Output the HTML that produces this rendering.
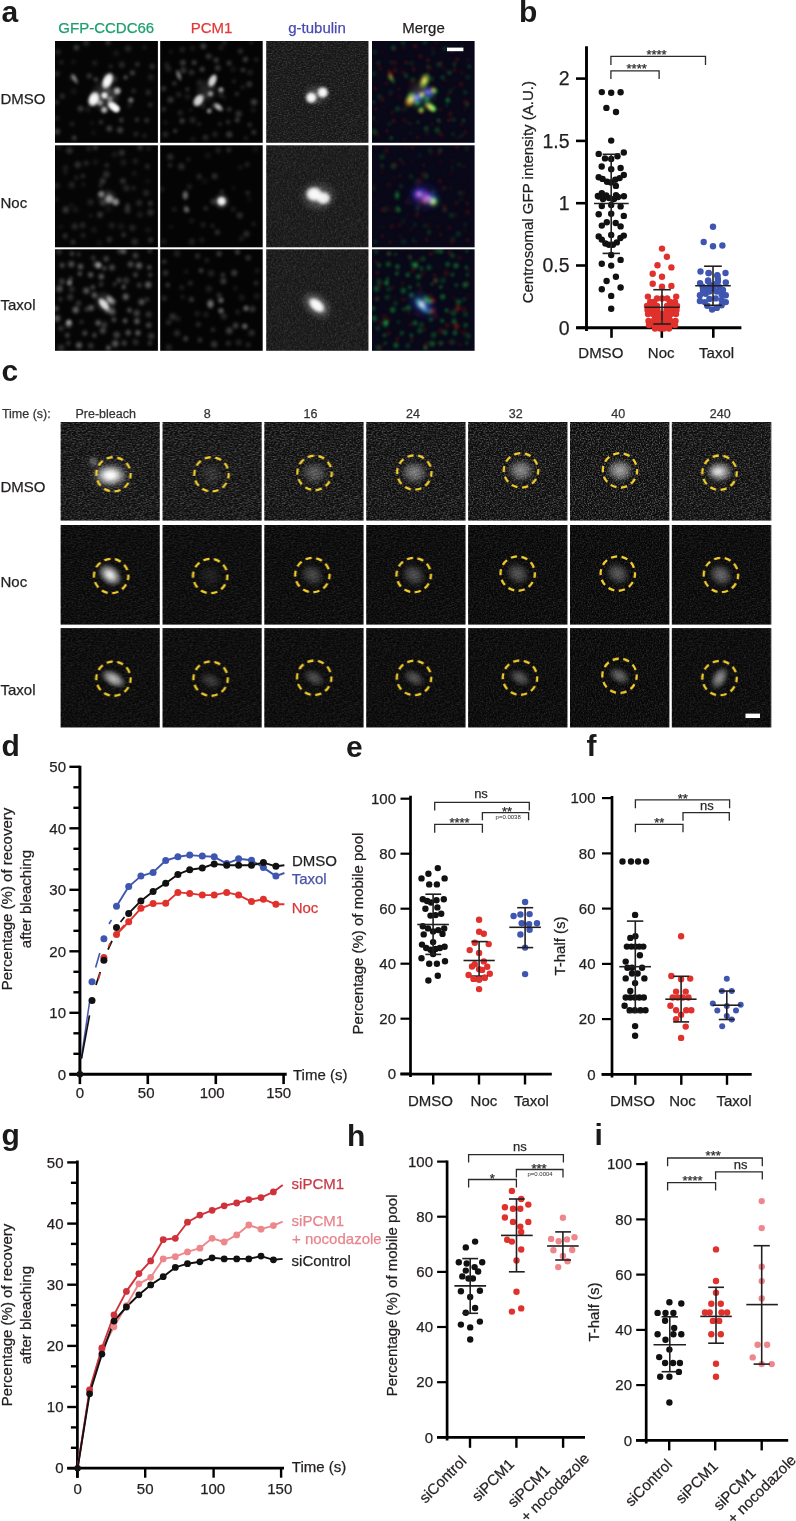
<!DOCTYPE html>
<html><head><meta charset="utf-8"><style>
html,body{margin:0;padding:0;background:#fff;}
svg{display:block;font-family:"Liberation Sans",sans-serif;will-change:transform;}
</style></head><body>
<svg width="796" height="1521" viewBox="0 0 796 1521">
<defs>
<radialGradient id="wg"><stop offset="0" stop-color="#fff" stop-opacity="1"/><stop offset="0.45" stop-color="#fff" stop-opacity="0.7"/><stop offset="1" stop-color="#fff" stop-opacity="0"/></radialGradient>
<radialGradient id="wb"><stop offset="0" stop-color="#fff" stop-opacity="1"/><stop offset="0.55" stop-color="#fff" stop-opacity="0.92"/><stop offset="0.8" stop-color="#fff" stop-opacity="0.4"/><stop offset="1" stop-color="#fff" stop-opacity="0"/></radialGradient>
<radialGradient id="gg"><stop offset="0" stop-color="#40ff60" stop-opacity="1"/><stop offset="0.45" stop-color="#20c040" stop-opacity="0.7"/><stop offset="1" stop-color="#00a020" stop-opacity="0"/></radialGradient>
<radialGradient id="rg"><stop offset="0" stop-color="#ff4020" stop-opacity="1"/><stop offset="0.45" stop-color="#d02010" stop-opacity="0.7"/><stop offset="1" stop-color="#a01000" stop-opacity="0"/></radialGradient>
<radialGradient id="bg"><stop offset="0" stop-color="#8080ff" stop-opacity="1"/><stop offset="0.45" stop-color="#3030e0" stop-opacity="0.7"/><stop offset="1" stop-color="#2020c0" stop-opacity="0"/></radialGradient>
<radialGradient id="yg"><stop offset="0" stop-color="#ffff60" stop-opacity="1"/><stop offset="0.45" stop-color="#c0e030" stop-opacity="0.7"/><stop offset="1" stop-color="#80c000" stop-opacity="0"/></radialGradient>
<radialGradient id="cg"><stop offset="0" stop-color="#b0e0ff" stop-opacity="1"/><stop offset="0.45" stop-color="#4060f0" stop-opacity="0.7"/><stop offset="1" stop-color="#2020c0" stop-opacity="0"/></radialGradient>
<filter id="noise" x="0" y="0" width="100%" height="100%"><feTurbulence type="fractalNoise" baseFrequency="0.75" numOctaves="2" seed="3"/><feColorMatrix type="matrix" values="0 0 0 0 1  0 0 0 0 1  0 0 0 0 1  2.2 0 0 0 -0.95"/></filter>
<filter id="noise2" x="0" y="0" width="100%" height="100%"><feTurbulence type="fractalNoise" baseFrequency="0.6" numOctaves="2" seed="11"/><feColorMatrix type="matrix" values="0 0 0 0 1  0 0 0 0 1  0 0 0 0 1  2.0 0 0 0 -0.9"/></filter>
<filter id="bl1" x="-20%" y="-20%" width="140%" height="140%"><feGaussianBlur stdDeviation="0.9"/></filter>
<filter id="bl2" x="-20%" y="-20%" width="140%" height="140%"><feGaussianBlur stdDeviation="1.6"/></filter>
</defs>
<text x="1.5" y="22.0" font-size="30" fill="#1a1a1a" text-anchor="start" font-weight="bold">a</text>
<text x="106.3" y="33.3" font-size="15" fill="#1f9e6e" text-anchor="middle" stroke="#1f9e6e" stroke-width="0.25">GFP-CCDC66</text>
<text x="211.5" y="33.3" font-size="15" fill="#e03a3a" text-anchor="middle" stroke="#e03a3a" stroke-width="0.25">PCM1</text>
<text x="317.0" y="33.3" font-size="15" fill="#4a4ab0" text-anchor="middle" stroke="#4a4ab0" stroke-width="0.25">g-tubulin</text>
<text x="423.5" y="33.3" font-size="15" fill="#231f20" text-anchor="middle" stroke="#231f20" stroke-width="0.25">Merge</text>
<text x="0.5" y="103.5" font-size="15" fill="#231f20" text-anchor="start" stroke="#231f20" stroke-width="0.25">DMSO</text>
<text x="0.5" y="207.5" font-size="15" fill="#231f20" text-anchor="start" stroke="#231f20" stroke-width="0.25">Noc</text>
<text x="0.5" y="309.5" font-size="15" fill="#231f20" text-anchor="start" stroke="#231f20" stroke-width="0.25">Taxol</text>
<svg x="55.0" y="41.0" width="102.9" height="101.8" overflow="hidden">
<rect x="0.0" y="0.0" width="102.9" height="101.8" fill="#050505"/>
<g filter="url(#bl2)">
<ellipse cx="3.0" cy="11.1" rx="4.1" ry="4.1" fill="url(#wg)" opacity="0.14"/>
<ellipse cx="21.4" cy="6.6" rx="3.9" ry="3.9" fill="url(#wg)" opacity="0.25"/>
<ellipse cx="31.1" cy="1.8" rx="4.2" ry="4.2" fill="url(#wg)" opacity="0.18"/>
<ellipse cx="53.0" cy="1.5" rx="3.5" ry="3.5" fill="url(#wg)" opacity="0.24"/>
<ellipse cx="61.2" cy="12.2" rx="4.3" ry="4.3" fill="url(#wg)" opacity="0.09"/>
<ellipse cx="73.1" cy="7.6" rx="4.4" ry="4.4" fill="url(#wg)" opacity="0.16"/>
<ellipse cx="89.6" cy="6.3" rx="2.8" ry="2.8" fill="url(#wg)" opacity="0.13"/>
<ellipse cx="6.4" cy="21.4" rx="3.2" ry="3.2" fill="url(#wg)" opacity="0.13"/>
<ellipse cx="18.2" cy="21.0" rx="3.3" ry="3.3" fill="url(#wg)" opacity="0.08"/>
<ellipse cx="39.6" cy="22.1" rx="3.9" ry="3.9" fill="url(#wg)" opacity="0.12"/>
<ellipse cx="55.6" cy="25.5" rx="3.0" ry="3.0" fill="url(#wg)" opacity="0.15"/>
<ellipse cx="66.8" cy="23.8" rx="4.4" ry="4.4" fill="url(#wg)" opacity="0.17"/>
<ellipse cx="82.3" cy="23.4" rx="3.3" ry="3.3" fill="url(#wg)" opacity="0.21"/>
<ellipse cx="97.2" cy="25.4" rx="3.6" ry="3.6" fill="url(#wg)" opacity="0.21"/>
<ellipse cx="1.8" cy="32.8" rx="4.1" ry="4.1" fill="url(#wg)" opacity="0.17"/>
<ellipse cx="17.7" cy="36.3" rx="4.0" ry="4.0" fill="url(#wg)" opacity="0.23"/>
<ellipse cx="34.3" cy="35.0" rx="3.6" ry="3.6" fill="url(#wg)" opacity="0.25"/>
<ellipse cx="50.2" cy="34.5" rx="3.6" ry="3.6" fill="url(#wg)" opacity="0.09"/>
<ellipse cx="59.1" cy="38.0" rx="4.5" ry="4.5" fill="url(#wg)" opacity="0.21"/>
<ellipse cx="77.4" cy="31.9" rx="3.6" ry="3.6" fill="url(#wg)" opacity="0.30"/>
<ellipse cx="95.9" cy="36.2" rx="4.3" ry="4.3" fill="url(#wg)" opacity="0.13"/>
<ellipse cx="7.3" cy="55.2" rx="3.8" ry="3.8" fill="url(#wg)" opacity="0.18"/>
<ellipse cx="18.8" cy="50.5" rx="4.4" ry="4.4" fill="url(#wg)" opacity="0.08"/>
<ellipse cx="39.0" cy="53.7" rx="4.3" ry="4.3" fill="url(#wg)" opacity="0.24"/>
<ellipse cx="53.5" cy="50.2" rx="3.7" ry="3.7" fill="url(#wg)" opacity="0.17"/>
<ellipse cx="59.2" cy="54.2" rx="3.7" ry="3.7" fill="url(#wg)" opacity="0.12"/>
<ellipse cx="78.6" cy="49.8" rx="3.4" ry="3.4" fill="url(#wg)" opacity="0.16"/>
<ellipse cx="93.3" cy="51.4" rx="3.8" ry="3.8" fill="url(#wg)" opacity="0.18"/>
<ellipse cx="1.7" cy="61.2" rx="3.1" ry="3.1" fill="url(#wg)" opacity="0.21"/>
<ellipse cx="25.6" cy="67.7" rx="4.1" ry="4.1" fill="url(#wg)" opacity="0.26"/>
<ellipse cx="32.9" cy="68.2" rx="3.9" ry="3.9" fill="url(#wg)" opacity="0.10"/>
<ellipse cx="44.5" cy="58.7" rx="4.1" ry="4.1" fill="url(#wg)" opacity="0.13"/>
<ellipse cx="59.8" cy="65.7" rx="3.4" ry="3.4" fill="url(#wg)" opacity="0.10"/>
<ellipse cx="74.7" cy="64.6" rx="3.0" ry="3.0" fill="url(#wg)" opacity="0.14"/>
<ellipse cx="95.3" cy="63.8" rx="3.3" ry="3.3" fill="url(#wg)" opacity="0.18"/>
<ellipse cx="1.7" cy="77.3" rx="3.5" ry="3.5" fill="url(#wg)" opacity="0.12"/>
<ellipse cx="17.0" cy="83.1" rx="3.6" ry="3.6" fill="url(#wg)" opacity="0.13"/>
<ellipse cx="36.9" cy="82.2" rx="2.8" ry="2.8" fill="url(#wg)" opacity="0.08"/>
<ellipse cx="46.0" cy="81.1" rx="3.0" ry="3.0" fill="url(#wg)" opacity="0.24"/>
<ellipse cx="66.3" cy="79.1" rx="3.1" ry="3.1" fill="url(#wg)" opacity="0.29"/>
<ellipse cx="82.0" cy="78.8" rx="3.1" ry="3.1" fill="url(#wg)" opacity="0.22"/>
<ellipse cx="91.7" cy="79.4" rx="3.3" ry="3.3" fill="url(#wg)" opacity="0.22"/>
<ellipse cx="2.1" cy="90.6" rx="4.4" ry="4.4" fill="url(#wg)" opacity="0.27"/>
<ellipse cx="19.2" cy="97.0" rx="3.3" ry="3.3" fill="url(#wg)" opacity="0.29"/>
<ellipse cx="38.5" cy="91.9" rx="3.2" ry="3.2" fill="url(#wg)" opacity="0.08"/>
<ellipse cx="54.3" cy="87.6" rx="4.2" ry="4.2" fill="url(#wg)" opacity="0.29"/>
<ellipse cx="65.1" cy="89.1" rx="4.3" ry="4.3" fill="url(#wg)" opacity="0.29"/>
<ellipse cx="80.9" cy="93.0" rx="3.4" ry="3.4" fill="url(#wg)" opacity="0.16"/>
<ellipse cx="89.5" cy="94.8" rx="3.5" ry="3.5" fill="url(#wg)" opacity="0.12"/>
</g>
<g filter="url(#bl1)">
<ellipse cx="52.6" cy="39.9" rx="5.8" ry="10.0" fill="url(#wb)" opacity="1.00" transform="rotate(25 52.6 39.9)"/>
<ellipse cx="38.8" cy="58.2" rx="6.4" ry="8.8" fill="url(#wb)" opacity="1.00" transform="rotate(25 38.8 58.2)"/>
<ellipse cx="49.5" cy="54.4" rx="4.2" ry="4.2" fill="url(#wb)" opacity="0.90"/>
<ellipse cx="62.3" cy="49.9" rx="4.8" ry="4.8" fill="url(#wg)" opacity="0.80"/>
<ellipse cx="58.2" cy="65.5" rx="7.8" ry="4.8" fill="url(#wb)" opacity="1.00" transform="rotate(40 58.2 65.5)"/>
<ellipse cx="61.3" cy="67.9" rx="4.6" ry="4.6" fill="url(#wb)" opacity="0.95"/>
<ellipse cx="49.2" cy="68.9" rx="4.4" ry="4.4" fill="url(#wg)" opacity="0.80"/>
<ellipse cx="45.0" cy="62.0" rx="4.0" ry="4.0" fill="url(#wg)" opacity="0.60"/>
<ellipse cx="55.0" cy="58.0" rx="4.0" ry="4.0" fill="url(#wg)" opacity="0.50"/>
<ellipse cx="75.8" cy="59.2" rx="4.0" ry="4.0" fill="url(#wg)" opacity="0.45"/>
<ellipse cx="70.6" cy="36.4" rx="3.6" ry="3.6" fill="url(#wg)" opacity="0.25"/>
<ellipse cx="40.9" cy="38.5" rx="3.6" ry="3.6" fill="url(#wg)" opacity="0.22"/>
<ellipse cx="50.0" cy="55.0" rx="16.0" ry="18.0" fill="url(#wg)" opacity="0.22"/>
<ellipse cx="19.8" cy="38.0" rx="3.2" ry="7.0" fill="url(#wg)" opacity="0.45" transform="rotate(-30 19.8 38.0)"/>
</g>
</svg>
<svg x="160.2" y="41.0" width="102.6" height="101.8" overflow="hidden">
<rect x="0.0" y="0.0" width="102.6" height="101.8" fill="#040404"/>
<g filter="url(#bl2)">
<ellipse cx="10.8" cy="10.7" rx="2.8" ry="2.8" fill="url(#wg)" opacity="0.10"/>
<ellipse cx="22.1" cy="8.6" rx="3.9" ry="3.9" fill="url(#wg)" opacity="0.15"/>
<ellipse cx="32.3" cy="7.3" rx="3.8" ry="3.8" fill="url(#wg)" opacity="0.11"/>
<ellipse cx="43.1" cy="5.2" rx="4.0" ry="4.0" fill="url(#wg)" opacity="0.30"/>
<ellipse cx="60.7" cy="6.7" rx="3.5" ry="3.5" fill="url(#wg)" opacity="0.14"/>
<ellipse cx="64.1" cy="1.5" rx="3.6" ry="3.6" fill="url(#wg)" opacity="0.15"/>
<ellipse cx="80.1" cy="10.2" rx="3.7" ry="3.7" fill="url(#wg)" opacity="0.20"/>
<ellipse cx="91.1" cy="1.5" rx="3.3" ry="3.3" fill="url(#wg)" opacity="0.11"/>
<ellipse cx="6.4" cy="23.7" rx="3.9" ry="3.9" fill="url(#wg)" opacity="0.12"/>
<ellipse cx="22.7" cy="21.7" rx="4.0" ry="4.0" fill="url(#wg)" opacity="0.28"/>
<ellipse cx="33.9" cy="21.6" rx="3.4" ry="3.4" fill="url(#wg)" opacity="0.30"/>
<ellipse cx="48.4" cy="15.4" rx="4.1" ry="4.1" fill="url(#wg)" opacity="0.24"/>
<ellipse cx="55.9" cy="19.1" rx="3.6" ry="3.6" fill="url(#wg)" opacity="0.28"/>
<ellipse cx="68.8" cy="22.1" rx="3.4" ry="3.4" fill="url(#wg)" opacity="0.27"/>
<ellipse cx="85.2" cy="18.4" rx="3.7" ry="3.7" fill="url(#wg)" opacity="0.28"/>
<ellipse cx="96.0" cy="18.6" rx="3.1" ry="3.1" fill="url(#wg)" opacity="0.15"/>
<ellipse cx="8.2" cy="27.9" rx="4.3" ry="4.3" fill="url(#wg)" opacity="0.14"/>
<ellipse cx="22.9" cy="29.3" rx="4.4" ry="4.4" fill="url(#wg)" opacity="0.24"/>
<ellipse cx="31.3" cy="31.4" rx="3.9" ry="3.9" fill="url(#wg)" opacity="0.21"/>
<ellipse cx="41.9" cy="28.3" rx="3.6" ry="3.6" fill="url(#wg)" opacity="0.29"/>
<ellipse cx="57.5" cy="27.0" rx="4.2" ry="4.2" fill="url(#wg)" opacity="0.24"/>
<ellipse cx="72.8" cy="28.2" rx="4.1" ry="4.1" fill="url(#wg)" opacity="0.09"/>
<ellipse cx="82.8" cy="29.0" rx="3.1" ry="3.1" fill="url(#wg)" opacity="0.27"/>
<ellipse cx="89.8" cy="31.5" rx="4.2" ry="4.2" fill="url(#wg)" opacity="0.13"/>
<ellipse cx="3.4" cy="47.6" rx="3.5" ry="3.5" fill="url(#wg)" opacity="0.24"/>
<ellipse cx="14.1" cy="42.4" rx="3.1" ry="3.1" fill="url(#wg)" opacity="0.23"/>
<ellipse cx="27.1" cy="48.3" rx="2.8" ry="2.8" fill="url(#wg)" opacity="0.24"/>
<ellipse cx="39.0" cy="41.3" rx="4.2" ry="4.2" fill="url(#wg)" opacity="0.11"/>
<ellipse cx="53.1" cy="45.7" rx="3.4" ry="3.4" fill="url(#wg)" opacity="0.09"/>
<ellipse cx="73.7" cy="40.3" rx="2.8" ry="2.8" fill="url(#wg)" opacity="0.16"/>
<ellipse cx="82.4" cy="46.2" rx="2.9" ry="2.9" fill="url(#wg)" opacity="0.15"/>
<ellipse cx="89.1" cy="43.2" rx="4.1" ry="4.1" fill="url(#wg)" opacity="0.24"/>
<ellipse cx="10.3" cy="58.8" rx="4.3" ry="4.3" fill="url(#wg)" opacity="0.24"/>
<ellipse cx="18.5" cy="53.5" rx="3.9" ry="3.9" fill="url(#wg)" opacity="0.15"/>
<ellipse cx="27.3" cy="55.7" rx="4.3" ry="4.3" fill="url(#wg)" opacity="0.11"/>
<ellipse cx="44.6" cy="55.2" rx="3.7" ry="3.7" fill="url(#wg)" opacity="0.11"/>
<ellipse cx="60.8" cy="53.8" rx="3.8" ry="3.8" fill="url(#wg)" opacity="0.17"/>
<ellipse cx="63.9" cy="56.8" rx="3.0" ry="3.0" fill="url(#wg)" opacity="0.09"/>
<ellipse cx="76.6" cy="52.9" rx="2.9" ry="2.9" fill="url(#wg)" opacity="0.22"/>
<ellipse cx="93.8" cy="61.1" rx="4.4" ry="4.4" fill="url(#wg)" opacity="0.30"/>
<ellipse cx="3.6" cy="68.2" rx="3.2" ry="3.2" fill="url(#wg)" opacity="0.21"/>
<ellipse cx="20.0" cy="71.8" rx="4.0" ry="4.0" fill="url(#wg)" opacity="0.14"/>
<ellipse cx="30.5" cy="69.0" rx="2.8" ry="2.8" fill="url(#wg)" opacity="0.09"/>
<ellipse cx="42.8" cy="64.9" rx="4.0" ry="4.0" fill="url(#wg)" opacity="0.13"/>
<ellipse cx="52.2" cy="65.6" rx="3.2" ry="3.2" fill="url(#wg)" opacity="0.13"/>
<ellipse cx="69.0" cy="68.4" rx="3.3" ry="3.3" fill="url(#wg)" opacity="0.22"/>
<ellipse cx="78.4" cy="72.8" rx="4.4" ry="4.4" fill="url(#wg)" opacity="0.24"/>
<ellipse cx="93.1" cy="68.9" rx="3.8" ry="3.8" fill="url(#wg)" opacity="0.09"/>
<ellipse cx="5.4" cy="81.5" rx="3.1" ry="3.1" fill="url(#wg)" opacity="0.10"/>
<ellipse cx="21.8" cy="79.9" rx="3.7" ry="3.7" fill="url(#wg)" opacity="0.28"/>
<ellipse cx="32.4" cy="79.1" rx="4.5" ry="4.5" fill="url(#wg)" opacity="0.16"/>
<ellipse cx="38.9" cy="83.1" rx="2.9" ry="2.9" fill="url(#wg)" opacity="0.15"/>
<ellipse cx="59.7" cy="83.0" rx="2.8" ry="2.8" fill="url(#wg)" opacity="0.18"/>
<ellipse cx="67.9" cy="81.1" rx="3.1" ry="3.1" fill="url(#wg)" opacity="0.21"/>
<ellipse cx="77.0" cy="79.1" rx="3.4" ry="3.4" fill="url(#wg)" opacity="0.29"/>
<ellipse cx="89.5" cy="83.8" rx="3.1" ry="3.1" fill="url(#wg)" opacity="0.21"/>
<ellipse cx="5.2" cy="93.4" rx="4.1" ry="4.1" fill="url(#wg)" opacity="0.17"/>
<ellipse cx="15.0" cy="90.0" rx="2.9" ry="2.9" fill="url(#wg)" opacity="0.27"/>
<ellipse cx="32.7" cy="98.3" rx="4.0" ry="4.0" fill="url(#wg)" opacity="0.09"/>
<ellipse cx="45.3" cy="96.5" rx="4.0" ry="4.0" fill="url(#wg)" opacity="0.19"/>
<ellipse cx="54.8" cy="93.3" rx="4.1" ry="4.1" fill="url(#wg)" opacity="0.14"/>
<ellipse cx="69.0" cy="93.5" rx="4.4" ry="4.4" fill="url(#wg)" opacity="0.26"/>
<ellipse cx="85.6" cy="97.1" rx="3.3" ry="3.3" fill="url(#wg)" opacity="0.13"/>
<ellipse cx="93.6" cy="91.3" rx="3.5" ry="3.5" fill="url(#wg)" opacity="0.23"/>
</g>
<g filter="url(#bl1)">
<ellipse cx="52.3" cy="39.6" rx="4.6" ry="8.0" fill="url(#wb)" opacity="0.85" transform="rotate(25 52.3 39.6)"/>
<ellipse cx="38.3" cy="59.4" rx="5.5" ry="8.0" fill="url(#wb)" opacity="0.85" transform="rotate(35 38.3 59.4)"/>
<ellipse cx="50.2" cy="52.8" rx="3.8" ry="3.8" fill="url(#wg)" opacity="0.65"/>
<ellipse cx="60.7" cy="48.8" rx="3.8" ry="3.8" fill="url(#wg)" opacity="0.65"/>
<ellipse cx="58.0" cy="66.0" rx="7.0" ry="4.0" fill="url(#wg)" opacity="0.80" transform="rotate(40 58.0 66.0)"/>
<ellipse cx="48.9" cy="70.0" rx="3.5" ry="3.5" fill="url(#wg)" opacity="0.60"/>
<ellipse cx="18.5" cy="34.3" rx="3.2" ry="7.0" fill="url(#wg)" opacity="0.50" transform="rotate(-20 18.5 34.3)"/>
<ellipse cx="46.0" cy="50.0" rx="12.0" ry="14.0" fill="url(#wg)" opacity="0.15"/>
</g>
</svg>
<svg x="266.2" y="41.0" width="102.3" height="101.8" overflow="hidden">
<rect x="0.0" y="0.0" width="102.3" height="101.8" fill="#161616"/>
<rect x="0" y="0" width="102.3" height="101.8" filter="url(#noise)" opacity="0.22"/>
<g filter="url(#bl2)">
</g>
<g filter="url(#bl1)">
<ellipse cx="45.0" cy="56.7" rx="6.5" ry="6.5" fill="url(#wb)" opacity="1.00"/>
<ellipse cx="56.5" cy="51.4" rx="6.5" ry="6.5" fill="url(#wb)" opacity="1.00"/>
<ellipse cx="50.0" cy="54.0" rx="14.0" ry="12.0" fill="url(#wg)" opacity="0.22"/>
</g>
</svg>
<svg x="372.0" y="41.0" width="102.6" height="101.8" overflow="hidden">
<rect x="0.0" y="0.0" width="102.6" height="101.8" fill="#080818"/>
<g filter="url(#bl1)">
<ellipse cx="45.0" cy="56.7" rx="6.8" ry="6.8" fill="url(#bg)" opacity="0.85" style="mix-blend-mode:screen"/>
<ellipse cx="56.5" cy="51.4" rx="6.8" ry="6.8" fill="url(#bg)" opacity="0.85" style="mix-blend-mode:screen"/>
<ellipse cx="50.0" cy="54.0" rx="14.7" ry="12.6" fill="url(#bg)" opacity="0.19" style="mix-blend-mode:screen"/>
<ellipse cx="10.8" cy="10.7" rx="2.8" ry="2.8" fill="url(#rg)" opacity="0.07" style="mix-blend-mode:screen"/>
<ellipse cx="22.1" cy="8.6" rx="3.9" ry="3.9" fill="url(#rg)" opacity="0.10" style="mix-blend-mode:screen"/>
<ellipse cx="32.3" cy="7.3" rx="3.8" ry="3.8" fill="url(#rg)" opacity="0.08" style="mix-blend-mode:screen"/>
<ellipse cx="43.1" cy="5.2" rx="4.0" ry="4.0" fill="url(#rg)" opacity="0.21" style="mix-blend-mode:screen"/>
<ellipse cx="60.7" cy="6.7" rx="3.5" ry="3.5" fill="url(#rg)" opacity="0.10" style="mix-blend-mode:screen"/>
<ellipse cx="64.1" cy="1.5" rx="3.6" ry="3.6" fill="url(#rg)" opacity="0.11" style="mix-blend-mode:screen"/>
<ellipse cx="80.1" cy="10.2" rx="3.7" ry="3.7" fill="url(#rg)" opacity="0.14" style="mix-blend-mode:screen"/>
<ellipse cx="91.1" cy="1.5" rx="3.3" ry="3.3" fill="url(#rg)" opacity="0.08" style="mix-blend-mode:screen"/>
<ellipse cx="6.4" cy="23.7" rx="3.9" ry="3.9" fill="url(#rg)" opacity="0.08" style="mix-blend-mode:screen"/>
<ellipse cx="22.7" cy="21.7" rx="4.0" ry="4.0" fill="url(#rg)" opacity="0.20" style="mix-blend-mode:screen"/>
<ellipse cx="33.9" cy="21.6" rx="3.4" ry="3.4" fill="url(#rg)" opacity="0.21" style="mix-blend-mode:screen"/>
<ellipse cx="48.4" cy="15.4" rx="4.1" ry="4.1" fill="url(#rg)" opacity="0.17" style="mix-blend-mode:screen"/>
<ellipse cx="55.9" cy="19.1" rx="3.6" ry="3.6" fill="url(#rg)" opacity="0.20" style="mix-blend-mode:screen"/>
<ellipse cx="68.8" cy="22.1" rx="3.4" ry="3.4" fill="url(#rg)" opacity="0.19" style="mix-blend-mode:screen"/>
<ellipse cx="85.2" cy="18.4" rx="3.7" ry="3.7" fill="url(#rg)" opacity="0.20" style="mix-blend-mode:screen"/>
<ellipse cx="96.0" cy="18.6" rx="3.1" ry="3.1" fill="url(#rg)" opacity="0.11" style="mix-blend-mode:screen"/>
<ellipse cx="8.2" cy="27.9" rx="4.3" ry="4.3" fill="url(#rg)" opacity="0.10" style="mix-blend-mode:screen"/>
<ellipse cx="22.9" cy="29.3" rx="4.4" ry="4.4" fill="url(#rg)" opacity="0.16" style="mix-blend-mode:screen"/>
<ellipse cx="31.3" cy="31.4" rx="3.9" ry="3.9" fill="url(#rg)" opacity="0.15" style="mix-blend-mode:screen"/>
<ellipse cx="41.9" cy="28.3" rx="3.6" ry="3.6" fill="url(#rg)" opacity="0.20" style="mix-blend-mode:screen"/>
<ellipse cx="57.5" cy="27.0" rx="4.2" ry="4.2" fill="url(#rg)" opacity="0.17" style="mix-blend-mode:screen"/>
<ellipse cx="72.8" cy="28.2" rx="4.1" ry="4.1" fill="url(#rg)" opacity="0.07" style="mix-blend-mode:screen"/>
<ellipse cx="82.8" cy="29.0" rx="3.1" ry="3.1" fill="url(#rg)" opacity="0.19" style="mix-blend-mode:screen"/>
<ellipse cx="89.8" cy="31.5" rx="4.2" ry="4.2" fill="url(#rg)" opacity="0.09" style="mix-blend-mode:screen"/>
<ellipse cx="3.4" cy="47.6" rx="3.5" ry="3.5" fill="url(#rg)" opacity="0.17" style="mix-blend-mode:screen"/>
<ellipse cx="14.1" cy="42.4" rx="3.1" ry="3.1" fill="url(#rg)" opacity="0.16" style="mix-blend-mode:screen"/>
<ellipse cx="27.1" cy="48.3" rx="2.8" ry="2.8" fill="url(#rg)" opacity="0.17" style="mix-blend-mode:screen"/>
<ellipse cx="39.0" cy="41.3" rx="4.2" ry="4.2" fill="url(#rg)" opacity="0.08" style="mix-blend-mode:screen"/>
<ellipse cx="53.1" cy="45.7" rx="3.4" ry="3.4" fill="url(#rg)" opacity="0.06" style="mix-blend-mode:screen"/>
<ellipse cx="73.7" cy="40.3" rx="2.8" ry="2.8" fill="url(#rg)" opacity="0.11" style="mix-blend-mode:screen"/>
<ellipse cx="82.4" cy="46.2" rx="2.9" ry="2.9" fill="url(#rg)" opacity="0.11" style="mix-blend-mode:screen"/>
<ellipse cx="89.1" cy="43.2" rx="4.1" ry="4.1" fill="url(#rg)" opacity="0.17" style="mix-blend-mode:screen"/>
<ellipse cx="10.3" cy="58.8" rx="4.3" ry="4.3" fill="url(#rg)" opacity="0.16" style="mix-blend-mode:screen"/>
<ellipse cx="18.5" cy="53.5" rx="3.9" ry="3.9" fill="url(#rg)" opacity="0.10" style="mix-blend-mode:screen"/>
<ellipse cx="27.3" cy="55.7" rx="4.3" ry="4.3" fill="url(#rg)" opacity="0.08" style="mix-blend-mode:screen"/>
<ellipse cx="44.6" cy="55.2" rx="3.7" ry="3.7" fill="url(#rg)" opacity="0.08" style="mix-blend-mode:screen"/>
<ellipse cx="60.8" cy="53.8" rx="3.8" ry="3.8" fill="url(#rg)" opacity="0.12" style="mix-blend-mode:screen"/>
<ellipse cx="63.9" cy="56.8" rx="3.0" ry="3.0" fill="url(#rg)" opacity="0.06" style="mix-blend-mode:screen"/>
<ellipse cx="76.6" cy="52.9" rx="2.9" ry="2.9" fill="url(#rg)" opacity="0.15" style="mix-blend-mode:screen"/>
<ellipse cx="93.8" cy="61.1" rx="4.4" ry="4.4" fill="url(#rg)" opacity="0.21" style="mix-blend-mode:screen"/>
<ellipse cx="3.6" cy="68.2" rx="3.2" ry="3.2" fill="url(#rg)" opacity="0.15" style="mix-blend-mode:screen"/>
<ellipse cx="20.0" cy="71.8" rx="4.0" ry="4.0" fill="url(#rg)" opacity="0.10" style="mix-blend-mode:screen"/>
<ellipse cx="30.5" cy="69.0" rx="2.8" ry="2.8" fill="url(#rg)" opacity="0.06" style="mix-blend-mode:screen"/>
<ellipse cx="42.8" cy="64.9" rx="4.0" ry="4.0" fill="url(#rg)" opacity="0.09" style="mix-blend-mode:screen"/>
<ellipse cx="52.2" cy="65.6" rx="3.2" ry="3.2" fill="url(#rg)" opacity="0.09" style="mix-blend-mode:screen"/>
<ellipse cx="69.0" cy="68.4" rx="3.3" ry="3.3" fill="url(#rg)" opacity="0.15" style="mix-blend-mode:screen"/>
<ellipse cx="78.4" cy="72.8" rx="4.4" ry="4.4" fill="url(#rg)" opacity="0.17" style="mix-blend-mode:screen"/>
<ellipse cx="93.1" cy="68.9" rx="3.8" ry="3.8" fill="url(#rg)" opacity="0.06" style="mix-blend-mode:screen"/>
<ellipse cx="5.4" cy="81.5" rx="3.1" ry="3.1" fill="url(#rg)" opacity="0.07" style="mix-blend-mode:screen"/>
<ellipse cx="21.8" cy="79.9" rx="3.7" ry="3.7" fill="url(#rg)" opacity="0.20" style="mix-blend-mode:screen"/>
<ellipse cx="32.4" cy="79.1" rx="4.5" ry="4.5" fill="url(#rg)" opacity="0.11" style="mix-blend-mode:screen"/>
<ellipse cx="38.9" cy="83.1" rx="2.9" ry="2.9" fill="url(#rg)" opacity="0.10" style="mix-blend-mode:screen"/>
<ellipse cx="59.7" cy="83.0" rx="2.8" ry="2.8" fill="url(#rg)" opacity="0.13" style="mix-blend-mode:screen"/>
<ellipse cx="67.9" cy="81.1" rx="3.1" ry="3.1" fill="url(#rg)" opacity="0.15" style="mix-blend-mode:screen"/>
<ellipse cx="77.0" cy="79.1" rx="3.4" ry="3.4" fill="url(#rg)" opacity="0.20" style="mix-blend-mode:screen"/>
<ellipse cx="89.5" cy="83.8" rx="3.1" ry="3.1" fill="url(#rg)" opacity="0.14" style="mix-blend-mode:screen"/>
<ellipse cx="5.2" cy="93.4" rx="4.1" ry="4.1" fill="url(#rg)" opacity="0.12" style="mix-blend-mode:screen"/>
<ellipse cx="15.0" cy="90.0" rx="2.9" ry="2.9" fill="url(#rg)" opacity="0.19" style="mix-blend-mode:screen"/>
<ellipse cx="32.7" cy="98.3" rx="4.0" ry="4.0" fill="url(#rg)" opacity="0.06" style="mix-blend-mode:screen"/>
<ellipse cx="45.3" cy="96.5" rx="4.0" ry="4.0" fill="url(#rg)" opacity="0.13" style="mix-blend-mode:screen"/>
<ellipse cx="54.8" cy="93.3" rx="4.1" ry="4.1" fill="url(#rg)" opacity="0.10" style="mix-blend-mode:screen"/>
<ellipse cx="69.0" cy="93.5" rx="4.4" ry="4.4" fill="url(#rg)" opacity="0.18" style="mix-blend-mode:screen"/>
<ellipse cx="85.6" cy="97.1" rx="3.3" ry="3.3" fill="url(#rg)" opacity="0.09" style="mix-blend-mode:screen"/>
<ellipse cx="93.6" cy="91.3" rx="3.5" ry="3.5" fill="url(#rg)" opacity="0.16" style="mix-blend-mode:screen"/>
<ellipse cx="3.0" cy="11.1" rx="4.1" ry="4.1" fill="url(#gg)" opacity="0.12" style="mix-blend-mode:screen"/>
<ellipse cx="21.4" cy="6.6" rx="3.9" ry="3.9" fill="url(#gg)" opacity="0.23" style="mix-blend-mode:screen"/>
<ellipse cx="31.1" cy="1.8" rx="4.2" ry="4.2" fill="url(#gg)" opacity="0.16" style="mix-blend-mode:screen"/>
<ellipse cx="53.0" cy="1.5" rx="3.5" ry="3.5" fill="url(#gg)" opacity="0.21" style="mix-blend-mode:screen"/>
<ellipse cx="61.2" cy="12.2" rx="4.3" ry="4.3" fill="url(#gg)" opacity="0.08" style="mix-blend-mode:screen"/>
<ellipse cx="73.1" cy="7.6" rx="4.4" ry="4.4" fill="url(#gg)" opacity="0.15" style="mix-blend-mode:screen"/>
<ellipse cx="89.6" cy="6.3" rx="2.8" ry="2.8" fill="url(#gg)" opacity="0.12" style="mix-blend-mode:screen"/>
<ellipse cx="6.4" cy="21.4" rx="3.2" ry="3.2" fill="url(#gg)" opacity="0.12" style="mix-blend-mode:screen"/>
<ellipse cx="18.2" cy="21.0" rx="3.3" ry="3.3" fill="url(#gg)" opacity="0.08" style="mix-blend-mode:screen"/>
<ellipse cx="39.6" cy="22.1" rx="3.9" ry="3.9" fill="url(#gg)" opacity="0.11" style="mix-blend-mode:screen"/>
<ellipse cx="55.6" cy="25.5" rx="3.0" ry="3.0" fill="url(#gg)" opacity="0.14" style="mix-blend-mode:screen"/>
<ellipse cx="66.8" cy="23.8" rx="4.4" ry="4.4" fill="url(#gg)" opacity="0.16" style="mix-blend-mode:screen"/>
<ellipse cx="82.3" cy="23.4" rx="3.3" ry="3.3" fill="url(#gg)" opacity="0.19" style="mix-blend-mode:screen"/>
<ellipse cx="97.2" cy="25.4" rx="3.6" ry="3.6" fill="url(#gg)" opacity="0.19" style="mix-blend-mode:screen"/>
<ellipse cx="1.8" cy="32.8" rx="4.1" ry="4.1" fill="url(#gg)" opacity="0.15" style="mix-blend-mode:screen"/>
<ellipse cx="17.7" cy="36.3" rx="4.0" ry="4.0" fill="url(#gg)" opacity="0.21" style="mix-blend-mode:screen"/>
<ellipse cx="34.3" cy="35.0" rx="3.6" ry="3.6" fill="url(#gg)" opacity="0.23" style="mix-blend-mode:screen"/>
<ellipse cx="50.2" cy="34.5" rx="3.6" ry="3.6" fill="url(#gg)" opacity="0.08" style="mix-blend-mode:screen"/>
<ellipse cx="59.1" cy="38.0" rx="4.5" ry="4.5" fill="url(#gg)" opacity="0.19" style="mix-blend-mode:screen"/>
<ellipse cx="77.4" cy="31.9" rx="3.6" ry="3.6" fill="url(#gg)" opacity="0.27" style="mix-blend-mode:screen"/>
<ellipse cx="95.9" cy="36.2" rx="4.3" ry="4.3" fill="url(#gg)" opacity="0.12" style="mix-blend-mode:screen"/>
<ellipse cx="7.3" cy="55.2" rx="3.8" ry="3.8" fill="url(#gg)" opacity="0.16" style="mix-blend-mode:screen"/>
<ellipse cx="18.8" cy="50.5" rx="4.4" ry="4.4" fill="url(#gg)" opacity="0.07" style="mix-blend-mode:screen"/>
<ellipse cx="39.0" cy="53.7" rx="4.3" ry="4.3" fill="url(#gg)" opacity="0.22" style="mix-blend-mode:screen"/>
<ellipse cx="53.5" cy="50.2" rx="3.7" ry="3.7" fill="url(#gg)" opacity="0.16" style="mix-blend-mode:screen"/>
<ellipse cx="59.2" cy="54.2" rx="3.7" ry="3.7" fill="url(#gg)" opacity="0.11" style="mix-blend-mode:screen"/>
<ellipse cx="78.6" cy="49.8" rx="3.4" ry="3.4" fill="url(#gg)" opacity="0.14" style="mix-blend-mode:screen"/>
<ellipse cx="93.3" cy="51.4" rx="3.8" ry="3.8" fill="url(#gg)" opacity="0.16" style="mix-blend-mode:screen"/>
<ellipse cx="1.7" cy="61.2" rx="3.1" ry="3.1" fill="url(#gg)" opacity="0.19" style="mix-blend-mode:screen"/>
<ellipse cx="25.6" cy="67.7" rx="4.1" ry="4.1" fill="url(#gg)" opacity="0.23" style="mix-blend-mode:screen"/>
<ellipse cx="32.9" cy="68.2" rx="3.9" ry="3.9" fill="url(#gg)" opacity="0.09" style="mix-blend-mode:screen"/>
<ellipse cx="44.5" cy="58.7" rx="4.1" ry="4.1" fill="url(#gg)" opacity="0.12" style="mix-blend-mode:screen"/>
<ellipse cx="59.8" cy="65.7" rx="3.4" ry="3.4" fill="url(#gg)" opacity="0.09" style="mix-blend-mode:screen"/>
<ellipse cx="74.7" cy="64.6" rx="3.0" ry="3.0" fill="url(#gg)" opacity="0.13" style="mix-blend-mode:screen"/>
<ellipse cx="95.3" cy="63.8" rx="3.3" ry="3.3" fill="url(#gg)" opacity="0.17" style="mix-blend-mode:screen"/>
<ellipse cx="1.7" cy="77.3" rx="3.5" ry="3.5" fill="url(#gg)" opacity="0.11" style="mix-blend-mode:screen"/>
<ellipse cx="17.0" cy="83.1" rx="3.6" ry="3.6" fill="url(#gg)" opacity="0.11" style="mix-blend-mode:screen"/>
<ellipse cx="36.9" cy="82.2" rx="2.8" ry="2.8" fill="url(#gg)" opacity="0.08" style="mix-blend-mode:screen"/>
<ellipse cx="46.0" cy="81.1" rx="3.0" ry="3.0" fill="url(#gg)" opacity="0.21" style="mix-blend-mode:screen"/>
<ellipse cx="66.3" cy="79.1" rx="3.1" ry="3.1" fill="url(#gg)" opacity="0.27" style="mix-blend-mode:screen"/>
<ellipse cx="82.0" cy="78.8" rx="3.1" ry="3.1" fill="url(#gg)" opacity="0.20" style="mix-blend-mode:screen"/>
<ellipse cx="91.7" cy="79.4" rx="3.3" ry="3.3" fill="url(#gg)" opacity="0.20" style="mix-blend-mode:screen"/>
<ellipse cx="2.1" cy="90.6" rx="4.4" ry="4.4" fill="url(#gg)" opacity="0.25" style="mix-blend-mode:screen"/>
<ellipse cx="19.2" cy="97.0" rx="3.3" ry="3.3" fill="url(#gg)" opacity="0.26" style="mix-blend-mode:screen"/>
<ellipse cx="38.5" cy="91.9" rx="3.2" ry="3.2" fill="url(#gg)" opacity="0.07" style="mix-blend-mode:screen"/>
<ellipse cx="54.3" cy="87.6" rx="4.2" ry="4.2" fill="url(#gg)" opacity="0.26" style="mix-blend-mode:screen"/>
<ellipse cx="65.1" cy="89.1" rx="4.3" ry="4.3" fill="url(#gg)" opacity="0.26" style="mix-blend-mode:screen"/>
<ellipse cx="80.9" cy="93.0" rx="3.4" ry="3.4" fill="url(#gg)" opacity="0.14" style="mix-blend-mode:screen"/>
<ellipse cx="89.5" cy="94.8" rx="3.5" ry="3.5" fill="url(#gg)" opacity="0.11" style="mix-blend-mode:screen"/>
<ellipse cx="52.3" cy="39.6" rx="5.1" ry="8.8" fill="url(#rg)" opacity="0.94" transform="rotate(25 52.3 39.6)" style="mix-blend-mode:screen"/>
<ellipse cx="38.3" cy="59.4" rx="6.1" ry="8.8" fill="url(#rg)" opacity="0.94" transform="rotate(35 38.3 59.4)" style="mix-blend-mode:screen"/>
<ellipse cx="50.2" cy="52.8" rx="4.2" ry="4.2" fill="url(#rg)" opacity="0.72" style="mix-blend-mode:screen"/>
<ellipse cx="60.7" cy="48.8" rx="4.2" ry="4.2" fill="url(#rg)" opacity="0.72" style="mix-blend-mode:screen"/>
<ellipse cx="58.0" cy="66.0" rx="7.7" ry="4.4" fill="url(#rg)" opacity="0.88" transform="rotate(40 58.0 66.0)" style="mix-blend-mode:screen"/>
<ellipse cx="48.9" cy="70.0" rx="3.9" ry="3.9" fill="url(#rg)" opacity="0.66" style="mix-blend-mode:screen"/>
<ellipse cx="18.5" cy="34.3" rx="3.5" ry="7.7" fill="url(#rg)" opacity="0.55" transform="rotate(-20 18.5 34.3)" style="mix-blend-mode:screen"/>
<ellipse cx="46.0" cy="50.0" rx="13.2" ry="15.4" fill="url(#rg)" opacity="0.17" style="mix-blend-mode:screen"/>
<ellipse cx="52.6" cy="39.9" rx="5.8" ry="10.0" fill="url(#gg)" opacity="0.95" transform="rotate(25 52.6 39.9)" style="mix-blend-mode:screen"/>
<ellipse cx="38.8" cy="58.2" rx="6.4" ry="8.8" fill="url(#gg)" opacity="0.95" transform="rotate(25 38.8 58.2)" style="mix-blend-mode:screen"/>
<ellipse cx="49.5" cy="54.4" rx="4.2" ry="4.2" fill="url(#gg)" opacity="0.85" style="mix-blend-mode:screen"/>
<ellipse cx="62.3" cy="49.9" rx="4.8" ry="4.8" fill="url(#gg)" opacity="0.76" style="mix-blend-mode:screen"/>
<ellipse cx="58.2" cy="65.5" rx="7.8" ry="4.8" fill="url(#gg)" opacity="0.95" transform="rotate(40 58.2 65.5)" style="mix-blend-mode:screen"/>
<ellipse cx="61.3" cy="67.9" rx="4.6" ry="4.6" fill="url(#gg)" opacity="0.90" style="mix-blend-mode:screen"/>
<ellipse cx="49.2" cy="68.9" rx="4.4" ry="4.4" fill="url(#gg)" opacity="0.76" style="mix-blend-mode:screen"/>
<ellipse cx="45.0" cy="62.0" rx="4.0" ry="4.0" fill="url(#gg)" opacity="0.57" style="mix-blend-mode:screen"/>
<ellipse cx="55.0" cy="58.0" rx="4.0" ry="4.0" fill="url(#gg)" opacity="0.47" style="mix-blend-mode:screen"/>
<ellipse cx="75.8" cy="59.2" rx="4.0" ry="4.0" fill="url(#gg)" opacity="0.43" style="mix-blend-mode:screen"/>
<ellipse cx="70.6" cy="36.4" rx="3.6" ry="3.6" fill="url(#gg)" opacity="0.24" style="mix-blend-mode:screen"/>
<ellipse cx="40.9" cy="38.5" rx="3.6" ry="3.6" fill="url(#gg)" opacity="0.21" style="mix-blend-mode:screen"/>
<ellipse cx="50.0" cy="55.0" rx="16.0" ry="18.0" fill="url(#gg)" opacity="0.21" style="mix-blend-mode:screen"/>
<ellipse cx="19.8" cy="38.0" rx="3.2" ry="7.0" fill="url(#gg)" opacity="0.43" transform="rotate(-30 19.8 38.0)" style="mix-blend-mode:screen"/>
</g>
</svg>
<svg x="55.0" y="145.3" width="102.9" height="102.0" overflow="hidden">
<rect x="0.0" y="0.0" width="102.9" height="102.0" fill="#050505"/>
<g filter="url(#bl2)">
<ellipse cx="3.6" cy="2.3" rx="3.7" ry="3.7" fill="url(#wg)" opacity="0.10"/>
<ellipse cx="14.4" cy="5.3" rx="4.6" ry="4.6" fill="url(#wg)" opacity="0.21"/>
<ellipse cx="33.9" cy="3.5" rx="3.9" ry="3.9" fill="url(#wg)" opacity="0.12"/>
<ellipse cx="40.5" cy="2.3" rx="3.4" ry="3.4" fill="url(#wg)" opacity="0.24"/>
<ellipse cx="59.5" cy="9.3" rx="4.4" ry="4.4" fill="url(#wg)" opacity="0.10"/>
<ellipse cx="66.8" cy="7.5" rx="4.3" ry="4.3" fill="url(#wg)" opacity="0.22"/>
<ellipse cx="85.1" cy="2.1" rx="4.1" ry="4.1" fill="url(#wg)" opacity="0.19"/>
<ellipse cx="93.8" cy="3.0" rx="3.8" ry="3.8" fill="url(#wg)" opacity="0.09"/>
<ellipse cx="10.6" cy="22.4" rx="4.0" ry="4.0" fill="url(#wg)" opacity="0.12"/>
<ellipse cx="22.8" cy="19.5" rx="4.5" ry="4.5" fill="url(#wg)" opacity="0.22"/>
<ellipse cx="31.3" cy="17.9" rx="4.0" ry="4.0" fill="url(#wg)" opacity="0.15"/>
<ellipse cx="40.4" cy="16.8" rx="4.4" ry="4.4" fill="url(#wg)" opacity="0.08"/>
<ellipse cx="51.7" cy="20.0" rx="3.5" ry="3.5" fill="url(#wg)" opacity="0.17"/>
<ellipse cx="68.5" cy="17.2" rx="4.7" ry="4.7" fill="url(#wg)" opacity="0.11"/>
<ellipse cx="80.4" cy="15.8" rx="4.1" ry="4.1" fill="url(#wg)" opacity="0.12"/>
<ellipse cx="92.3" cy="21.2" rx="3.6" ry="3.6" fill="url(#wg)" opacity="0.17"/>
<ellipse cx="10.3" cy="27.3" rx="3.1" ry="3.1" fill="url(#wg)" opacity="0.11"/>
<ellipse cx="21.4" cy="32.4" rx="3.4" ry="3.4" fill="url(#wg)" opacity="0.13"/>
<ellipse cx="28.0" cy="30.8" rx="3.1" ry="3.1" fill="url(#wg)" opacity="0.20"/>
<ellipse cx="47.7" cy="35.8" rx="4.3" ry="4.3" fill="url(#wg)" opacity="0.24"/>
<ellipse cx="51.4" cy="29.1" rx="4.7" ry="4.7" fill="url(#wg)" opacity="0.21"/>
<ellipse cx="67.9" cy="35.7" rx="4.1" ry="4.1" fill="url(#wg)" opacity="0.22"/>
<ellipse cx="79.2" cy="28.2" rx="3.8" ry="3.8" fill="url(#wg)" opacity="0.09"/>
<ellipse cx="92.6" cy="35.9" rx="3.6" ry="3.6" fill="url(#wg)" opacity="0.07"/>
<ellipse cx="1.7" cy="40.4" rx="4.4" ry="4.4" fill="url(#wg)" opacity="0.14"/>
<ellipse cx="16.7" cy="39.7" rx="4.7" ry="4.7" fill="url(#wg)" opacity="0.15"/>
<ellipse cx="28.3" cy="39.3" rx="3.1" ry="3.1" fill="url(#wg)" opacity="0.10"/>
<ellipse cx="45.5" cy="40.2" rx="3.1" ry="3.1" fill="url(#wg)" opacity="0.16"/>
<ellipse cx="53.7" cy="48.7" rx="3.2" ry="3.2" fill="url(#wg)" opacity="0.17"/>
<ellipse cx="71.5" cy="42.8" rx="4.7" ry="4.7" fill="url(#wg)" opacity="0.16"/>
<ellipse cx="78.7" cy="42.9" rx="3.1" ry="3.1" fill="url(#wg)" opacity="0.15"/>
<ellipse cx="91.2" cy="47.6" rx="4.5" ry="4.5" fill="url(#wg)" opacity="0.16"/>
<ellipse cx="1.6" cy="53.8" rx="3.4" ry="3.4" fill="url(#wg)" opacity="0.11"/>
<ellipse cx="16.1" cy="59.9" rx="3.2" ry="3.2" fill="url(#wg)" opacity="0.08"/>
<ellipse cx="35.5" cy="56.9" rx="4.7" ry="4.7" fill="url(#wg)" opacity="0.14"/>
<ellipse cx="47.8" cy="57.8" rx="4.4" ry="4.4" fill="url(#wg)" opacity="0.20"/>
<ellipse cx="56.2" cy="52.2" rx="3.4" ry="3.4" fill="url(#wg)" opacity="0.23"/>
<ellipse cx="72.7" cy="60.5" rx="3.6" ry="3.6" fill="url(#wg)" opacity="0.19"/>
<ellipse cx="84.2" cy="57.7" rx="4.4" ry="4.4" fill="url(#wg)" opacity="0.17"/>
<ellipse cx="95.3" cy="58.1" rx="3.5" ry="3.5" fill="url(#wg)" opacity="0.24"/>
<ellipse cx="10.8" cy="64.5" rx="4.7" ry="4.7" fill="url(#wg)" opacity="0.24"/>
<ellipse cx="20.4" cy="64.2" rx="4.6" ry="4.6" fill="url(#wg)" opacity="0.09"/>
<ellipse cx="35.9" cy="70.4" rx="3.1" ry="3.1" fill="url(#wg)" opacity="0.10"/>
<ellipse cx="45.1" cy="69.4" rx="4.3" ry="4.3" fill="url(#wg)" opacity="0.24"/>
<ellipse cx="53.4" cy="63.8" rx="4.6" ry="4.6" fill="url(#wg)" opacity="0.07"/>
<ellipse cx="72.5" cy="64.9" rx="4.4" ry="4.4" fill="url(#wg)" opacity="0.21"/>
<ellipse cx="85.0" cy="69.3" rx="4.5" ry="4.5" fill="url(#wg)" opacity="0.11"/>
<ellipse cx="95.5" cy="67.1" rx="4.6" ry="4.6" fill="url(#wg)" opacity="0.21"/>
<ellipse cx="6.0" cy="81.5" rx="3.0" ry="3.0" fill="url(#wg)" opacity="0.08"/>
<ellipse cx="19.7" cy="81.1" rx="4.5" ry="4.5" fill="url(#wg)" opacity="0.18"/>
<ellipse cx="27.6" cy="79.9" rx="4.3" ry="4.3" fill="url(#wg)" opacity="0.16"/>
<ellipse cx="38.9" cy="84.6" rx="4.4" ry="4.4" fill="url(#wg)" opacity="0.09"/>
<ellipse cx="56.7" cy="80.1" rx="4.4" ry="4.4" fill="url(#wg)" opacity="0.13"/>
<ellipse cx="66.1" cy="81.1" rx="4.7" ry="4.7" fill="url(#wg)" opacity="0.09"/>
<ellipse cx="77.4" cy="82.5" rx="4.5" ry="4.5" fill="url(#wg)" opacity="0.16"/>
<ellipse cx="93.1" cy="84.8" rx="4.4" ry="4.4" fill="url(#wg)" opacity="0.08"/>
<ellipse cx="10.1" cy="90.7" rx="3.5" ry="3.5" fill="url(#wg)" opacity="0.22"/>
<ellipse cx="18.0" cy="96.7" rx="3.3" ry="3.3" fill="url(#wg)" opacity="0.23"/>
<ellipse cx="28.0" cy="90.2" rx="3.9" ry="3.9" fill="url(#wg)" opacity="0.13"/>
<ellipse cx="44.2" cy="97.8" rx="4.2" ry="4.2" fill="url(#wg)" opacity="0.07"/>
<ellipse cx="54.4" cy="94.2" rx="3.9" ry="3.9" fill="url(#wg)" opacity="0.20"/>
<ellipse cx="68.6" cy="89.5" rx="3.4" ry="3.4" fill="url(#wg)" opacity="0.22"/>
<ellipse cx="79.8" cy="96.4" rx="4.7" ry="4.7" fill="url(#wg)" opacity="0.18"/>
<ellipse cx="95.5" cy="94.8" rx="3.5" ry="3.5" fill="url(#wg)" opacity="0.23"/>
</g>
<g filter="url(#bl1)">
<ellipse cx="54.0" cy="54.0" rx="5.5" ry="5.5" fill="url(#wg)" opacity="0.60"/>
<ellipse cx="60.7" cy="56.7" rx="5.0" ry="5.0" fill="url(#wg)" opacity="0.60"/>
<ellipse cx="46.2" cy="48.8" rx="4.5" ry="4.5" fill="url(#wg)" opacity="0.50"/>
<ellipse cx="52.0" cy="52.0" rx="12.0" ry="10.0" fill="url(#wg)" opacity="0.15"/>
</g>
</svg>
<svg x="160.2" y="145.3" width="102.6" height="102.0" overflow="hidden">
<rect x="0.0" y="0.0" width="102.6" height="102.0" fill="#040404"/>
<g filter="url(#bl2)">
<ellipse cx="10.0" cy="11.6" rx="4.4" ry="4.4" fill="url(#wg)" opacity="0.21"/>
<ellipse cx="28.2" cy="14.0" rx="3.1" ry="3.1" fill="url(#wg)" opacity="0.13"/>
<ellipse cx="47.6" cy="10.3" rx="4.6" ry="4.6" fill="url(#wg)" opacity="0.08"/>
<ellipse cx="57.9" cy="5.0" rx="4.0" ry="4.0" fill="url(#wg)" opacity="0.15"/>
<ellipse cx="68.5" cy="4.6" rx="3.5" ry="3.5" fill="url(#wg)" opacity="0.21"/>
<ellipse cx="95.2" cy="3.8" rx="4.4" ry="4.4" fill="url(#wg)" opacity="0.08"/>
<ellipse cx="9.9" cy="20.0" rx="3.0" ry="3.0" fill="url(#wg)" opacity="0.20"/>
<ellipse cx="21.1" cy="21.2" rx="4.7" ry="4.7" fill="url(#wg)" opacity="0.20"/>
<ellipse cx="38.9" cy="31.2" rx="3.9" ry="3.9" fill="url(#wg)" opacity="0.17"/>
<ellipse cx="54.4" cy="30.9" rx="4.2" ry="4.2" fill="url(#wg)" opacity="0.21"/>
<ellipse cx="80.2" cy="22.3" rx="3.6" ry="3.6" fill="url(#wg)" opacity="0.09"/>
<ellipse cx="86.9" cy="19.2" rx="3.5" ry="3.5" fill="url(#wg)" opacity="0.16"/>
<ellipse cx="1.7" cy="44.0" rx="3.6" ry="3.6" fill="url(#wg)" opacity="0.11"/>
<ellipse cx="29.2" cy="41.4" rx="3.6" ry="3.6" fill="url(#wg)" opacity="0.14"/>
<ellipse cx="44.4" cy="35.8" rx="4.7" ry="4.7" fill="url(#wg)" opacity="0.06"/>
<ellipse cx="61.7" cy="46.3" rx="3.0" ry="3.0" fill="url(#wg)" opacity="0.19"/>
<ellipse cx="73.2" cy="42.7" rx="3.0" ry="3.0" fill="url(#wg)" opacity="0.07"/>
<ellipse cx="87.4" cy="47.7" rx="3.3" ry="3.3" fill="url(#wg)" opacity="0.18"/>
<ellipse cx="14.1" cy="64.2" rx="3.6" ry="3.6" fill="url(#wg)" opacity="0.12"/>
<ellipse cx="25.3" cy="62.0" rx="3.2" ry="3.2" fill="url(#wg)" opacity="0.18"/>
<ellipse cx="45.6" cy="63.1" rx="3.1" ry="3.1" fill="url(#wg)" opacity="0.21"/>
<ellipse cx="52.9" cy="56.2" rx="4.1" ry="4.1" fill="url(#wg)" opacity="0.21"/>
<ellipse cx="72.9" cy="64.0" rx="4.0" ry="4.0" fill="url(#wg)" opacity="0.11"/>
<ellipse cx="89.2" cy="54.0" rx="3.1" ry="3.1" fill="url(#wg)" opacity="0.08"/>
<ellipse cx="10.9" cy="81.6" rx="3.3" ry="3.3" fill="url(#wg)" opacity="0.07"/>
<ellipse cx="31.5" cy="75.4" rx="3.7" ry="3.7" fill="url(#wg)" opacity="0.10"/>
<ellipse cx="42.9" cy="79.4" rx="3.8" ry="3.8" fill="url(#wg)" opacity="0.13"/>
<ellipse cx="52.4" cy="80.5" rx="3.1" ry="3.1" fill="url(#wg)" opacity="0.14"/>
<ellipse cx="79.5" cy="70.1" rx="4.3" ry="4.3" fill="url(#wg)" opacity="0.21"/>
<ellipse cx="93.4" cy="78.8" rx="3.2" ry="3.2" fill="url(#wg)" opacity="0.13"/>
<ellipse cx="3.7" cy="96.3" rx="3.5" ry="3.5" fill="url(#wg)" opacity="0.13"/>
<ellipse cx="31.7" cy="96.4" rx="4.7" ry="4.7" fill="url(#wg)" opacity="0.13"/>
<ellipse cx="41.5" cy="94.7" rx="3.8" ry="3.8" fill="url(#wg)" opacity="0.11"/>
<ellipse cx="57.1" cy="87.0" rx="3.7" ry="3.7" fill="url(#wg)" opacity="0.22"/>
<ellipse cx="81.1" cy="93.4" rx="3.9" ry="3.9" fill="url(#wg)" opacity="0.11"/>
<ellipse cx="86.2" cy="88.6" rx="4.4" ry="4.4" fill="url(#wg)" opacity="0.20"/>
</g>
<g filter="url(#bl1)">
<ellipse cx="61.3" cy="55.9" rx="5.5" ry="5.5" fill="url(#wb)" opacity="0.95"/>
<ellipse cx="61.3" cy="55.9" rx="9.0" ry="9.0" fill="url(#wg)" opacity="0.30"/>
<ellipse cx="25.1" cy="50.0" rx="4.0" ry="6.0" fill="url(#wg)" opacity="0.45"/>
<ellipse cx="26.4" cy="64.6" rx="4.0" ry="4.0" fill="url(#wg)" opacity="0.40"/>
</g>
</svg>
<svg x="266.2" y="145.3" width="102.3" height="102.0" overflow="hidden">
<rect x="0.0" y="0.0" width="102.3" height="102.0" fill="#161616"/>
<rect x="0" y="0" width="102.3" height="102.0" filter="url(#noise)" opacity="0.22"/>
<g filter="url(#bl2)">
</g>
<g filter="url(#bl1)">
<ellipse cx="47.8" cy="48.8" rx="9.5" ry="8.5" fill="url(#wb)" opacity="1.00"/>
<ellipse cx="57.0" cy="52.8" rx="8.5" ry="7.5" fill="url(#wb)" opacity="0.95"/>
<ellipse cx="52.0" cy="51.0" rx="20.0" ry="17.0" fill="url(#wg)" opacity="0.28"/>
</g>
</svg>
<svg x="372.0" y="145.3" width="102.6" height="102.0" overflow="hidden">
<rect x="0.0" y="0.0" width="102.6" height="102.0" fill="#080818"/>
<g filter="url(#bl1)">
<ellipse cx="47.8" cy="48.8" rx="10.0" ry="8.9" fill="url(#bg)" opacity="0.85" style="mix-blend-mode:screen"/>
<ellipse cx="57.0" cy="52.8" rx="8.9" ry="7.9" fill="url(#bg)" opacity="0.81" style="mix-blend-mode:screen"/>
<ellipse cx="52.0" cy="51.0" rx="21.0" ry="17.9" fill="url(#bg)" opacity="0.24" style="mix-blend-mode:screen"/>
<ellipse cx="3.6" cy="2.3" rx="3.7" ry="3.7" fill="url(#rg)" opacity="0.07" style="mix-blend-mode:screen"/>
<ellipse cx="14.4" cy="5.3" rx="4.6" ry="4.6" fill="url(#rg)" opacity="0.15" style="mix-blend-mode:screen"/>
<ellipse cx="33.9" cy="3.5" rx="3.9" ry="3.9" fill="url(#rg)" opacity="0.08" style="mix-blend-mode:screen"/>
<ellipse cx="40.5" cy="2.3" rx="3.4" ry="3.4" fill="url(#rg)" opacity="0.17" style="mix-blend-mode:screen"/>
<ellipse cx="59.5" cy="9.3" rx="4.4" ry="4.4" fill="url(#rg)" opacity="0.07" style="mix-blend-mode:screen"/>
<ellipse cx="66.8" cy="7.5" rx="4.3" ry="4.3" fill="url(#rg)" opacity="0.16" style="mix-blend-mode:screen"/>
<ellipse cx="85.1" cy="2.1" rx="4.1" ry="4.1" fill="url(#rg)" opacity="0.13" style="mix-blend-mode:screen"/>
<ellipse cx="93.8" cy="3.0" rx="3.8" ry="3.8" fill="url(#rg)" opacity="0.06" style="mix-blend-mode:screen"/>
<ellipse cx="10.6" cy="22.4" rx="4.0" ry="4.0" fill="url(#rg)" opacity="0.09" style="mix-blend-mode:screen"/>
<ellipse cx="22.8" cy="19.5" rx="4.5" ry="4.5" fill="url(#rg)" opacity="0.16" style="mix-blend-mode:screen"/>
<ellipse cx="31.3" cy="17.9" rx="4.0" ry="4.0" fill="url(#rg)" opacity="0.10" style="mix-blend-mode:screen"/>
<ellipse cx="40.4" cy="16.8" rx="4.4" ry="4.4" fill="url(#rg)" opacity="0.05" style="mix-blend-mode:screen"/>
<ellipse cx="51.7" cy="20.0" rx="3.5" ry="3.5" fill="url(#rg)" opacity="0.12" style="mix-blend-mode:screen"/>
<ellipse cx="68.5" cy="17.2" rx="4.7" ry="4.7" fill="url(#rg)" opacity="0.07" style="mix-blend-mode:screen"/>
<ellipse cx="80.4" cy="15.8" rx="4.1" ry="4.1" fill="url(#rg)" opacity="0.08" style="mix-blend-mode:screen"/>
<ellipse cx="92.3" cy="21.2" rx="3.6" ry="3.6" fill="url(#rg)" opacity="0.12" style="mix-blend-mode:screen"/>
<ellipse cx="10.3" cy="27.3" rx="3.1" ry="3.1" fill="url(#rg)" opacity="0.08" style="mix-blend-mode:screen"/>
<ellipse cx="21.4" cy="32.4" rx="3.4" ry="3.4" fill="url(#rg)" opacity="0.09" style="mix-blend-mode:screen"/>
<ellipse cx="28.0" cy="30.8" rx="3.1" ry="3.1" fill="url(#rg)" opacity="0.14" style="mix-blend-mode:screen"/>
<ellipse cx="47.7" cy="35.8" rx="4.3" ry="4.3" fill="url(#rg)" opacity="0.17" style="mix-blend-mode:screen"/>
<ellipse cx="51.4" cy="29.1" rx="4.7" ry="4.7" fill="url(#rg)" opacity="0.15" style="mix-blend-mode:screen"/>
<ellipse cx="67.9" cy="35.7" rx="4.1" ry="4.1" fill="url(#rg)" opacity="0.15" style="mix-blend-mode:screen"/>
<ellipse cx="79.2" cy="28.2" rx="3.8" ry="3.8" fill="url(#rg)" opacity="0.07" style="mix-blend-mode:screen"/>
<ellipse cx="92.6" cy="35.9" rx="3.6" ry="3.6" fill="url(#rg)" opacity="0.05" style="mix-blend-mode:screen"/>
<ellipse cx="1.7" cy="40.4" rx="4.4" ry="4.4" fill="url(#rg)" opacity="0.09" style="mix-blend-mode:screen"/>
<ellipse cx="16.7" cy="39.7" rx="4.7" ry="4.7" fill="url(#rg)" opacity="0.10" style="mix-blend-mode:screen"/>
<ellipse cx="28.3" cy="39.3" rx="3.1" ry="3.1" fill="url(#rg)" opacity="0.07" style="mix-blend-mode:screen"/>
<ellipse cx="45.5" cy="40.2" rx="3.1" ry="3.1" fill="url(#rg)" opacity="0.11" style="mix-blend-mode:screen"/>
<ellipse cx="53.7" cy="48.7" rx="3.2" ry="3.2" fill="url(#rg)" opacity="0.12" style="mix-blend-mode:screen"/>
<ellipse cx="71.5" cy="42.8" rx="4.7" ry="4.7" fill="url(#rg)" opacity="0.11" style="mix-blend-mode:screen"/>
<ellipse cx="78.7" cy="42.9" rx="3.1" ry="3.1" fill="url(#rg)" opacity="0.10" style="mix-blend-mode:screen"/>
<ellipse cx="91.2" cy="47.6" rx="4.5" ry="4.5" fill="url(#rg)" opacity="0.11" style="mix-blend-mode:screen"/>
<ellipse cx="1.6" cy="53.8" rx="3.4" ry="3.4" fill="url(#rg)" opacity="0.08" style="mix-blend-mode:screen"/>
<ellipse cx="16.1" cy="59.9" rx="3.2" ry="3.2" fill="url(#rg)" opacity="0.06" style="mix-blend-mode:screen"/>
<ellipse cx="35.5" cy="56.9" rx="4.7" ry="4.7" fill="url(#rg)" opacity="0.10" style="mix-blend-mode:screen"/>
<ellipse cx="47.8" cy="57.8" rx="4.4" ry="4.4" fill="url(#rg)" opacity="0.14" style="mix-blend-mode:screen"/>
<ellipse cx="56.2" cy="52.2" rx="3.4" ry="3.4" fill="url(#rg)" opacity="0.16" style="mix-blend-mode:screen"/>
<ellipse cx="72.7" cy="60.5" rx="3.6" ry="3.6" fill="url(#rg)" opacity="0.13" style="mix-blend-mode:screen"/>
<ellipse cx="84.2" cy="57.7" rx="4.4" ry="4.4" fill="url(#rg)" opacity="0.12" style="mix-blend-mode:screen"/>
<ellipse cx="95.3" cy="58.1" rx="3.5" ry="3.5" fill="url(#rg)" opacity="0.17" style="mix-blend-mode:screen"/>
<ellipse cx="10.8" cy="64.5" rx="4.7" ry="4.7" fill="url(#rg)" opacity="0.17" style="mix-blend-mode:screen"/>
<ellipse cx="20.4" cy="64.2" rx="4.6" ry="4.6" fill="url(#rg)" opacity="0.07" style="mix-blend-mode:screen"/>
<ellipse cx="35.9" cy="70.4" rx="3.1" ry="3.1" fill="url(#rg)" opacity="0.07" style="mix-blend-mode:screen"/>
<ellipse cx="45.1" cy="69.4" rx="4.3" ry="4.3" fill="url(#rg)" opacity="0.17" style="mix-blend-mode:screen"/>
<ellipse cx="53.4" cy="63.8" rx="4.6" ry="4.6" fill="url(#rg)" opacity="0.05" style="mix-blend-mode:screen"/>
<ellipse cx="72.5" cy="64.9" rx="4.4" ry="4.4" fill="url(#rg)" opacity="0.15" style="mix-blend-mode:screen"/>
<ellipse cx="85.0" cy="69.3" rx="4.5" ry="4.5" fill="url(#rg)" opacity="0.07" style="mix-blend-mode:screen"/>
<ellipse cx="95.5" cy="67.1" rx="4.6" ry="4.6" fill="url(#rg)" opacity="0.15" style="mix-blend-mode:screen"/>
<ellipse cx="6.0" cy="81.5" rx="3.0" ry="3.0" fill="url(#rg)" opacity="0.05" style="mix-blend-mode:screen"/>
<ellipse cx="19.7" cy="81.1" rx="4.5" ry="4.5" fill="url(#rg)" opacity="0.13" style="mix-blend-mode:screen"/>
<ellipse cx="27.6" cy="79.9" rx="4.3" ry="4.3" fill="url(#rg)" opacity="0.11" style="mix-blend-mode:screen"/>
<ellipse cx="38.9" cy="84.6" rx="4.4" ry="4.4" fill="url(#rg)" opacity="0.06" style="mix-blend-mode:screen"/>
<ellipse cx="56.7" cy="80.1" rx="4.4" ry="4.4" fill="url(#rg)" opacity="0.09" style="mix-blend-mode:screen"/>
<ellipse cx="66.1" cy="81.1" rx="4.7" ry="4.7" fill="url(#rg)" opacity="0.06" style="mix-blend-mode:screen"/>
<ellipse cx="77.4" cy="82.5" rx="4.5" ry="4.5" fill="url(#rg)" opacity="0.11" style="mix-blend-mode:screen"/>
<ellipse cx="93.1" cy="84.8" rx="4.4" ry="4.4" fill="url(#rg)" opacity="0.06" style="mix-blend-mode:screen"/>
<ellipse cx="10.1" cy="90.7" rx="3.5" ry="3.5" fill="url(#rg)" opacity="0.15" style="mix-blend-mode:screen"/>
<ellipse cx="18.0" cy="96.7" rx="3.3" ry="3.3" fill="url(#rg)" opacity="0.16" style="mix-blend-mode:screen"/>
<ellipse cx="28.0" cy="90.2" rx="3.9" ry="3.9" fill="url(#rg)" opacity="0.09" style="mix-blend-mode:screen"/>
<ellipse cx="44.2" cy="97.8" rx="4.2" ry="4.2" fill="url(#rg)" opacity="0.05" style="mix-blend-mode:screen"/>
<ellipse cx="54.4" cy="94.2" rx="3.9" ry="3.9" fill="url(#rg)" opacity="0.14" style="mix-blend-mode:screen"/>
<ellipse cx="68.6" cy="89.5" rx="3.4" ry="3.4" fill="url(#rg)" opacity="0.16" style="mix-blend-mode:screen"/>
<ellipse cx="79.8" cy="96.4" rx="4.7" ry="4.7" fill="url(#rg)" opacity="0.13" style="mix-blend-mode:screen"/>
<ellipse cx="95.5" cy="94.8" rx="3.5" ry="3.5" fill="url(#rg)" opacity="0.16" style="mix-blend-mode:screen"/>
<ellipse cx="10.0" cy="11.6" rx="4.4" ry="4.4" fill="url(#gg)" opacity="0.19" style="mix-blend-mode:screen"/>
<ellipse cx="28.2" cy="14.0" rx="3.1" ry="3.1" fill="url(#gg)" opacity="0.12" style="mix-blend-mode:screen"/>
<ellipse cx="47.6" cy="10.3" rx="4.6" ry="4.6" fill="url(#gg)" opacity="0.07" style="mix-blend-mode:screen"/>
<ellipse cx="57.9" cy="5.0" rx="4.0" ry="4.0" fill="url(#gg)" opacity="0.14" style="mix-blend-mode:screen"/>
<ellipse cx="68.5" cy="4.6" rx="3.5" ry="3.5" fill="url(#gg)" opacity="0.19" style="mix-blend-mode:screen"/>
<ellipse cx="95.2" cy="3.8" rx="4.4" ry="4.4" fill="url(#gg)" opacity="0.07" style="mix-blend-mode:screen"/>
<ellipse cx="9.9" cy="20.0" rx="3.0" ry="3.0" fill="url(#gg)" opacity="0.18" style="mix-blend-mode:screen"/>
<ellipse cx="21.1" cy="21.2" rx="4.7" ry="4.7" fill="url(#gg)" opacity="0.18" style="mix-blend-mode:screen"/>
<ellipse cx="38.9" cy="31.2" rx="3.9" ry="3.9" fill="url(#gg)" opacity="0.15" style="mix-blend-mode:screen"/>
<ellipse cx="54.4" cy="30.9" rx="4.2" ry="4.2" fill="url(#gg)" opacity="0.19" style="mix-blend-mode:screen"/>
<ellipse cx="80.2" cy="22.3" rx="3.6" ry="3.6" fill="url(#gg)" opacity="0.08" style="mix-blend-mode:screen"/>
<ellipse cx="86.9" cy="19.2" rx="3.5" ry="3.5" fill="url(#gg)" opacity="0.14" style="mix-blend-mode:screen"/>
<ellipse cx="1.7" cy="44.0" rx="3.6" ry="3.6" fill="url(#gg)" opacity="0.10" style="mix-blend-mode:screen"/>
<ellipse cx="29.2" cy="41.4" rx="3.6" ry="3.6" fill="url(#gg)" opacity="0.12" style="mix-blend-mode:screen"/>
<ellipse cx="44.4" cy="35.8" rx="4.7" ry="4.7" fill="url(#gg)" opacity="0.06" style="mix-blend-mode:screen"/>
<ellipse cx="61.7" cy="46.3" rx="3.0" ry="3.0" fill="url(#gg)" opacity="0.17" style="mix-blend-mode:screen"/>
<ellipse cx="73.2" cy="42.7" rx="3.0" ry="3.0" fill="url(#gg)" opacity="0.06" style="mix-blend-mode:screen"/>
<ellipse cx="87.4" cy="47.7" rx="3.3" ry="3.3" fill="url(#gg)" opacity="0.16" style="mix-blend-mode:screen"/>
<ellipse cx="14.1" cy="64.2" rx="3.6" ry="3.6" fill="url(#gg)" opacity="0.11" style="mix-blend-mode:screen"/>
<ellipse cx="25.3" cy="62.0" rx="3.2" ry="3.2" fill="url(#gg)" opacity="0.16" style="mix-blend-mode:screen"/>
<ellipse cx="45.6" cy="63.1" rx="3.1" ry="3.1" fill="url(#gg)" opacity="0.19" style="mix-blend-mode:screen"/>
<ellipse cx="52.9" cy="56.2" rx="4.1" ry="4.1" fill="url(#gg)" opacity="0.19" style="mix-blend-mode:screen"/>
<ellipse cx="72.9" cy="64.0" rx="4.0" ry="4.0" fill="url(#gg)" opacity="0.10" style="mix-blend-mode:screen"/>
<ellipse cx="89.2" cy="54.0" rx="3.1" ry="3.1" fill="url(#gg)" opacity="0.08" style="mix-blend-mode:screen"/>
<ellipse cx="10.9" cy="81.6" rx="3.3" ry="3.3" fill="url(#gg)" opacity="0.06" style="mix-blend-mode:screen"/>
<ellipse cx="31.5" cy="75.4" rx="3.7" ry="3.7" fill="url(#gg)" opacity="0.09" style="mix-blend-mode:screen"/>
<ellipse cx="42.9" cy="79.4" rx="3.8" ry="3.8" fill="url(#gg)" opacity="0.11" style="mix-blend-mode:screen"/>
<ellipse cx="52.4" cy="80.5" rx="3.1" ry="3.1" fill="url(#gg)" opacity="0.13" style="mix-blend-mode:screen"/>
<ellipse cx="79.5" cy="70.1" rx="4.3" ry="4.3" fill="url(#gg)" opacity="0.19" style="mix-blend-mode:screen"/>
<ellipse cx="93.4" cy="78.8" rx="3.2" ry="3.2" fill="url(#gg)" opacity="0.12" style="mix-blend-mode:screen"/>
<ellipse cx="3.7" cy="96.3" rx="3.5" ry="3.5" fill="url(#gg)" opacity="0.12" style="mix-blend-mode:screen"/>
<ellipse cx="31.7" cy="96.4" rx="4.7" ry="4.7" fill="url(#gg)" opacity="0.12" style="mix-blend-mode:screen"/>
<ellipse cx="41.5" cy="94.7" rx="3.8" ry="3.8" fill="url(#gg)" opacity="0.10" style="mix-blend-mode:screen"/>
<ellipse cx="57.1" cy="87.0" rx="3.7" ry="3.7" fill="url(#gg)" opacity="0.20" style="mix-blend-mode:screen"/>
<ellipse cx="81.1" cy="93.4" rx="3.9" ry="3.9" fill="url(#gg)" opacity="0.10" style="mix-blend-mode:screen"/>
<ellipse cx="86.2" cy="88.6" rx="4.4" ry="4.4" fill="url(#gg)" opacity="0.18" style="mix-blend-mode:screen"/>
<ellipse cx="54.0" cy="54.0" rx="6.1" ry="6.1" fill="url(#rg)" opacity="0.66" style="mix-blend-mode:screen"/>
<ellipse cx="60.7" cy="56.7" rx="5.5" ry="5.5" fill="url(#rg)" opacity="0.66" style="mix-blend-mode:screen"/>
<ellipse cx="46.2" cy="48.8" rx="5.0" ry="5.0" fill="url(#rg)" opacity="0.55" style="mix-blend-mode:screen"/>
<ellipse cx="52.0" cy="52.0" rx="13.2" ry="11.0" fill="url(#rg)" opacity="0.17" style="mix-blend-mode:screen"/>
<ellipse cx="61.3" cy="55.9" rx="5.5" ry="5.5" fill="url(#gg)" opacity="0.90" style="mix-blend-mode:screen"/>
<ellipse cx="61.3" cy="55.9" rx="9.0" ry="9.0" fill="url(#gg)" opacity="0.28" style="mix-blend-mode:screen"/>
<ellipse cx="25.1" cy="50.0" rx="4.0" ry="6.0" fill="url(#gg)" opacity="0.43" style="mix-blend-mode:screen"/>
<ellipse cx="26.4" cy="64.6" rx="4.0" ry="4.0" fill="url(#gg)" opacity="0.38" style="mix-blend-mode:screen"/>
</g>
</svg>
<svg x="55.0" y="249.3" width="102.9" height="101.7" overflow="hidden">
<rect x="0.0" y="0.0" width="102.9" height="101.7" fill="#050505"/>
<g filter="url(#bl2)">
<ellipse cx="4.0" cy="2.5" rx="4.1" ry="4.1" fill="url(#wg)" opacity="0.20"/>
<ellipse cx="17.0" cy="4.4" rx="3.1" ry="3.1" fill="url(#wg)" opacity="0.32"/>
<ellipse cx="23.7" cy="5.0" rx="3.1" ry="3.1" fill="url(#wg)" opacity="0.20"/>
<ellipse cx="38.2" cy="8.5" rx="3.2" ry="3.2" fill="url(#wg)" opacity="0.24"/>
<ellipse cx="51.1" cy="9.5" rx="4.0" ry="4.0" fill="url(#wg)" opacity="0.29"/>
<ellipse cx="65.3" cy="1.5" rx="4.5" ry="4.5" fill="url(#wg)" opacity="0.26"/>
<ellipse cx="69.1" cy="2.2" rx="3.5" ry="3.5" fill="url(#wg)" opacity="0.40"/>
<ellipse cx="80.5" cy="6.3" rx="4.1" ry="4.1" fill="url(#wg)" opacity="0.28"/>
<ellipse cx="94.9" cy="1.7" rx="3.1" ry="3.1" fill="url(#wg)" opacity="0.24"/>
<ellipse cx="7.2" cy="16.0" rx="3.5" ry="3.5" fill="url(#wg)" opacity="0.34"/>
<ellipse cx="16.3" cy="14.9" rx="4.4" ry="4.4" fill="url(#wg)" opacity="0.37"/>
<ellipse cx="25.5" cy="17.3" rx="3.9" ry="3.9" fill="url(#wg)" opacity="0.42"/>
<ellipse cx="40.9" cy="14.8" rx="4.7" ry="4.7" fill="url(#wg)" opacity="0.21"/>
<ellipse cx="49.3" cy="19.0" rx="3.3" ry="3.3" fill="url(#wg)" opacity="0.31"/>
<ellipse cx="57.0" cy="18.2" rx="4.3" ry="4.3" fill="url(#wg)" opacity="0.33"/>
<ellipse cx="75.6" cy="15.0" rx="4.2" ry="4.2" fill="url(#wg)" opacity="0.34"/>
<ellipse cx="84.0" cy="16.3" rx="4.5" ry="4.5" fill="url(#wg)" opacity="0.44"/>
<ellipse cx="94.2" cy="18.1" rx="3.1" ry="3.1" fill="url(#wg)" opacity="0.37"/>
<ellipse cx="6.9" cy="32.2" rx="4.4" ry="4.4" fill="url(#wg)" opacity="0.26"/>
<ellipse cx="15.7" cy="29.3" rx="3.0" ry="3.0" fill="url(#wg)" opacity="0.30"/>
<ellipse cx="24.8" cy="24.4" rx="3.1" ry="3.1" fill="url(#wg)" opacity="0.39"/>
<ellipse cx="35.6" cy="25.5" rx="3.7" ry="3.7" fill="url(#wg)" opacity="0.42"/>
<ellipse cx="46.3" cy="27.3" rx="4.0" ry="4.0" fill="url(#wg)" opacity="0.42"/>
<ellipse cx="63.9" cy="31.0" rx="3.5" ry="3.5" fill="url(#wg)" opacity="0.29"/>
<ellipse cx="71.0" cy="31.2" rx="4.7" ry="4.7" fill="url(#wg)" opacity="0.22"/>
<ellipse cx="80.5" cy="25.4" rx="3.4" ry="3.4" fill="url(#wg)" opacity="0.31"/>
<ellipse cx="95.2" cy="25.7" rx="3.0" ry="3.0" fill="url(#wg)" opacity="0.29"/>
<ellipse cx="4.4" cy="39.5" rx="4.7" ry="4.7" fill="url(#wg)" opacity="0.37"/>
<ellipse cx="16.8" cy="39.9" rx="4.2" ry="4.2" fill="url(#wg)" opacity="0.19"/>
<ellipse cx="31.3" cy="41.4" rx="4.5" ry="4.5" fill="url(#wg)" opacity="0.40"/>
<ellipse cx="37.9" cy="38.0" rx="3.2" ry="3.2" fill="url(#wg)" opacity="0.35"/>
<ellipse cx="46.1" cy="35.0" rx="3.4" ry="3.4" fill="url(#wg)" opacity="0.22"/>
<ellipse cx="59.7" cy="34.9" rx="3.0" ry="3.0" fill="url(#wg)" opacity="0.22"/>
<ellipse cx="68.7" cy="37.7" rx="3.0" ry="3.0" fill="url(#wg)" opacity="0.42"/>
<ellipse cx="84.3" cy="35.8" rx="3.4" ry="3.4" fill="url(#wg)" opacity="0.27"/>
<ellipse cx="93.2" cy="35.5" rx="4.5" ry="4.5" fill="url(#wg)" opacity="0.45"/>
<ellipse cx="5.3" cy="49.9" rx="3.2" ry="3.2" fill="url(#wg)" opacity="0.21"/>
<ellipse cx="15.3" cy="47.9" rx="4.5" ry="4.5" fill="url(#wg)" opacity="0.22"/>
<ellipse cx="23.5" cy="54.0" rx="3.9" ry="3.9" fill="url(#wg)" opacity="0.22"/>
<ellipse cx="39.3" cy="45.8" rx="3.9" ry="3.9" fill="url(#wg)" opacity="0.44"/>
<ellipse cx="53.2" cy="51.7" rx="3.5" ry="3.5" fill="url(#wg)" opacity="0.28"/>
<ellipse cx="58.2" cy="52.4" rx="3.9" ry="3.9" fill="url(#wg)" opacity="0.39"/>
<ellipse cx="70.7" cy="47.5" rx="4.4" ry="4.4" fill="url(#wg)" opacity="0.45"/>
<ellipse cx="86.5" cy="52.7" rx="4.4" ry="4.4" fill="url(#wg)" opacity="0.38"/>
<ellipse cx="92.0" cy="50.2" rx="3.6" ry="3.6" fill="url(#wg)" opacity="0.19"/>
<ellipse cx="1.4" cy="59.2" rx="3.5" ry="3.5" fill="url(#wg)" opacity="0.37"/>
<ellipse cx="20.7" cy="60.6" rx="4.6" ry="4.6" fill="url(#wg)" opacity="0.45"/>
<ellipse cx="31.8" cy="59.9" rx="3.4" ry="3.4" fill="url(#wg)" opacity="0.24"/>
<ellipse cx="36.2" cy="58.5" rx="4.1" ry="4.1" fill="url(#wg)" opacity="0.42"/>
<ellipse cx="53.0" cy="60.9" rx="4.1" ry="4.1" fill="url(#wg)" opacity="0.40"/>
<ellipse cx="57.4" cy="62.5" rx="4.6" ry="4.6" fill="url(#wg)" opacity="0.39"/>
<ellipse cx="74.4" cy="60.9" rx="3.3" ry="3.3" fill="url(#wg)" opacity="0.39"/>
<ellipse cx="81.8" cy="63.8" rx="4.7" ry="4.7" fill="url(#wg)" opacity="0.29"/>
<ellipse cx="93.6" cy="65.1" rx="4.3" ry="4.3" fill="url(#wg)" opacity="0.23"/>
<ellipse cx="2.2" cy="69.1" rx="4.6" ry="4.6" fill="url(#wg)" opacity="0.40"/>
<ellipse cx="13.5" cy="75.1" rx="4.7" ry="4.7" fill="url(#wg)" opacity="0.36"/>
<ellipse cx="26.4" cy="72.7" rx="3.2" ry="3.2" fill="url(#wg)" opacity="0.18"/>
<ellipse cx="43.1" cy="73.6" rx="3.9" ry="3.9" fill="url(#wg)" opacity="0.43"/>
<ellipse cx="49.4" cy="75.5" rx="4.4" ry="4.4" fill="url(#wg)" opacity="0.24"/>
<ellipse cx="58.9" cy="70.4" rx="3.4" ry="3.4" fill="url(#wg)" opacity="0.34"/>
<ellipse cx="70.1" cy="71.5" rx="3.2" ry="3.2" fill="url(#wg)" opacity="0.43"/>
<ellipse cx="82.0" cy="71.9" rx="4.0" ry="4.0" fill="url(#wg)" opacity="0.42"/>
<ellipse cx="93.7" cy="75.9" rx="3.9" ry="3.9" fill="url(#wg)" opacity="0.32"/>
<ellipse cx="5.8" cy="79.1" rx="3.8" ry="3.8" fill="url(#wg)" opacity="0.23"/>
<ellipse cx="12.3" cy="86.0" rx="3.3" ry="3.3" fill="url(#wg)" opacity="0.31"/>
<ellipse cx="29.8" cy="83.8" rx="3.6" ry="3.6" fill="url(#wg)" opacity="0.32"/>
<ellipse cx="39.4" cy="85.9" rx="3.2" ry="3.2" fill="url(#wg)" opacity="0.33"/>
<ellipse cx="47.8" cy="81.4" rx="4.4" ry="4.4" fill="url(#wg)" opacity="0.32"/>
<ellipse cx="61.7" cy="85.6" rx="4.6" ry="4.6" fill="url(#wg)" opacity="0.30"/>
<ellipse cx="73.2" cy="83.4" rx="3.9" ry="3.9" fill="url(#wg)" opacity="0.37"/>
<ellipse cx="82.9" cy="83.6" rx="3.8" ry="3.8" fill="url(#wg)" opacity="0.43"/>
<ellipse cx="96.2" cy="86.7" rx="4.6" ry="4.6" fill="url(#wg)" opacity="0.25"/>
<ellipse cx="6.1" cy="98.4" rx="4.5" ry="4.5" fill="url(#wg)" opacity="0.22"/>
<ellipse cx="13.3" cy="93.9" rx="3.1" ry="3.1" fill="url(#wg)" opacity="0.24"/>
<ellipse cx="24.0" cy="96.0" rx="4.4" ry="4.4" fill="url(#wg)" opacity="0.42"/>
<ellipse cx="35.8" cy="96.4" rx="4.2" ry="4.2" fill="url(#wg)" opacity="0.22"/>
<ellipse cx="53.4" cy="98.6" rx="3.4" ry="3.4" fill="url(#wg)" opacity="0.44"/>
<ellipse cx="60.2" cy="94.3" rx="4.7" ry="4.7" fill="url(#wg)" opacity="0.40"/>
<ellipse cx="69.2" cy="93.8" rx="3.9" ry="3.9" fill="url(#wg)" opacity="0.27"/>
<ellipse cx="80.6" cy="92.8" rx="4.3" ry="4.3" fill="url(#wg)" opacity="0.19"/>
<ellipse cx="94.9" cy="93.9" rx="3.0" ry="3.0" fill="url(#wg)" opacity="0.27"/>
</g>
<g filter="url(#bl1)">
<ellipse cx="48.8" cy="55.0" rx="4.5" ry="8.5" fill="url(#wb)" opacity="0.85" transform="rotate(-40 48.8 55.0)"/>
<ellipse cx="55.0" cy="50.0" rx="4.0" ry="6.0" fill="url(#wg)" opacity="0.55" transform="rotate(-40 55.0 50.0)"/>
<ellipse cx="43.5" cy="16.0" rx="4.5" ry="4.5" fill="url(#wg)" opacity="0.60"/>
<ellipse cx="14.5" cy="33.5" rx="4.0" ry="4.0" fill="url(#wg)" opacity="0.50"/>
<ellipse cx="14.0" cy="73.0" rx="4.0" ry="4.0" fill="url(#wg)" opacity="0.55"/>
<ellipse cx="50.0" cy="53.0" rx="11.0" ry="13.0" fill="url(#wg)" opacity="0.22" transform="rotate(-40 50.0 53.0)"/>
</g>
</svg>
<svg x="160.2" y="249.3" width="102.6" height="101.7" overflow="hidden">
<rect x="0.0" y="0.0" width="102.6" height="101.7" fill="#040404"/>
<g filter="url(#bl2)">
<ellipse cx="4.0" cy="12.4" rx="3.2" ry="3.2" fill="url(#wg)" opacity="0.24"/>
<ellipse cx="16.7" cy="4.3" rx="4.7" ry="4.7" fill="url(#wg)" opacity="0.14"/>
<ellipse cx="37.3" cy="6.7" rx="3.8" ry="3.8" fill="url(#wg)" opacity="0.20"/>
<ellipse cx="46.5" cy="10.9" rx="3.2" ry="3.2" fill="url(#wg)" opacity="0.15"/>
<ellipse cx="58.8" cy="4.5" rx="3.7" ry="3.7" fill="url(#wg)" opacity="0.28"/>
<ellipse cx="77.2" cy="2.7" rx="3.5" ry="3.5" fill="url(#wg)" opacity="0.30"/>
<ellipse cx="87.9" cy="8.5" rx="3.7" ry="3.7" fill="url(#wg)" opacity="0.23"/>
<ellipse cx="5.3" cy="23.6" rx="3.9" ry="3.9" fill="url(#wg)" opacity="0.23"/>
<ellipse cx="26.0" cy="22.4" rx="3.2" ry="3.2" fill="url(#wg)" opacity="0.11"/>
<ellipse cx="40.8" cy="21.3" rx="3.3" ry="3.3" fill="url(#wg)" opacity="0.29"/>
<ellipse cx="50.9" cy="24.0" rx="4.5" ry="4.5" fill="url(#wg)" opacity="0.16"/>
<ellipse cx="62.6" cy="25.7" rx="3.2" ry="3.2" fill="url(#wg)" opacity="0.25"/>
<ellipse cx="74.0" cy="23.6" rx="4.2" ry="4.2" fill="url(#wg)" opacity="0.29"/>
<ellipse cx="96.8" cy="21.5" rx="3.3" ry="3.3" fill="url(#wg)" opacity="0.13"/>
<ellipse cx="7.5" cy="35.8" rx="3.1" ry="3.1" fill="url(#wg)" opacity="0.28"/>
<ellipse cx="21.5" cy="38.0" rx="3.4" ry="3.4" fill="url(#wg)" opacity="0.15"/>
<ellipse cx="30.1" cy="33.9" rx="3.5" ry="3.5" fill="url(#wg)" opacity="0.18"/>
<ellipse cx="48.6" cy="39.5" rx="4.6" ry="4.6" fill="url(#wg)" opacity="0.14"/>
<ellipse cx="63.1" cy="31.9" rx="4.2" ry="4.2" fill="url(#wg)" opacity="0.29"/>
<ellipse cx="75.2" cy="38.8" rx="3.5" ry="3.5" fill="url(#wg)" opacity="0.10"/>
<ellipse cx="95.9" cy="33.9" rx="3.3" ry="3.3" fill="url(#wg)" opacity="0.19"/>
<ellipse cx="4.1" cy="49.0" rx="3.8" ry="3.8" fill="url(#wg)" opacity="0.18"/>
<ellipse cx="22.4" cy="47.6" rx="3.2" ry="3.2" fill="url(#wg)" opacity="0.12"/>
<ellipse cx="31.2" cy="50.2" rx="3.6" ry="3.6" fill="url(#wg)" opacity="0.26"/>
<ellipse cx="50.1" cy="52.4" rx="4.7" ry="4.7" fill="url(#wg)" opacity="0.11"/>
<ellipse cx="58.8" cy="45.9" rx="3.7" ry="3.7" fill="url(#wg)" opacity="0.21"/>
<ellipse cx="81.4" cy="48.3" rx="4.7" ry="4.7" fill="url(#wg)" opacity="0.10"/>
<ellipse cx="96.7" cy="46.7" rx="4.5" ry="4.5" fill="url(#wg)" opacity="0.11"/>
<ellipse cx="12.5" cy="67.3" rx="4.7" ry="4.7" fill="url(#wg)" opacity="0.22"/>
<ellipse cx="17.7" cy="69.7" rx="3.8" ry="3.8" fill="url(#wg)" opacity="0.12"/>
<ellipse cx="36.9" cy="64.3" rx="3.8" ry="3.8" fill="url(#wg)" opacity="0.13"/>
<ellipse cx="45.7" cy="65.2" rx="3.8" ry="3.8" fill="url(#wg)" opacity="0.13"/>
<ellipse cx="63.6" cy="66.9" rx="4.3" ry="4.3" fill="url(#wg)" opacity="0.19"/>
<ellipse cx="77.4" cy="62.7" rx="3.4" ry="3.4" fill="url(#wg)" opacity="0.14"/>
<ellipse cx="92.2" cy="59.8" rx="4.3" ry="4.3" fill="url(#wg)" opacity="0.24"/>
<ellipse cx="8.4" cy="73.1" rx="3.6" ry="3.6" fill="url(#wg)" opacity="0.19"/>
<ellipse cx="16.8" cy="83.9" rx="4.3" ry="4.3" fill="url(#wg)" opacity="0.20"/>
<ellipse cx="38.1" cy="75.2" rx="3.4" ry="3.4" fill="url(#wg)" opacity="0.21"/>
<ellipse cx="52.8" cy="80.3" rx="3.0" ry="3.0" fill="url(#wg)" opacity="0.22"/>
<ellipse cx="69.0" cy="81.4" rx="4.6" ry="4.6" fill="url(#wg)" opacity="0.30"/>
<ellipse cx="75.4" cy="76.2" rx="4.0" ry="4.0" fill="url(#wg)" opacity="0.30"/>
<ellipse cx="91.4" cy="83.6" rx="4.5" ry="4.5" fill="url(#wg)" opacity="0.20"/>
<ellipse cx="8.6" cy="98.1" rx="4.4" ry="4.4" fill="url(#wg)" opacity="0.16"/>
<ellipse cx="25.4" cy="89.4" rx="3.6" ry="3.6" fill="url(#wg)" opacity="0.29"/>
<ellipse cx="39.7" cy="90.7" rx="3.5" ry="3.5" fill="url(#wg)" opacity="0.22"/>
<ellipse cx="53.9" cy="95.0" rx="4.6" ry="4.6" fill="url(#wg)" opacity="0.25"/>
<ellipse cx="68.0" cy="94.1" rx="3.6" ry="3.6" fill="url(#wg)" opacity="0.19"/>
<ellipse cx="78.5" cy="93.2" rx="4.5" ry="4.5" fill="url(#wg)" opacity="0.15"/>
<ellipse cx="87.9" cy="95.5" rx="3.5" ry="3.5" fill="url(#wg)" opacity="0.18"/>
</g>
<g filter="url(#bl1)">
<ellipse cx="50.2" cy="55.0" rx="4.5" ry="5.5" fill="url(#wg)" opacity="0.45"/>
<ellipse cx="60.7" cy="51.0" rx="4.0" ry="4.0" fill="url(#wg)" opacity="0.40"/>
<ellipse cx="60.7" cy="61.5" rx="4.0" ry="4.0" fill="url(#wg)" opacity="0.40"/>
<ellipse cx="85.8" cy="59.0" rx="4.0" ry="4.0" fill="url(#wg)" opacity="0.40"/>
<ellipse cx="84.5" cy="77.0" rx="4.0" ry="4.0" fill="url(#wg)" opacity="0.40"/>
</g>
</svg>
<svg x="266.2" y="249.3" width="102.3" height="101.7" overflow="hidden">
<rect x="0.0" y="0.0" width="102.3" height="101.7" fill="#161616"/>
<rect x="0" y="0" width="102.3" height="101.7" filter="url(#noise)" opacity="0.22"/>
<g filter="url(#bl2)">
</g>
<g filter="url(#bl1)">
<ellipse cx="50.5" cy="56.0" rx="6.5" ry="11.0" fill="url(#wb)" opacity="1.00" transform="rotate(-50 50.5 56.0)"/>
<ellipse cx="50.5" cy="56.0" rx="13.0" ry="19.0" fill="url(#wg)" opacity="0.35" transform="rotate(-50 50.5 56.0)"/>
</g>
</svg>
<svg x="372.0" y="249.3" width="102.6" height="101.7" overflow="hidden">
<rect x="0.0" y="0.0" width="102.6" height="101.7" fill="#080818"/>
<g filter="url(#bl1)">
<ellipse cx="50.5" cy="56.0" rx="6.8" ry="11.6" fill="url(#bg)" opacity="0.85" transform="rotate(-50 50.5 56.0)" style="mix-blend-mode:screen"/>
<ellipse cx="50.5" cy="56.0" rx="13.7" ry="19.9" fill="url(#bg)" opacity="0.30" transform="rotate(-50 50.5 56.0)" style="mix-blend-mode:screen"/>
<ellipse cx="4.0" cy="12.4" rx="3.2" ry="3.2" fill="url(#rg)" opacity="0.17" style="mix-blend-mode:screen"/>
<ellipse cx="16.7" cy="4.3" rx="4.7" ry="4.7" fill="url(#rg)" opacity="0.10" style="mix-blend-mode:screen"/>
<ellipse cx="37.3" cy="6.7" rx="3.8" ry="3.8" fill="url(#rg)" opacity="0.14" style="mix-blend-mode:screen"/>
<ellipse cx="46.5" cy="10.9" rx="3.2" ry="3.2" fill="url(#rg)" opacity="0.10" style="mix-blend-mode:screen"/>
<ellipse cx="58.8" cy="4.5" rx="3.7" ry="3.7" fill="url(#rg)" opacity="0.20" style="mix-blend-mode:screen"/>
<ellipse cx="77.2" cy="2.7" rx="3.5" ry="3.5" fill="url(#rg)" opacity="0.21" style="mix-blend-mode:screen"/>
<ellipse cx="87.9" cy="8.5" rx="3.7" ry="3.7" fill="url(#rg)" opacity="0.16" style="mix-blend-mode:screen"/>
<ellipse cx="5.3" cy="23.6" rx="3.9" ry="3.9" fill="url(#rg)" opacity="0.16" style="mix-blend-mode:screen"/>
<ellipse cx="26.0" cy="22.4" rx="3.2" ry="3.2" fill="url(#rg)" opacity="0.08" style="mix-blend-mode:screen"/>
<ellipse cx="40.8" cy="21.3" rx="3.3" ry="3.3" fill="url(#rg)" opacity="0.20" style="mix-blend-mode:screen"/>
<ellipse cx="50.9" cy="24.0" rx="4.5" ry="4.5" fill="url(#rg)" opacity="0.11" style="mix-blend-mode:screen"/>
<ellipse cx="62.6" cy="25.7" rx="3.2" ry="3.2" fill="url(#rg)" opacity="0.18" style="mix-blend-mode:screen"/>
<ellipse cx="74.0" cy="23.6" rx="4.2" ry="4.2" fill="url(#rg)" opacity="0.20" style="mix-blend-mode:screen"/>
<ellipse cx="96.8" cy="21.5" rx="3.3" ry="3.3" fill="url(#rg)" opacity="0.09" style="mix-blend-mode:screen"/>
<ellipse cx="7.5" cy="35.8" rx="3.1" ry="3.1" fill="url(#rg)" opacity="0.20" style="mix-blend-mode:screen"/>
<ellipse cx="21.5" cy="38.0" rx="3.4" ry="3.4" fill="url(#rg)" opacity="0.10" style="mix-blend-mode:screen"/>
<ellipse cx="30.1" cy="33.9" rx="3.5" ry="3.5" fill="url(#rg)" opacity="0.13" style="mix-blend-mode:screen"/>
<ellipse cx="48.6" cy="39.5" rx="4.6" ry="4.6" fill="url(#rg)" opacity="0.09" style="mix-blend-mode:screen"/>
<ellipse cx="63.1" cy="31.9" rx="4.2" ry="4.2" fill="url(#rg)" opacity="0.21" style="mix-blend-mode:screen"/>
<ellipse cx="75.2" cy="38.8" rx="3.5" ry="3.5" fill="url(#rg)" opacity="0.07" style="mix-blend-mode:screen"/>
<ellipse cx="95.9" cy="33.9" rx="3.3" ry="3.3" fill="url(#rg)" opacity="0.13" style="mix-blend-mode:screen"/>
<ellipse cx="4.1" cy="49.0" rx="3.8" ry="3.8" fill="url(#rg)" opacity="0.13" style="mix-blend-mode:screen"/>
<ellipse cx="22.4" cy="47.6" rx="3.2" ry="3.2" fill="url(#rg)" opacity="0.08" style="mix-blend-mode:screen"/>
<ellipse cx="31.2" cy="50.2" rx="3.6" ry="3.6" fill="url(#rg)" opacity="0.18" style="mix-blend-mode:screen"/>
<ellipse cx="50.1" cy="52.4" rx="4.7" ry="4.7" fill="url(#rg)" opacity="0.08" style="mix-blend-mode:screen"/>
<ellipse cx="58.8" cy="45.9" rx="3.7" ry="3.7" fill="url(#rg)" opacity="0.15" style="mix-blend-mode:screen"/>
<ellipse cx="81.4" cy="48.3" rx="4.7" ry="4.7" fill="url(#rg)" opacity="0.07" style="mix-blend-mode:screen"/>
<ellipse cx="96.7" cy="46.7" rx="4.5" ry="4.5" fill="url(#rg)" opacity="0.07" style="mix-blend-mode:screen"/>
<ellipse cx="12.5" cy="67.3" rx="4.7" ry="4.7" fill="url(#rg)" opacity="0.15" style="mix-blend-mode:screen"/>
<ellipse cx="17.7" cy="69.7" rx="3.8" ry="3.8" fill="url(#rg)" opacity="0.08" style="mix-blend-mode:screen"/>
<ellipse cx="36.9" cy="64.3" rx="3.8" ry="3.8" fill="url(#rg)" opacity="0.09" style="mix-blend-mode:screen"/>
<ellipse cx="45.7" cy="65.2" rx="3.8" ry="3.8" fill="url(#rg)" opacity="0.09" style="mix-blend-mode:screen"/>
<ellipse cx="63.6" cy="66.9" rx="4.3" ry="4.3" fill="url(#rg)" opacity="0.14" style="mix-blend-mode:screen"/>
<ellipse cx="77.4" cy="62.7" rx="3.4" ry="3.4" fill="url(#rg)" opacity="0.10" style="mix-blend-mode:screen"/>
<ellipse cx="92.2" cy="59.8" rx="4.3" ry="4.3" fill="url(#rg)" opacity="0.17" style="mix-blend-mode:screen"/>
<ellipse cx="8.4" cy="73.1" rx="3.6" ry="3.6" fill="url(#rg)" opacity="0.13" style="mix-blend-mode:screen"/>
<ellipse cx="16.8" cy="83.9" rx="4.3" ry="4.3" fill="url(#rg)" opacity="0.14" style="mix-blend-mode:screen"/>
<ellipse cx="38.1" cy="75.2" rx="3.4" ry="3.4" fill="url(#rg)" opacity="0.14" style="mix-blend-mode:screen"/>
<ellipse cx="52.8" cy="80.3" rx="3.0" ry="3.0" fill="url(#rg)" opacity="0.16" style="mix-blend-mode:screen"/>
<ellipse cx="69.0" cy="81.4" rx="4.6" ry="4.6" fill="url(#rg)" opacity="0.21" style="mix-blend-mode:screen"/>
<ellipse cx="75.4" cy="76.2" rx="4.0" ry="4.0" fill="url(#rg)" opacity="0.21" style="mix-blend-mode:screen"/>
<ellipse cx="91.4" cy="83.6" rx="4.5" ry="4.5" fill="url(#rg)" opacity="0.14" style="mix-blend-mode:screen"/>
<ellipse cx="8.6" cy="98.1" rx="4.4" ry="4.4" fill="url(#rg)" opacity="0.11" style="mix-blend-mode:screen"/>
<ellipse cx="25.4" cy="89.4" rx="3.6" ry="3.6" fill="url(#rg)" opacity="0.20" style="mix-blend-mode:screen"/>
<ellipse cx="39.7" cy="90.7" rx="3.5" ry="3.5" fill="url(#rg)" opacity="0.16" style="mix-blend-mode:screen"/>
<ellipse cx="53.9" cy="95.0" rx="4.6" ry="4.6" fill="url(#rg)" opacity="0.17" style="mix-blend-mode:screen"/>
<ellipse cx="68.0" cy="94.1" rx="3.6" ry="3.6" fill="url(#rg)" opacity="0.13" style="mix-blend-mode:screen"/>
<ellipse cx="78.5" cy="93.2" rx="4.5" ry="4.5" fill="url(#rg)" opacity="0.11" style="mix-blend-mode:screen"/>
<ellipse cx="87.9" cy="95.5" rx="3.5" ry="3.5" fill="url(#rg)" opacity="0.13" style="mix-blend-mode:screen"/>
<ellipse cx="4.0" cy="2.5" rx="4.1" ry="4.1" fill="url(#gg)" opacity="0.18" style="mix-blend-mode:screen"/>
<ellipse cx="17.0" cy="4.4" rx="3.1" ry="3.1" fill="url(#gg)" opacity="0.29" style="mix-blend-mode:screen"/>
<ellipse cx="23.7" cy="5.0" rx="3.1" ry="3.1" fill="url(#gg)" opacity="0.18" style="mix-blend-mode:screen"/>
<ellipse cx="38.2" cy="8.5" rx="3.2" ry="3.2" fill="url(#gg)" opacity="0.22" style="mix-blend-mode:screen"/>
<ellipse cx="51.1" cy="9.5" rx="4.0" ry="4.0" fill="url(#gg)" opacity="0.26" style="mix-blend-mode:screen"/>
<ellipse cx="65.3" cy="1.5" rx="4.5" ry="4.5" fill="url(#gg)" opacity="0.23" style="mix-blend-mode:screen"/>
<ellipse cx="69.1" cy="2.2" rx="3.5" ry="3.5" fill="url(#gg)" opacity="0.36" style="mix-blend-mode:screen"/>
<ellipse cx="80.5" cy="6.3" rx="4.1" ry="4.1" fill="url(#gg)" opacity="0.25" style="mix-blend-mode:screen"/>
<ellipse cx="94.9" cy="1.7" rx="3.1" ry="3.1" fill="url(#gg)" opacity="0.21" style="mix-blend-mode:screen"/>
<ellipse cx="7.2" cy="16.0" rx="3.5" ry="3.5" fill="url(#gg)" opacity="0.30" style="mix-blend-mode:screen"/>
<ellipse cx="16.3" cy="14.9" rx="4.4" ry="4.4" fill="url(#gg)" opacity="0.33" style="mix-blend-mode:screen"/>
<ellipse cx="25.5" cy="17.3" rx="3.9" ry="3.9" fill="url(#gg)" opacity="0.37" style="mix-blend-mode:screen"/>
<ellipse cx="40.9" cy="14.8" rx="4.7" ry="4.7" fill="url(#gg)" opacity="0.19" style="mix-blend-mode:screen"/>
<ellipse cx="49.3" cy="19.0" rx="3.3" ry="3.3" fill="url(#gg)" opacity="0.28" style="mix-blend-mode:screen"/>
<ellipse cx="57.0" cy="18.2" rx="4.3" ry="4.3" fill="url(#gg)" opacity="0.30" style="mix-blend-mode:screen"/>
<ellipse cx="75.6" cy="15.0" rx="4.2" ry="4.2" fill="url(#gg)" opacity="0.31" style="mix-blend-mode:screen"/>
<ellipse cx="84.0" cy="16.3" rx="4.5" ry="4.5" fill="url(#gg)" opacity="0.39" style="mix-blend-mode:screen"/>
<ellipse cx="94.2" cy="18.1" rx="3.1" ry="3.1" fill="url(#gg)" opacity="0.33" style="mix-blend-mode:screen"/>
<ellipse cx="6.9" cy="32.2" rx="4.4" ry="4.4" fill="url(#gg)" opacity="0.23" style="mix-blend-mode:screen"/>
<ellipse cx="15.7" cy="29.3" rx="3.0" ry="3.0" fill="url(#gg)" opacity="0.27" style="mix-blend-mode:screen"/>
<ellipse cx="24.8" cy="24.4" rx="3.1" ry="3.1" fill="url(#gg)" opacity="0.35" style="mix-blend-mode:screen"/>
<ellipse cx="35.6" cy="25.5" rx="3.7" ry="3.7" fill="url(#gg)" opacity="0.37" style="mix-blend-mode:screen"/>
<ellipse cx="46.3" cy="27.3" rx="4.0" ry="4.0" fill="url(#gg)" opacity="0.38" style="mix-blend-mode:screen"/>
<ellipse cx="63.9" cy="31.0" rx="3.5" ry="3.5" fill="url(#gg)" opacity="0.26" style="mix-blend-mode:screen"/>
<ellipse cx="71.0" cy="31.2" rx="4.7" ry="4.7" fill="url(#gg)" opacity="0.20" style="mix-blend-mode:screen"/>
<ellipse cx="80.5" cy="25.4" rx="3.4" ry="3.4" fill="url(#gg)" opacity="0.28" style="mix-blend-mode:screen"/>
<ellipse cx="95.2" cy="25.7" rx="3.0" ry="3.0" fill="url(#gg)" opacity="0.26" style="mix-blend-mode:screen"/>
<ellipse cx="4.4" cy="39.5" rx="4.7" ry="4.7" fill="url(#gg)" opacity="0.33" style="mix-blend-mode:screen"/>
<ellipse cx="16.8" cy="39.9" rx="4.2" ry="4.2" fill="url(#gg)" opacity="0.18" style="mix-blend-mode:screen"/>
<ellipse cx="31.3" cy="41.4" rx="4.5" ry="4.5" fill="url(#gg)" opacity="0.36" style="mix-blend-mode:screen"/>
<ellipse cx="37.9" cy="38.0" rx="3.2" ry="3.2" fill="url(#gg)" opacity="0.32" style="mix-blend-mode:screen"/>
<ellipse cx="46.1" cy="35.0" rx="3.4" ry="3.4" fill="url(#gg)" opacity="0.20" style="mix-blend-mode:screen"/>
<ellipse cx="59.7" cy="34.9" rx="3.0" ry="3.0" fill="url(#gg)" opacity="0.20" style="mix-blend-mode:screen"/>
<ellipse cx="68.7" cy="37.7" rx="3.0" ry="3.0" fill="url(#gg)" opacity="0.37" style="mix-blend-mode:screen"/>
<ellipse cx="84.3" cy="35.8" rx="3.4" ry="3.4" fill="url(#gg)" opacity="0.25" style="mix-blend-mode:screen"/>
<ellipse cx="93.2" cy="35.5" rx="4.5" ry="4.5" fill="url(#gg)" opacity="0.40" style="mix-blend-mode:screen"/>
<ellipse cx="5.3" cy="49.9" rx="3.2" ry="3.2" fill="url(#gg)" opacity="0.19" style="mix-blend-mode:screen"/>
<ellipse cx="15.3" cy="47.9" rx="4.5" ry="4.5" fill="url(#gg)" opacity="0.20" style="mix-blend-mode:screen"/>
<ellipse cx="23.5" cy="54.0" rx="3.9" ry="3.9" fill="url(#gg)" opacity="0.20" style="mix-blend-mode:screen"/>
<ellipse cx="39.3" cy="45.8" rx="3.9" ry="3.9" fill="url(#gg)" opacity="0.40" style="mix-blend-mode:screen"/>
<ellipse cx="53.2" cy="51.7" rx="3.5" ry="3.5" fill="url(#gg)" opacity="0.25" style="mix-blend-mode:screen"/>
<ellipse cx="58.2" cy="52.4" rx="3.9" ry="3.9" fill="url(#gg)" opacity="0.35" style="mix-blend-mode:screen"/>
<ellipse cx="70.7" cy="47.5" rx="4.4" ry="4.4" fill="url(#gg)" opacity="0.40" style="mix-blend-mode:screen"/>
<ellipse cx="86.5" cy="52.7" rx="4.4" ry="4.4" fill="url(#gg)" opacity="0.34" style="mix-blend-mode:screen"/>
<ellipse cx="92.0" cy="50.2" rx="3.6" ry="3.6" fill="url(#gg)" opacity="0.17" style="mix-blend-mode:screen"/>
<ellipse cx="1.4" cy="59.2" rx="3.5" ry="3.5" fill="url(#gg)" opacity="0.33" style="mix-blend-mode:screen"/>
<ellipse cx="20.7" cy="60.6" rx="4.6" ry="4.6" fill="url(#gg)" opacity="0.40" style="mix-blend-mode:screen"/>
<ellipse cx="31.8" cy="59.9" rx="3.4" ry="3.4" fill="url(#gg)" opacity="0.22" style="mix-blend-mode:screen"/>
<ellipse cx="36.2" cy="58.5" rx="4.1" ry="4.1" fill="url(#gg)" opacity="0.38" style="mix-blend-mode:screen"/>
<ellipse cx="53.0" cy="60.9" rx="4.1" ry="4.1" fill="url(#gg)" opacity="0.36" style="mix-blend-mode:screen"/>
<ellipse cx="57.4" cy="62.5" rx="4.6" ry="4.6" fill="url(#gg)" opacity="0.35" style="mix-blend-mode:screen"/>
<ellipse cx="74.4" cy="60.9" rx="3.3" ry="3.3" fill="url(#gg)" opacity="0.35" style="mix-blend-mode:screen"/>
<ellipse cx="81.8" cy="63.8" rx="4.7" ry="4.7" fill="url(#gg)" opacity="0.26" style="mix-blend-mode:screen"/>
<ellipse cx="93.6" cy="65.1" rx="4.3" ry="4.3" fill="url(#gg)" opacity="0.20" style="mix-blend-mode:screen"/>
<ellipse cx="2.2" cy="69.1" rx="4.6" ry="4.6" fill="url(#gg)" opacity="0.36" style="mix-blend-mode:screen"/>
<ellipse cx="13.5" cy="75.1" rx="4.7" ry="4.7" fill="url(#gg)" opacity="0.32" style="mix-blend-mode:screen"/>
<ellipse cx="26.4" cy="72.7" rx="3.2" ry="3.2" fill="url(#gg)" opacity="0.17" style="mix-blend-mode:screen"/>
<ellipse cx="43.1" cy="73.6" rx="3.9" ry="3.9" fill="url(#gg)" opacity="0.39" style="mix-blend-mode:screen"/>
<ellipse cx="49.4" cy="75.5" rx="4.4" ry="4.4" fill="url(#gg)" opacity="0.21" style="mix-blend-mode:screen"/>
<ellipse cx="58.9" cy="70.4" rx="3.4" ry="3.4" fill="url(#gg)" opacity="0.30" style="mix-blend-mode:screen"/>
<ellipse cx="70.1" cy="71.5" rx="3.2" ry="3.2" fill="url(#gg)" opacity="0.38" style="mix-blend-mode:screen"/>
<ellipse cx="82.0" cy="71.9" rx="4.0" ry="4.0" fill="url(#gg)" opacity="0.38" style="mix-blend-mode:screen"/>
<ellipse cx="93.7" cy="75.9" rx="3.9" ry="3.9" fill="url(#gg)" opacity="0.29" style="mix-blend-mode:screen"/>
<ellipse cx="5.8" cy="79.1" rx="3.8" ry="3.8" fill="url(#gg)" opacity="0.21" style="mix-blend-mode:screen"/>
<ellipse cx="12.3" cy="86.0" rx="3.3" ry="3.3" fill="url(#gg)" opacity="0.28" style="mix-blend-mode:screen"/>
<ellipse cx="29.8" cy="83.8" rx="3.6" ry="3.6" fill="url(#gg)" opacity="0.29" style="mix-blend-mode:screen"/>
<ellipse cx="39.4" cy="85.9" rx="3.2" ry="3.2" fill="url(#gg)" opacity="0.30" style="mix-blend-mode:screen"/>
<ellipse cx="47.8" cy="81.4" rx="4.4" ry="4.4" fill="url(#gg)" opacity="0.29" style="mix-blend-mode:screen"/>
<ellipse cx="61.7" cy="85.6" rx="4.6" ry="4.6" fill="url(#gg)" opacity="0.27" style="mix-blend-mode:screen"/>
<ellipse cx="73.2" cy="83.4" rx="3.9" ry="3.9" fill="url(#gg)" opacity="0.33" style="mix-blend-mode:screen"/>
<ellipse cx="82.9" cy="83.6" rx="3.8" ry="3.8" fill="url(#gg)" opacity="0.39" style="mix-blend-mode:screen"/>
<ellipse cx="96.2" cy="86.7" rx="4.6" ry="4.6" fill="url(#gg)" opacity="0.23" style="mix-blend-mode:screen"/>
<ellipse cx="6.1" cy="98.4" rx="4.5" ry="4.5" fill="url(#gg)" opacity="0.20" style="mix-blend-mode:screen"/>
<ellipse cx="13.3" cy="93.9" rx="3.1" ry="3.1" fill="url(#gg)" opacity="0.22" style="mix-blend-mode:screen"/>
<ellipse cx="24.0" cy="96.0" rx="4.4" ry="4.4" fill="url(#gg)" opacity="0.38" style="mix-blend-mode:screen"/>
<ellipse cx="35.8" cy="96.4" rx="4.2" ry="4.2" fill="url(#gg)" opacity="0.20" style="mix-blend-mode:screen"/>
<ellipse cx="53.4" cy="98.6" rx="3.4" ry="3.4" fill="url(#gg)" opacity="0.39" style="mix-blend-mode:screen"/>
<ellipse cx="60.2" cy="94.3" rx="4.7" ry="4.7" fill="url(#gg)" opacity="0.36" style="mix-blend-mode:screen"/>
<ellipse cx="69.2" cy="93.8" rx="3.9" ry="3.9" fill="url(#gg)" opacity="0.24" style="mix-blend-mode:screen"/>
<ellipse cx="80.6" cy="92.8" rx="4.3" ry="4.3" fill="url(#gg)" opacity="0.17" style="mix-blend-mode:screen"/>
<ellipse cx="94.9" cy="93.9" rx="3.0" ry="3.0" fill="url(#gg)" opacity="0.24" style="mix-blend-mode:screen"/>
<ellipse cx="50.2" cy="55.0" rx="5.0" ry="6.1" fill="url(#rg)" opacity="0.50" style="mix-blend-mode:screen"/>
<ellipse cx="60.7" cy="51.0" rx="4.4" ry="4.4" fill="url(#rg)" opacity="0.44" style="mix-blend-mode:screen"/>
<ellipse cx="60.7" cy="61.5" rx="4.4" ry="4.4" fill="url(#rg)" opacity="0.44" style="mix-blend-mode:screen"/>
<ellipse cx="85.8" cy="59.0" rx="4.4" ry="4.4" fill="url(#rg)" opacity="0.44" style="mix-blend-mode:screen"/>
<ellipse cx="84.5" cy="77.0" rx="4.4" ry="4.4" fill="url(#rg)" opacity="0.44" style="mix-blend-mode:screen"/>
<ellipse cx="48.8" cy="55.0" rx="4.5" ry="8.5" fill="url(#gg)" opacity="0.81" transform="rotate(-40 48.8 55.0)" style="mix-blend-mode:screen"/>
<ellipse cx="55.0" cy="50.0" rx="4.0" ry="6.0" fill="url(#gg)" opacity="0.52" transform="rotate(-40 55.0 50.0)" style="mix-blend-mode:screen"/>
<ellipse cx="43.5" cy="16.0" rx="4.5" ry="4.5" fill="url(#gg)" opacity="0.57" style="mix-blend-mode:screen"/>
<ellipse cx="14.5" cy="33.5" rx="4.0" ry="4.0" fill="url(#gg)" opacity="0.47" style="mix-blend-mode:screen"/>
<ellipse cx="14.0" cy="73.0" rx="4.0" ry="4.0" fill="url(#gg)" opacity="0.52" style="mix-blend-mode:screen"/>
<ellipse cx="50.0" cy="53.0" rx="11.0" ry="13.0" fill="url(#gg)" opacity="0.21" transform="rotate(-40 50.0 53.0)" style="mix-blend-mode:screen"/>
</g>
</svg>
<rect x="447.0" y="47.6" width="16.4" height="3.6" fill="#ffffff"/>
<text x="1.5" y="381.0" font-size="30" fill="#1a1a1a" text-anchor="start" font-weight="bold">c</text>
<text x="1.9" y="417.5" font-size="12.5" fill="#333" text-anchor="start" stroke="#333" stroke-width="0.25">Time (s):</text>
<text x="105.7" y="417.5" font-size="12.5" fill="#333" text-anchor="middle" stroke="#333" stroke-width="0.25">Pre-bleach</text>
<text x="207.2" y="417.5" font-size="12.5" fill="#333" text-anchor="middle" stroke="#333" stroke-width="0.25">8</text>
<text x="310.5" y="417.5" font-size="12.5" fill="#333" text-anchor="middle" stroke="#333" stroke-width="0.25">16</text>
<text x="413.0" y="417.5" font-size="12.5" fill="#333" text-anchor="middle" stroke="#333" stroke-width="0.25">24</text>
<text x="515.7" y="417.5" font-size="12.5" fill="#333" text-anchor="middle" stroke="#333" stroke-width="0.25">32</text>
<text x="618.2" y="417.5" font-size="12.5" fill="#333" text-anchor="middle" stroke="#333" stroke-width="0.25">40</text>
<text x="720.2" y="417.5" font-size="12.5" fill="#333" text-anchor="middle" stroke="#333" stroke-width="0.25">240</text>
<text x="0.5" y="491.9" font-size="15" fill="#231f20" text-anchor="start" stroke="#231f20" stroke-width="0.25">DMSO</text>
<text x="0.5" y="587.1" font-size="15" fill="#231f20" text-anchor="start" stroke="#231f20" stroke-width="0.25">Noc</text>
<text x="0.5" y="694.8" font-size="15" fill="#231f20" text-anchor="start" stroke="#231f20" stroke-width="0.25">Taxol</text>
<svg x="60.6" y="422.0" width="99.4" height="98.6" overflow="hidden">
<rect x="0.0" y="0.0" width="99.4" height="98.6" fill="#0b0b0b"/>
<rect x="0" y="0" width="99.4" height="98.6" filter="url(#noise)" opacity="0.38"/>
<g filter="url(#bl1)">
<ellipse cx="49.8" cy="53.3" rx="16.0" ry="11.0" fill="url(#wg)" opacity="1.00"/>
<ellipse cx="49.8" cy="53.3" rx="8.0" ry="5.0" fill="url(#wg)" opacity="1.00"/>
<ellipse cx="32.8" cy="39.3" rx="6.0" ry="6.0" fill="url(#wg)" opacity="0.35"/>
<ellipse cx="49.8" cy="53.3" rx="24.0" ry="18.0" fill="url(#wg)" opacity="0.20"/>
</g>
<rect x="0" y="0" width="99.4" height="98.6" filter="url(#noise2)" opacity="0.08"/>
<circle cx="52.8" cy="52.3" r="17.2" fill="none" stroke="#f2cc2e" stroke-width="2.3" stroke-dasharray="6.2 4.6" stroke-dashoffset="2"/>
</svg>
<svg x="162.5" y="422.0" width="99.4" height="98.6" overflow="hidden">
<rect x="0.0" y="0.0" width="99.4" height="98.6" fill="#0b0b0b"/>
<rect x="0" y="0" width="99.4" height="98.6" filter="url(#noise)" opacity="0.38"/>
<g filter="url(#bl1)">
<ellipse cx="49.0" cy="52.3" rx="12.0" ry="12.0" fill="url(#wg)" opacity="0.12"/>
</g>
<rect x="0" y="0" width="99.4" height="98.6" filter="url(#noise2)" opacity="0.08"/>
<circle cx="49.0" cy="52.3" r="17.2" fill="none" stroke="#f2cc2e" stroke-width="2.3" stroke-dasharray="6.2 4.6" stroke-dashoffset="2"/>
</svg>
<svg x="264.3" y="422.0" width="99.4" height="98.6" overflow="hidden">
<rect x="0.0" y="0.0" width="99.4" height="98.6" fill="#0b0b0b"/>
<rect x="0" y="0" width="99.4" height="98.6" filter="url(#noise)" opacity="0.38"/>
<g filter="url(#bl1)">
<ellipse cx="50.3" cy="50.9" rx="14.0" ry="12.0" fill="url(#wg)" opacity="0.30"/>
</g>
<rect x="0" y="0" width="99.4" height="98.6" filter="url(#noise2)" opacity="0.08"/>
<circle cx="50.3" cy="50.9" r="17.2" fill="none" stroke="#f2cc2e" stroke-width="2.3" stroke-dasharray="6.2 4.6" stroke-dashoffset="2"/>
</svg>
<svg x="366.2" y="422.0" width="99.4" height="98.6" overflow="hidden">
<rect x="0.0" y="0.0" width="99.4" height="98.6" fill="#0b0b0b"/>
<rect x="0" y="0" width="99.4" height="98.6" filter="url(#noise)" opacity="0.38"/>
<g filter="url(#bl1)">
<ellipse cx="48.1" cy="50.5" rx="14.0" ry="12.0" fill="url(#wg)" opacity="0.45"/>
</g>
<rect x="0" y="0" width="99.4" height="98.6" filter="url(#noise2)" opacity="0.08"/>
<circle cx="48.1" cy="50.5" r="17.2" fill="none" stroke="#f2cc2e" stroke-width="2.3" stroke-dasharray="6.2 4.6" stroke-dashoffset="2"/>
</svg>
<svg x="468.1" y="422.0" width="99.4" height="98.6" overflow="hidden">
<rect x="0.0" y="0.0" width="99.4" height="98.6" fill="#0b0b0b"/>
<rect x="0" y="0" width="99.4" height="98.6" filter="url(#noise)" opacity="0.38"/>
<g filter="url(#bl1)">
<ellipse cx="52.9" cy="48.4" rx="14.0" ry="12.0" fill="url(#wg)" opacity="0.50"/>
</g>
<rect x="0" y="0" width="99.4" height="98.6" filter="url(#noise2)" opacity="0.08"/>
<circle cx="52.9" cy="48.4" r="17.2" fill="none" stroke="#f2cc2e" stroke-width="2.3" stroke-dasharray="6.2 4.6" stroke-dashoffset="2"/>
</svg>
<svg x="570.0" y="422.0" width="99.4" height="98.6" overflow="hidden">
<rect x="0.0" y="0.0" width="99.4" height="98.6" fill="#0b0b0b"/>
<rect x="0" y="0" width="99.4" height="98.6" filter="url(#noise)" opacity="0.38"/>
<g filter="url(#bl1)">
<ellipse cx="50.0" cy="48.4" rx="14.0" ry="12.0" fill="url(#wg)" opacity="0.60"/>
</g>
<rect x="0" y="0" width="99.4" height="98.6" filter="url(#noise2)" opacity="0.08"/>
<circle cx="50.0" cy="48.4" r="17.2" fill="none" stroke="#f2cc2e" stroke-width="2.3" stroke-dasharray="6.2 4.6" stroke-dashoffset="2"/>
</svg>
<svg x="671.8" y="422.0" width="99.4" height="98.6" overflow="hidden">
<rect x="0.0" y="0.0" width="99.4" height="98.6" fill="#0b0b0b"/>
<rect x="0" y="0" width="99.4" height="98.6" filter="url(#noise)" opacity="0.38"/>
<g filter="url(#bl1)">
<ellipse cx="47.7" cy="49.7" rx="14.0" ry="11.0" fill="url(#wg)" opacity="0.75"/>
<ellipse cx="45.7" cy="49.7" rx="7.0" ry="5.0" fill="url(#wg)" opacity="0.60"/>
</g>
<rect x="0" y="0" width="99.4" height="98.6" filter="url(#noise2)" opacity="0.08"/>
<circle cx="47.7" cy="50.7" r="17.2" fill="none" stroke="#f2cc2e" stroke-width="2.3" stroke-dasharray="6.2 4.6" stroke-dashoffset="2"/>
</svg>
<svg x="60.6" y="525.0" width="99.4" height="99.6" overflow="hidden">
<rect x="0.0" y="0.0" width="99.4" height="99.6" fill="#060606"/>
<rect x="0" y="0" width="99.4" height="99.6" filter="url(#noise)" opacity="0.16"/>
<g filter="url(#bl1)">
<ellipse cx="49.5" cy="50.0" rx="14.0" ry="10.0" fill="url(#wg)" opacity="0.85" transform="rotate(40 49.5 50.0)"/>
<ellipse cx="49.5" cy="50.0" rx="7.0" ry="4.5" fill="url(#wg)" opacity="0.60" transform="rotate(40 49.5 50.0)"/>
</g>
<rect x="0" y="0" width="99.4" height="99.6" filter="url(#noise2)" opacity="0.08"/>
<circle cx="50.5" cy="51.0" r="17.2" fill="none" stroke="#f2cc2e" stroke-width="2.3" stroke-dasharray="6.2 4.6" stroke-dashoffset="2"/>
</svg>
<svg x="162.5" y="525.0" width="99.4" height="99.6" overflow="hidden">
<rect x="0.0" y="0.0" width="99.4" height="99.6" fill="#060606"/>
<rect x="0" y="0" width="99.4" height="99.6" filter="url(#noise)" opacity="0.16"/>
<g filter="url(#bl1)">
<ellipse cx="47.7" cy="51.0" rx="12.0" ry="12.0" fill="url(#wg)" opacity="0.08"/>
</g>
<rect x="0" y="0" width="99.4" height="99.6" filter="url(#noise2)" opacity="0.08"/>
<circle cx="47.7" cy="51.0" r="17.2" fill="none" stroke="#f2cc2e" stroke-width="2.3" stroke-dasharray="6.2 4.6" stroke-dashoffset="2"/>
</svg>
<svg x="264.3" y="525.0" width="99.4" height="99.6" overflow="hidden">
<rect x="0.0" y="0.0" width="99.4" height="99.6" fill="#060606"/>
<rect x="0" y="0" width="99.4" height="99.6" filter="url(#noise)" opacity="0.16"/>
<g filter="url(#bl1)">
<ellipse cx="48.1" cy="50.1" rx="13.0" ry="11.0" fill="url(#wg)" opacity="0.25" transform="rotate(35 48.1 50.1)"/>
</g>
<rect x="0" y="0" width="99.4" height="99.6" filter="url(#noise2)" opacity="0.08"/>
<circle cx="48.1" cy="50.1" r="17.2" fill="none" stroke="#f2cc2e" stroke-width="2.3" stroke-dasharray="6.2 4.6" stroke-dashoffset="2"/>
</svg>
<svg x="366.2" y="525.0" width="99.4" height="99.6" overflow="hidden">
<rect x="0.0" y="0.0" width="99.4" height="99.6" fill="#060606"/>
<rect x="0" y="0" width="99.4" height="99.6" filter="url(#noise)" opacity="0.16"/>
<g filter="url(#bl1)">
<ellipse cx="47.5" cy="50.1" rx="13.0" ry="11.0" fill="url(#wg)" opacity="0.28" transform="rotate(35 47.5 50.1)"/>
</g>
<rect x="0" y="0" width="99.4" height="99.6" filter="url(#noise2)" opacity="0.08"/>
<circle cx="47.5" cy="50.1" r="17.2" fill="none" stroke="#f2cc2e" stroke-width="2.3" stroke-dasharray="6.2 4.6" stroke-dashoffset="2"/>
</svg>
<svg x="468.1" y="525.0" width="99.4" height="99.6" overflow="hidden">
<rect x="0.0" y="0.0" width="99.4" height="99.6" fill="#060606"/>
<rect x="0" y="0" width="99.4" height="99.6" filter="url(#noise)" opacity="0.16"/>
<g filter="url(#bl1)">
<ellipse cx="49.6" cy="48.6" rx="13.0" ry="11.0" fill="url(#wg)" opacity="0.30" transform="rotate(35 49.6 48.6)"/>
</g>
<rect x="0" y="0" width="99.4" height="99.6" filter="url(#noise2)" opacity="0.08"/>
<circle cx="49.6" cy="48.6" r="17.2" fill="none" stroke="#f2cc2e" stroke-width="2.3" stroke-dasharray="6.2 4.6" stroke-dashoffset="2"/>
</svg>
<svg x="570.0" y="525.0" width="99.4" height="99.6" overflow="hidden">
<rect x="0.0" y="0.0" width="99.4" height="99.6" fill="#060606"/>
<rect x="0" y="0" width="99.4" height="99.6" filter="url(#noise)" opacity="0.16"/>
<g filter="url(#bl1)">
<ellipse cx="47.8" cy="48.6" rx="13.0" ry="11.0" fill="url(#wg)" opacity="0.32" transform="rotate(35 47.8 48.6)"/>
</g>
<rect x="0" y="0" width="99.4" height="99.6" filter="url(#noise2)" opacity="0.08"/>
<circle cx="47.8" cy="48.6" r="17.2" fill="none" stroke="#f2cc2e" stroke-width="2.3" stroke-dasharray="6.2 4.6" stroke-dashoffset="2"/>
</svg>
<svg x="671.8" y="525.0" width="99.4" height="99.6" overflow="hidden">
<rect x="0.0" y="0.0" width="99.4" height="99.6" fill="#060606"/>
<rect x="0" y="0" width="99.4" height="99.6" filter="url(#noise)" opacity="0.16"/>
<g filter="url(#bl1)">
<ellipse cx="49.1" cy="50.0" rx="13.0" ry="11.0" fill="url(#wg)" opacity="0.38" transform="rotate(35 49.1 50.0)"/>
</g>
<rect x="0" y="0" width="99.4" height="99.6" filter="url(#noise2)" opacity="0.08"/>
<circle cx="49.1" cy="50.0" r="17.2" fill="none" stroke="#f2cc2e" stroke-width="2.3" stroke-dasharray="6.2 4.6" stroke-dashoffset="2"/>
</svg>
<svg x="60.6" y="628.1" width="99.4" height="99.4" overflow="hidden">
<rect x="0.0" y="0.0" width="99.4" height="99.4" fill="#060606"/>
<rect x="0" y="0" width="99.4" height="99.4" filter="url(#noise)" opacity="0.16"/>
<g filter="url(#bl1)">
<ellipse cx="52.8" cy="50.6" rx="14.0" ry="8.0" fill="url(#wg)" opacity="0.75" transform="rotate(30 52.8 50.6)"/>
</g>
<rect x="0" y="0" width="99.4" height="99.4" filter="url(#noise2)" opacity="0.08"/>
<circle cx="52.8" cy="50.6" r="17.2" fill="none" stroke="#f2cc2e" stroke-width="2.3" stroke-dasharray="6.2 4.6" stroke-dashoffset="2"/>
</svg>
<svg x="162.5" y="628.1" width="99.4" height="99.4" overflow="hidden">
<rect x="0.0" y="0.0" width="99.4" height="99.4" fill="#060606"/>
<rect x="0" y="0" width="99.4" height="99.4" filter="url(#noise)" opacity="0.16"/>
<g filter="url(#bl1)">
<ellipse cx="48.1" cy="52.6" rx="12.0" ry="8.0" fill="url(#wg)" opacity="0.20" transform="rotate(20 48.1 52.6)"/>
</g>
<rect x="0" y="0" width="99.4" height="99.4" filter="url(#noise2)" opacity="0.08"/>
<circle cx="48.1" cy="50.6" r="17.2" fill="none" stroke="#f2cc2e" stroke-width="2.3" stroke-dasharray="6.2 4.6" stroke-dashoffset="2"/>
</svg>
<svg x="264.3" y="628.1" width="99.4" height="99.4" overflow="hidden">
<rect x="0.0" y="0.0" width="99.4" height="99.4" fill="#060606"/>
<rect x="0" y="0" width="99.4" height="99.4" filter="url(#noise)" opacity="0.16"/>
<g filter="url(#bl1)">
<ellipse cx="49.9" cy="49.7" rx="12.0" ry="8.0" fill="url(#wg)" opacity="0.28" transform="rotate(30 49.9 49.7)"/>
</g>
<rect x="0" y="0" width="99.4" height="99.4" filter="url(#noise2)" opacity="0.08"/>
<circle cx="49.9" cy="49.7" r="17.2" fill="none" stroke="#f2cc2e" stroke-width="2.3" stroke-dasharray="6.2 4.6" stroke-dashoffset="2"/>
</svg>
<svg x="366.2" y="628.1" width="99.4" height="99.4" overflow="hidden">
<rect x="0.0" y="0.0" width="99.4" height="99.4" fill="#060606"/>
<rect x="0" y="0" width="99.4" height="99.4" filter="url(#noise)" opacity="0.16"/>
<g filter="url(#bl1)">
<ellipse cx="47.8" cy="49.9" rx="12.0" ry="8.0" fill="url(#wg)" opacity="0.30" transform="rotate(30 47.8 49.9)"/>
</g>
<rect x="0" y="0" width="99.4" height="99.4" filter="url(#noise2)" opacity="0.08"/>
<circle cx="47.8" cy="49.9" r="17.2" fill="none" stroke="#f2cc2e" stroke-width="2.3" stroke-dasharray="6.2 4.6" stroke-dashoffset="2"/>
</svg>
<svg x="468.1" y="628.1" width="99.4" height="99.4" overflow="hidden">
<rect x="0.0" y="0.0" width="99.4" height="99.4" fill="#060606"/>
<rect x="0" y="0" width="99.4" height="99.4" filter="url(#noise)" opacity="0.16"/>
<g filter="url(#bl1)">
<ellipse cx="51.9" cy="49.6" rx="12.0" ry="8.0" fill="url(#wg)" opacity="0.32" transform="rotate(30 51.9 49.6)"/>
</g>
<rect x="0" y="0" width="99.4" height="99.4" filter="url(#noise2)" opacity="0.08"/>
<circle cx="51.9" cy="49.6" r="17.2" fill="none" stroke="#f2cc2e" stroke-width="2.3" stroke-dasharray="6.2 4.6" stroke-dashoffset="2"/>
</svg>
<svg x="570.0" y="628.1" width="99.4" height="99.4" overflow="hidden">
<rect x="0.0" y="0.0" width="99.4" height="99.4" fill="#060606"/>
<rect x="0" y="0" width="99.4" height="99.4" filter="url(#noise)" opacity="0.16"/>
<g filter="url(#bl1)">
<ellipse cx="49.5" cy="47.7" rx="12.0" ry="8.0" fill="url(#wg)" opacity="0.38" transform="rotate(30 49.5 47.7)"/>
</g>
<rect x="0" y="0" width="99.4" height="99.4" filter="url(#noise2)" opacity="0.08"/>
<circle cx="49.5" cy="47.7" r="17.2" fill="none" stroke="#f2cc2e" stroke-width="2.3" stroke-dasharray="6.2 4.6" stroke-dashoffset="2"/>
</svg>
<svg x="671.8" y="628.1" width="99.4" height="99.4" overflow="hidden">
<rect x="0.0" y="0.0" width="99.4" height="99.4" fill="#060606"/>
<rect x="0" y="0" width="99.4" height="99.4" filter="url(#noise)" opacity="0.16"/>
<g filter="url(#bl1)">
<ellipse cx="47.7" cy="50.0" rx="13.0" ry="8.0" fill="url(#wg)" opacity="0.55" transform="rotate(-60 47.7 50.0)"/>
</g>
<rect x="0" y="0" width="99.4" height="99.4" filter="url(#noise2)" opacity="0.08"/>
<circle cx="47.7" cy="50.0" r="17.2" fill="none" stroke="#f2cc2e" stroke-width="2.3" stroke-dasharray="6.2 4.6" stroke-dashoffset="2"/>
</svg>
<rect x="745.5" y="713.6" width="14.5" height="4.4" fill="#ffffff"/>
<text x="519.0" y="22.0" font-size="30" fill="#1a1a1a" text-anchor="start" font-weight="bold">b</text>
<text x="533.0" y="192.2" font-size="15" fill="#231f20" text-anchor="middle" stroke="#231f20" stroke-width="0.25" transform="rotate(-90 533 192.2)">Centrosomal GFP intensity (A.U.)</text>
<line x1="586.5" y1="46.3" x2="586.5" y2="331.0" stroke="#000000" stroke-width="2.9"/>
<line x1="576.0" y1="327.8" x2="586.5" y2="327.8" stroke="#000000" stroke-width="2.6"/>
<text x="569.5" y="334.5" font-size="19.5" fill="#231f20" text-anchor="end" stroke="#231f20" stroke-width="0.25">0</text>
<line x1="576.0" y1="265.5" x2="586.5" y2="265.5" stroke="#000000" stroke-width="2.6"/>
<text x="569.5" y="272.2" font-size="19.5" fill="#231f20" text-anchor="end" stroke="#231f20" stroke-width="0.25">0.5</text>
<line x1="576.0" y1="203.2" x2="586.5" y2="203.2" stroke="#000000" stroke-width="2.6"/>
<text x="569.5" y="209.9" font-size="19.5" fill="#231f20" text-anchor="end" stroke="#231f20" stroke-width="0.25">1</text>
<line x1="576.0" y1="140.9" x2="586.5" y2="140.9" stroke="#000000" stroke-width="2.6"/>
<text x="569.5" y="147.6" font-size="19.5" fill="#231f20" text-anchor="end" stroke="#231f20" stroke-width="0.25">1.5</text>
<line x1="576.0" y1="78.6" x2="586.5" y2="78.6" stroke="#000000" stroke-width="2.6"/>
<text x="569.5" y="85.3" font-size="19.5" fill="#231f20" text-anchor="end" stroke="#231f20" stroke-width="0.25">2</text>
<line x1="576.3" y1="327.8" x2="741.4" y2="327.8" stroke="#000000" stroke-width="3.0"/>
<line x1="611.5" y1="327.8" x2="611.5" y2="337.8" stroke="#000000" stroke-width="2.6"/>
<line x1="661.8" y1="327.8" x2="661.8" y2="337.8" stroke="#000000" stroke-width="2.6"/>
<line x1="713.3" y1="327.8" x2="713.3" y2="337.8" stroke="#000000" stroke-width="2.6"/>
<text x="600.8" y="358.0" font-size="15" fill="#231f20" text-anchor="middle" stroke="#231f20" stroke-width="0.25">DMSO</text>
<text x="661.2" y="358.0" font-size="15" fill="#231f20" text-anchor="middle" stroke="#231f20" stroke-width="0.25">Noc</text>
<text x="716.6" y="358.0" font-size="15" fill="#231f20" text-anchor="middle" stroke="#231f20" stroke-width="0.25">Taxol</text>
<circle cx="601.8" cy="92.1" r="3.2" fill="#111111"/>
<circle cx="611.2" cy="92.7" r="3.2" fill="#111111"/>
<circle cx="620.6" cy="92.3" r="3.2" fill="#111111"/>
<circle cx="606.4" cy="107.9" r="3.2" fill="#111111"/>
<circle cx="616.0" cy="112.0" r="3.2" fill="#111111"/>
<circle cx="611.2" cy="140.6" r="3.2" fill="#111111"/>
<circle cx="598.7" cy="153.9" r="3.2" fill="#111111"/>
<circle cx="623.8" cy="152.5" r="3.2" fill="#111111"/>
<circle cx="605.0" cy="158.4" r="3.2" fill="#111111"/>
<circle cx="611.2" cy="159.0" r="3.2" fill="#111111"/>
<circle cx="617.5" cy="156.3" r="3.2" fill="#111111"/>
<circle cx="601.7" cy="166.5" r="3.2" fill="#111111"/>
<circle cx="611.2" cy="169.3" r="3.2" fill="#111111"/>
<circle cx="620.6" cy="168.0" r="3.2" fill="#111111"/>
<circle cx="598.7" cy="177.3" r="3.2" fill="#111111"/>
<circle cx="602.6" cy="178.9" r="3.2" fill="#111111"/>
<circle cx="607.0" cy="181.7" r="3.2" fill="#111111"/>
<circle cx="610.9" cy="182.5" r="3.2" fill="#111111"/>
<circle cx="615.3" cy="179.7" r="3.2" fill="#111111"/>
<circle cx="619.6" cy="178.1" r="3.2" fill="#111111"/>
<circle cx="623.8" cy="175.0" r="3.2" fill="#111111"/>
<circle cx="615.9" cy="185.9" r="3.2" fill="#111111"/>
<circle cx="597.9" cy="195.9" r="3.2" fill="#111111"/>
<circle cx="601.8" cy="193.1" r="3.2" fill="#111111"/>
<circle cx="606.2" cy="195.5" r="3.2" fill="#111111"/>
<circle cx="616.0" cy="195.1" r="3.2" fill="#111111"/>
<circle cx="623.9" cy="196.3" r="3.2" fill="#111111"/>
<circle cx="609.0" cy="198.0" r="3.2" fill="#111111"/>
<circle cx="614.0" cy="199.0" r="3.2" fill="#111111"/>
<circle cx="618.0" cy="197.0" r="3.2" fill="#111111"/>
<circle cx="603.0" cy="199.0" r="3.2" fill="#111111"/>
<circle cx="598.7" cy="196.6" r="3.2" fill="#111111"/>
<circle cx="601.8" cy="206.0" r="3.2" fill="#111111"/>
<circle cx="611.2" cy="204.9" r="3.2" fill="#111111"/>
<circle cx="620.6" cy="206.4" r="3.2" fill="#111111"/>
<circle cx="598.7" cy="214.3" r="3.2" fill="#111111"/>
<circle cx="611.2" cy="213.7" r="3.2" fill="#111111"/>
<circle cx="623.8" cy="215.9" r="3.2" fill="#111111"/>
<circle cx="601.8" cy="225.6" r="3.2" fill="#111111"/>
<circle cx="606.8" cy="222.2" r="3.2" fill="#111111"/>
<circle cx="615.7" cy="223.0" r="3.2" fill="#111111"/>
<circle cx="620.6" cy="226.4" r="3.2" fill="#111111"/>
<circle cx="611.2" cy="234.9" r="3.2" fill="#111111"/>
<circle cx="598.7" cy="236.4" r="3.2" fill="#111111"/>
<circle cx="601.8" cy="239.6" r="3.2" fill="#111111"/>
<circle cx="605.4" cy="243.5" r="3.2" fill="#111111"/>
<circle cx="608.9" cy="244.7" r="3.2" fill="#111111"/>
<circle cx="612.9" cy="244.7" r="3.2" fill="#111111"/>
<circle cx="616.8" cy="242.4" r="3.2" fill="#111111"/>
<circle cx="620.4" cy="238.0" r="3.2" fill="#111111"/>
<circle cx="623.8" cy="235.6" r="3.2" fill="#111111"/>
<circle cx="611.2" cy="255.0" r="3.2" fill="#111111"/>
<circle cx="620.6" cy="259.9" r="3.2" fill="#111111"/>
<circle cx="601.8" cy="263.7" r="3.2" fill="#111111"/>
<circle cx="611.2" cy="265.6" r="3.2" fill="#111111"/>
<circle cx="615.9" cy="276.7" r="3.2" fill="#111111"/>
<circle cx="606.6" cy="281.0" r="3.2" fill="#111111"/>
<circle cx="601.8" cy="289.3" r="3.2" fill="#111111"/>
<circle cx="620.6" cy="287.5" r="3.2" fill="#111111"/>
<circle cx="611.2" cy="295.9" r="3.2" fill="#111111"/>
<circle cx="611.2" cy="308.7" r="3.2" fill="#111111"/>
<line x1="611.2" y1="154.3" x2="611.2" y2="253.4" stroke="#231f20" stroke-width="1.6"/>
<line x1="594.0" y1="203.5" x2="628.7" y2="203.5" stroke="#231f20" stroke-width="1.6"/>
<line x1="602.6" y1="154.3" x2="620.0" y2="154.3" stroke="#231f20" stroke-width="1.6"/>
<line x1="602.6" y1="253.4" x2="620.0" y2="253.4" stroke="#231f20" stroke-width="1.6"/>
<circle cx="662.0" cy="248.6" r="3.2" fill="#e0312d"/>
<circle cx="666.9" cy="256.7" r="3.2" fill="#e0312d"/>
<circle cx="657.5" cy="265.2" r="3.2" fill="#e0312d"/>
<circle cx="671.4" cy="267.4" r="3.2" fill="#e0312d"/>
<circle cx="652.7" cy="273.7" r="3.2" fill="#e0312d"/>
<circle cx="662.0" cy="276.7" r="3.2" fill="#e0312d"/>
<circle cx="652.7" cy="283.8" r="3.2" fill="#e0312d"/>
<circle cx="662.0" cy="286.8" r="3.2" fill="#e0312d"/>
<circle cx="671.4" cy="285.9" r="3.2" fill="#e0312d"/>
<circle cx="647.9" cy="296.6" r="3.2" fill="#e0312d"/>
<circle cx="676.2" cy="296.6" r="3.2" fill="#e0312d"/>
<circle cx="657.0" cy="298.5" r="3.2" fill="#e0312d"/>
<circle cx="662.0" cy="298.5" r="3.2" fill="#e0312d"/>
<circle cx="667.1" cy="298.5" r="3.2" fill="#e0312d"/>
<circle cx="650.2" cy="302.0" r="3.2" fill="#e0312d"/>
<circle cx="654.0" cy="302.0" r="3.2" fill="#e0312d"/>
<circle cx="670.0" cy="302.0" r="3.2" fill="#e0312d"/>
<circle cx="675.0" cy="302.0" r="3.2" fill="#e0312d"/>
<circle cx="647.0" cy="306.0" r="3.2" fill="#e0312d"/>
<circle cx="652.0" cy="306.0" r="3.2" fill="#e0312d"/>
<circle cx="657.0" cy="306.0" r="3.2" fill="#e0312d"/>
<circle cx="667.0" cy="306.0" r="3.2" fill="#e0312d"/>
<circle cx="672.0" cy="306.0" r="3.2" fill="#e0312d"/>
<circle cx="677.0" cy="306.0" r="3.2" fill="#e0312d"/>
<circle cx="647.5" cy="310.0" r="3.2" fill="#e0312d"/>
<circle cx="652.5" cy="310.0" r="3.2" fill="#e0312d"/>
<circle cx="657.5" cy="310.0" r="3.2" fill="#e0312d"/>
<circle cx="666.5" cy="310.0" r="3.2" fill="#e0312d"/>
<circle cx="671.5" cy="310.0" r="3.2" fill="#e0312d"/>
<circle cx="676.5" cy="310.0" r="3.2" fill="#e0312d"/>
<circle cx="648.0" cy="314.0" r="3.2" fill="#e0312d"/>
<circle cx="653.0" cy="314.0" r="3.2" fill="#e0312d"/>
<circle cx="658.0" cy="314.0" r="3.2" fill="#e0312d"/>
<circle cx="662.0" cy="314.0" r="3.2" fill="#e0312d"/>
<circle cx="666.0" cy="314.0" r="3.2" fill="#e0312d"/>
<circle cx="671.0" cy="314.0" r="3.2" fill="#e0312d"/>
<circle cx="676.0" cy="314.0" r="3.2" fill="#e0312d"/>
<circle cx="655.0" cy="317.0" r="3.2" fill="#e0312d"/>
<circle cx="660.0" cy="317.0" r="3.2" fill="#e0312d"/>
<circle cx="664.0" cy="317.0" r="3.2" fill="#e0312d"/>
<circle cx="669.0" cy="317.0" r="3.2" fill="#e0312d"/>
<circle cx="648.5" cy="321.0" r="3.2" fill="#e0312d"/>
<circle cx="653.5" cy="321.0" r="3.2" fill="#e0312d"/>
<circle cx="658.5" cy="321.0" r="3.2" fill="#e0312d"/>
<circle cx="665.5" cy="321.0" r="3.2" fill="#e0312d"/>
<circle cx="670.5" cy="321.0" r="3.2" fill="#e0312d"/>
<circle cx="675.5" cy="321.0" r="3.2" fill="#e0312d"/>
<circle cx="649.0" cy="325.0" r="3.2" fill="#e0312d"/>
<circle cx="654.0" cy="325.0" r="3.2" fill="#e0312d"/>
<circle cx="659.0" cy="325.0" r="3.2" fill="#e0312d"/>
<circle cx="665.0" cy="325.0" r="3.2" fill="#e0312d"/>
<circle cx="670.0" cy="325.0" r="3.2" fill="#e0312d"/>
<circle cx="675.0" cy="325.0" r="3.2" fill="#e0312d"/>
<circle cx="655.0" cy="328.5" r="3.2" fill="#e0312d"/>
<circle cx="660.0" cy="328.5" r="3.2" fill="#e0312d"/>
<circle cx="664.0" cy="328.5" r="3.2" fill="#e0312d"/>
<circle cx="669.0" cy="328.5" r="3.2" fill="#e0312d"/>
<line x1="662.0" y1="289.7" x2="662.0" y2="324.0" stroke="#231f20" stroke-width="1.6"/>
<line x1="644.7" y1="307.2" x2="679.7" y2="307.2" stroke="#231f20" stroke-width="1.6"/>
<line x1="653.3" y1="289.7" x2="670.8" y2="289.7" stroke="#231f20" stroke-width="1.6"/>
<line x1="653.3" y1="324.0" x2="670.8" y2="324.0" stroke="#231f20" stroke-width="1.6"/>
<circle cx="713.0" cy="226.8" r="3.2" fill="#3f56b0"/>
<circle cx="703.7" cy="242.0" r="3.2" fill="#3f56b0"/>
<circle cx="713.0" cy="246.2" r="3.2" fill="#3f56b0"/>
<circle cx="722.4" cy="245.5" r="3.2" fill="#3f56b0"/>
<circle cx="700.5" cy="271.5" r="3.2" fill="#3f56b0"/>
<circle cx="708.7" cy="273.0" r="3.2" fill="#3f56b0"/>
<circle cx="717.4" cy="275.8" r="3.2" fill="#3f56b0"/>
<circle cx="725.5" cy="273.0" r="3.2" fill="#3f56b0"/>
<circle cx="700.1" cy="283.1" r="3.2" fill="#3f56b0"/>
<circle cx="708.1" cy="281.3" r="3.2" fill="#3f56b0"/>
<circle cx="717.9" cy="281.6" r="3.2" fill="#3f56b0"/>
<circle cx="725.8" cy="282.4" r="3.2" fill="#3f56b0"/>
<circle cx="708.6" cy="273.1" r="3.2" fill="#3f56b0"/>
<circle cx="717.3" cy="275.2" r="3.2" fill="#3f56b0"/>
<circle cx="708.1" cy="280.5" r="3.2" fill="#3f56b0"/>
<circle cx="717.9" cy="278.9" r="3.2" fill="#3f56b0"/>
<circle cx="702.6" cy="286.8" r="3.2" fill="#3f56b0"/>
<circle cx="706.8" cy="288.4" r="3.2" fill="#3f56b0"/>
<circle cx="713.1" cy="288.4" r="3.2" fill="#3f56b0"/>
<circle cx="719.4" cy="287.3" r="3.2" fill="#3f56b0"/>
<circle cx="710.0" cy="285.0" r="3.2" fill="#3f56b0"/>
<circle cx="716.0" cy="284.0" r="3.2" fill="#3f56b0"/>
<circle cx="699.9" cy="295.2" r="3.2" fill="#3f56b0"/>
<circle cx="705.7" cy="293.7" r="3.2" fill="#3f56b0"/>
<circle cx="709.4" cy="291.6" r="3.2" fill="#3f56b0"/>
<circle cx="716.8" cy="291.6" r="3.2" fill="#3f56b0"/>
<circle cx="721.6" cy="294.2" r="3.2" fill="#3f56b0"/>
<circle cx="725.8" cy="295.2" r="3.2" fill="#3f56b0"/>
<circle cx="703.0" cy="290.5" r="3.2" fill="#3f56b0"/>
<circle cx="723.0" cy="290.0" r="3.2" fill="#3f56b0"/>
<circle cx="699.9" cy="301.0" r="3.2" fill="#3f56b0"/>
<circle cx="704.7" cy="302.1" r="3.2" fill="#3f56b0"/>
<circle cx="709.4" cy="298.9" r="3.2" fill="#3f56b0"/>
<circle cx="715.7" cy="298.4" r="3.2" fill="#3f56b0"/>
<circle cx="721.6" cy="300.0" r="3.2" fill="#3f56b0"/>
<circle cx="725.8" cy="302.1" r="3.2" fill="#3f56b0"/>
<circle cx="707.3" cy="305.8" r="3.2" fill="#3f56b0"/>
<circle cx="712.1" cy="309.5" r="3.2" fill="#3f56b0"/>
<circle cx="716.8" cy="307.9" r="3.2" fill="#3f56b0"/>
<circle cx="721.6" cy="305.3" r="3.2" fill="#3f56b0"/>
<line x1="713.0" y1="266.2" x2="713.0" y2="305.3" stroke="#231f20" stroke-width="1.6"/>
<line x1="695.2" y1="285.7" x2="730.8" y2="285.7" stroke="#231f20" stroke-width="1.6"/>
<line x1="704.1" y1="266.2" x2="721.8" y2="266.2" stroke="#231f20" stroke-width="1.6"/>
<line x1="704.1" y1="305.3" x2="721.8" y2="305.3" stroke="#231f20" stroke-width="1.6"/>
<text x="1.5" y="756.3" font-size="30" fill="#1a1a1a" text-anchor="start" font-weight="bold">d</text>
<text x="12.4" y="899.0" font-size="15" fill="#231f20" text-anchor="middle" stroke="#231f20" stroke-width="0.25" transform="rotate(-90 12.4 899)">Percentage (%) of recovery</text>
<text x="31.0" y="899.0" font-size="15" fill="#231f20" text-anchor="middle" stroke="#231f20" stroke-width="0.25" transform="rotate(-90 31 899)">after bleaching</text>
<line x1="79.9" y1="765.7" x2="79.9" y2="1077.0" stroke="#000000" stroke-width="3.0"/>
<line x1="69.4" y1="1074.3" x2="79.9" y2="1074.3" stroke="#000000" stroke-width="2.4"/>
<text x="66.0" y="1079.5" font-size="15" fill="#231f20" text-anchor="end" stroke="#231f20" stroke-width="0.25">0</text>
<line x1="69.4" y1="1012.8" x2="79.9" y2="1012.8" stroke="#000000" stroke-width="2.4"/>
<text x="66.0" y="1018.0" font-size="15" fill="#231f20" text-anchor="end" stroke="#231f20" stroke-width="0.25">10</text>
<line x1="69.4" y1="951.3" x2="79.9" y2="951.3" stroke="#000000" stroke-width="2.4"/>
<text x="66.0" y="956.5" font-size="15" fill="#231f20" text-anchor="end" stroke="#231f20" stroke-width="0.25">20</text>
<line x1="69.4" y1="889.8" x2="79.9" y2="889.8" stroke="#000000" stroke-width="2.4"/>
<text x="66.0" y="895.0" font-size="15" fill="#231f20" text-anchor="end" stroke="#231f20" stroke-width="0.25">30</text>
<line x1="69.4" y1="828.3" x2="79.9" y2="828.3" stroke="#000000" stroke-width="2.4"/>
<text x="66.0" y="833.5" font-size="15" fill="#231f20" text-anchor="end" stroke="#231f20" stroke-width="0.25">40</text>
<line x1="69.4" y1="766.8" x2="79.9" y2="766.8" stroke="#000000" stroke-width="2.4"/>
<text x="66.0" y="772.0" font-size="15" fill="#231f20" text-anchor="end" stroke="#231f20" stroke-width="0.25">50</text>
<line x1="73.4" y1="1053.8" x2="79.9" y2="1053.8" stroke="#000000" stroke-width="2.4"/>
<line x1="73.4" y1="1033.3" x2="79.9" y2="1033.3" stroke="#000000" stroke-width="2.4"/>
<line x1="73.4" y1="992.3" x2="79.9" y2="992.3" stroke="#000000" stroke-width="2.4"/>
<line x1="73.4" y1="971.8" x2="79.9" y2="971.8" stroke="#000000" stroke-width="2.4"/>
<line x1="73.4" y1="930.8" x2="79.9" y2="930.8" stroke="#000000" stroke-width="2.4"/>
<line x1="73.4" y1="910.3" x2="79.9" y2="910.3" stroke="#000000" stroke-width="2.4"/>
<line x1="73.4" y1="869.3" x2="79.9" y2="869.3" stroke="#000000" stroke-width="2.4"/>
<line x1="73.4" y1="848.8" x2="79.9" y2="848.8" stroke="#000000" stroke-width="2.4"/>
<line x1="73.4" y1="807.8" x2="79.9" y2="807.8" stroke="#000000" stroke-width="2.4"/>
<line x1="73.4" y1="787.3" x2="79.9" y2="787.3" stroke="#000000" stroke-width="2.4"/>
<line x1="69.4" y1="1074.3" x2="286.7" y2="1074.3" stroke="#000000" stroke-width="3.0"/>
<line x1="79.9" y1="1074.3" x2="79.9" y2="1084.1" stroke="#000000" stroke-width="2.6"/>
<line x1="147.8" y1="1074.3" x2="147.8" y2="1084.1" stroke="#000000" stroke-width="2.6"/>
<line x1="215.8" y1="1074.3" x2="215.8" y2="1084.1" stroke="#000000" stroke-width="2.6"/>
<line x1="283.6" y1="1074.3" x2="283.6" y2="1084.1" stroke="#000000" stroke-width="2.6"/>
<text x="79.9" y="1098.4" font-size="15" fill="#231f20" text-anchor="middle" stroke="#231f20" stroke-width="0.25">0</text>
<text x="146.2" y="1098.4" font-size="15" fill="#231f20" text-anchor="middle" stroke="#231f20" stroke-width="0.25">50</text>
<text x="212.2" y="1098.4" font-size="15" fill="#231f20" text-anchor="middle" stroke="#231f20" stroke-width="0.25">100</text>
<text x="278.7" y="1098.4" font-size="15" fill="#231f20" text-anchor="middle" stroke="#231f20" stroke-width="0.25">150</text>
<text x="293.0" y="1080.2" font-size="15" fill="#231f20" text-anchor="start" stroke="#231f20" stroke-width="0.25">Time (s)</text>
<path d="M116.5 906.3 L128.7 886.6 L140.9 876.1 L153.1 872.4 L165.7 860.5 L177.9 856.8 L189.7 855.1 L202.3 856.1 L214.2 856.8 L226.7 863.6 L238.6 858.8 L251.5 860.2 L263.4 867.6 L275.9 876.1 L284.4 873.0" stroke="#3f56b0" stroke-width="1.9" fill="none" stroke-linejoin="round"/>
<path d="M128.7 913.4 L140.9 900.9 L153.1 891.4 L165.7 883.2 L177.9 874.4 L189.7 869.7 L202.3 868.0 L214.2 863.9 L226.7 865.3 L238.6 865.3 L251.5 865.3 L263.4 862.6 L275.9 866.3 L284.4 865.3" stroke="#111111" stroke-width="1.9" fill="none" stroke-linejoin="round"/>
<path d="M116.5 934.5 L128.7 921.8 L140.9 908.3 L153.1 903.6 L165.7 903.3 L177.9 892.4 L189.7 893.4 L202.3 895.1 L214.2 895.1 L226.7 892.4 L238.6 895.1 L251.5 901.6 L263.4 899.2 L275.9 904.3 L284.4 904.3" stroke="#e0312d" stroke-width="1.9" fill="none" stroke-linejoin="round"/>
<line x1="81.2" y1="1058.6" x2="89.5" y2="1002.4" stroke="#4a55b0" stroke-width="1.5"/>
<line x1="81.5" y1="1058.6" x2="89.5" y2="1015.4" stroke="#111111" stroke-width="1.7"/>
<line x1="95.6" y1="967.5" x2="99.8" y2="953.0" stroke="#3f56b0" stroke-width="1.6"/>
<line x1="96.0" y1="985.0" x2="100.2" y2="972.0" stroke="#111111" stroke-width="1.8"/>
<line x1="98.5" y1="979.0" x2="100.2" y2="973.0" stroke="#e0312d" stroke-width="1.6"/>
<line x1="109.0" y1="924.0" x2="111.4" y2="920.0" stroke="#3f56b0" stroke-width="1.6"/>
<line x1="108.0" y1="949.7" x2="112.0" y2="940.8" stroke="#111111" stroke-width="1.8"/>
<line x1="108.5" y1="947.0" x2="110.0" y2="943.0" stroke="#e0312d" stroke-width="1.6"/>
<line x1="120.5" y1="922.0" x2="124.5" y2="917.0" stroke="#111111" stroke-width="1.7"/>
<line x1="120.5" y1="929.0" x2="124.5" y2="925.0" stroke="#e0312d" stroke-width="1.7"/>
<circle cx="92.0" cy="981.7" r="3.5" fill="#3f56b0"/>
<circle cx="103.9" cy="938.7" r="3.5" fill="#3f56b0"/>
<circle cx="116.5" cy="906.3" r="3.5" fill="#3f56b0"/>
<circle cx="128.7" cy="886.6" r="3.5" fill="#3f56b0"/>
<circle cx="140.9" cy="876.1" r="3.5" fill="#3f56b0"/>
<circle cx="153.1" cy="872.4" r="3.5" fill="#3f56b0"/>
<circle cx="165.7" cy="860.5" r="3.5" fill="#3f56b0"/>
<circle cx="177.9" cy="856.8" r="3.5" fill="#3f56b0"/>
<circle cx="189.7" cy="855.1" r="3.5" fill="#3f56b0"/>
<circle cx="202.3" cy="856.1" r="3.5" fill="#3f56b0"/>
<circle cx="214.2" cy="856.8" r="3.5" fill="#3f56b0"/>
<circle cx="226.7" cy="863.6" r="3.5" fill="#3f56b0"/>
<circle cx="238.6" cy="858.8" r="3.5" fill="#3f56b0"/>
<circle cx="251.5" cy="860.2" r="3.5" fill="#3f56b0"/>
<circle cx="263.4" cy="867.6" r="3.5" fill="#3f56b0"/>
<circle cx="275.9" cy="876.1" r="3.5" fill="#3f56b0"/>
<circle cx="103.9" cy="957.5" r="3.5" fill="#e0312d"/>
<circle cx="116.5" cy="934.5" r="3.5" fill="#e0312d"/>
<circle cx="128.7" cy="921.8" r="3.5" fill="#e0312d"/>
<circle cx="140.9" cy="908.3" r="3.5" fill="#e0312d"/>
<circle cx="153.1" cy="903.6" r="3.5" fill="#e0312d"/>
<circle cx="165.7" cy="903.3" r="3.5" fill="#e0312d"/>
<circle cx="177.9" cy="892.4" r="3.5" fill="#e0312d"/>
<circle cx="189.7" cy="893.4" r="3.5" fill="#e0312d"/>
<circle cx="202.3" cy="895.1" r="3.5" fill="#e0312d"/>
<circle cx="214.2" cy="895.1" r="3.5" fill="#e0312d"/>
<circle cx="226.7" cy="892.4" r="3.5" fill="#e0312d"/>
<circle cx="238.6" cy="895.1" r="3.5" fill="#e0312d"/>
<circle cx="251.5" cy="901.6" r="3.5" fill="#e0312d"/>
<circle cx="263.4" cy="899.2" r="3.5" fill="#e0312d"/>
<circle cx="275.9" cy="904.3" r="3.5" fill="#e0312d"/>
<circle cx="92.0" cy="1000.4" r="3.5" fill="#111111"/>
<circle cx="103.9" cy="960.3" r="3.5" fill="#111111"/>
<circle cx="116.5" cy="927.5" r="3.5" fill="#111111"/>
<circle cx="128.7" cy="913.4" r="3.5" fill="#111111"/>
<circle cx="140.9" cy="900.9" r="3.5" fill="#111111"/>
<circle cx="153.1" cy="891.4" r="3.5" fill="#111111"/>
<circle cx="165.7" cy="883.2" r="3.5" fill="#111111"/>
<circle cx="177.9" cy="874.4" r="3.5" fill="#111111"/>
<circle cx="189.7" cy="869.7" r="3.5" fill="#111111"/>
<circle cx="202.3" cy="868.0" r="3.5" fill="#111111"/>
<circle cx="214.2" cy="863.9" r="3.5" fill="#111111"/>
<circle cx="226.7" cy="865.3" r="3.5" fill="#111111"/>
<circle cx="238.6" cy="865.3" r="3.5" fill="#111111"/>
<circle cx="251.5" cy="865.3" r="3.5" fill="#111111"/>
<circle cx="263.4" cy="862.6" r="3.5" fill="#111111"/>
<circle cx="275.9" cy="866.3" r="3.5" fill="#111111"/>
<circle cx="79.9" cy="1074.3" r="3.3" fill="#111111"/>
<text x="291.9" y="865.8" font-size="15" fill="#231f20" text-anchor="start" stroke="#231f20" stroke-width="0.25">DMSO</text>
<text x="291.7" y="883.5" font-size="15" fill="#4a52a8" text-anchor="start" stroke="#4a52a8" stroke-width="0.25">Taxol</text>
<text x="291.7" y="912.5" font-size="15" fill="#d93838" text-anchor="start" stroke="#d93838" stroke-width="0.25">Noc</text>
<text x="346.0" y="756.5" font-size="30" fill="#1a1a1a" text-anchor="start" font-weight="bold">e</text>
<text x="362.9" y="933.5" font-size="15" fill="#231f20" text-anchor="middle" stroke="#231f20" stroke-width="0.25" transform="rotate(-90 362.9 933.5)">Percentage (%) of mobile pool</text>
<line x1="410.5" y1="795.7" x2="410.5" y2="1077.0" stroke="#000000" stroke-width="2.7"/>
<line x1="400.5" y1="1073.7" x2="410.5" y2="1073.7" stroke="#000000" stroke-width="2.2"/>
<text x="396.0" y="1078.9" font-size="15" fill="#231f20" text-anchor="end" stroke="#231f20" stroke-width="0.25">0</text>
<line x1="400.5" y1="1018.7" x2="410.5" y2="1018.7" stroke="#000000" stroke-width="2.2"/>
<text x="396.0" y="1023.9" font-size="15" fill="#231f20" text-anchor="end" stroke="#231f20" stroke-width="0.25">20</text>
<line x1="400.5" y1="963.7" x2="410.5" y2="963.7" stroke="#000000" stroke-width="2.2"/>
<text x="396.0" y="968.9" font-size="15" fill="#231f20" text-anchor="end" stroke="#231f20" stroke-width="0.25">40</text>
<line x1="400.5" y1="908.7" x2="410.5" y2="908.7" stroke="#000000" stroke-width="2.2"/>
<text x="396.0" y="913.9" font-size="15" fill="#231f20" text-anchor="end" stroke="#231f20" stroke-width="0.25">60</text>
<line x1="400.5" y1="853.7" x2="410.5" y2="853.7" stroke="#000000" stroke-width="2.2"/>
<text x="396.0" y="858.9" font-size="15" fill="#231f20" text-anchor="end" stroke="#231f20" stroke-width="0.25">80</text>
<line x1="400.5" y1="798.7" x2="410.5" y2="798.7" stroke="#000000" stroke-width="2.2"/>
<text x="396.0" y="803.9" font-size="15" fill="#231f20" text-anchor="end" stroke="#231f20" stroke-width="0.25">100</text>
<line x1="400.4" y1="1074.1" x2="551.8" y2="1074.1" stroke="#000000" stroke-width="2.8"/>
<line x1="433.2" y1="1074.1" x2="433.2" y2="1084.5" stroke="#000000" stroke-width="2.4"/>
<line x1="479.0" y1="1074.1" x2="479.0" y2="1084.5" stroke="#000000" stroke-width="2.4"/>
<line x1="525.0" y1="1074.1" x2="525.0" y2="1084.5" stroke="#000000" stroke-width="2.4"/>
<text x="430.5" y="1105.8" font-size="15" fill="#231f20" text-anchor="middle" stroke="#231f20" stroke-width="0.25">DMSO</text>
<text x="483.9" y="1105.8" font-size="15" fill="#231f20" text-anchor="middle" stroke="#231f20" stroke-width="0.25">Noc</text>
<text x="531.4" y="1105.8" font-size="15" fill="#231f20" text-anchor="middle" stroke="#231f20" stroke-width="0.25">Taxol</text>
<circle cx="437.8" cy="868.1" r="3.2" fill="#111111"/>
<circle cx="428.4" cy="873.7" r="3.2" fill="#111111"/>
<circle cx="421.5" cy="878.4" r="3.2" fill="#111111"/>
<circle cx="444.6" cy="878.4" r="3.2" fill="#111111"/>
<circle cx="429.2" cy="884.4" r="3.2" fill="#111111"/>
<circle cx="436.9" cy="884.4" r="3.2" fill="#111111"/>
<circle cx="422.8" cy="899.3" r="3.2" fill="#111111"/>
<circle cx="427.1" cy="901.0" r="3.2" fill="#111111"/>
<circle cx="431.0" cy="902.5" r="3.2" fill="#111111"/>
<circle cx="436.5" cy="900.2" r="3.2" fill="#111111"/>
<circle cx="443.8" cy="899.3" r="3.2" fill="#111111"/>
<circle cx="425.4" cy="908.7" r="3.2" fill="#111111"/>
<circle cx="437.4" cy="907.4" r="3.2" fill="#111111"/>
<circle cx="430.5" cy="915.6" r="3.2" fill="#111111"/>
<circle cx="435.6" cy="915.1" r="3.2" fill="#111111"/>
<circle cx="441.2" cy="913.8" r="3.2" fill="#111111"/>
<circle cx="422.8" cy="926.2" r="3.2" fill="#111111"/>
<circle cx="428.0" cy="928.4" r="3.2" fill="#111111"/>
<circle cx="433.1" cy="931.4" r="3.2" fill="#111111"/>
<circle cx="438.2" cy="930.1" r="3.2" fill="#111111"/>
<circle cx="444.2" cy="928.4" r="3.2" fill="#111111"/>
<circle cx="423.7" cy="934.4" r="3.2" fill="#111111"/>
<circle cx="442.5" cy="933.9" r="3.2" fill="#111111"/>
<circle cx="433.1" cy="942.1" r="3.2" fill="#111111"/>
<circle cx="422.0" cy="944.6" r="3.2" fill="#111111"/>
<circle cx="426.2" cy="948.0" r="3.2" fill="#111111"/>
<circle cx="430.5" cy="949.7" r="3.2" fill="#111111"/>
<circle cx="435.6" cy="948.9" r="3.2" fill="#111111"/>
<circle cx="439.9" cy="948.0" r="3.2" fill="#111111"/>
<circle cx="444.6" cy="946.8" r="3.2" fill="#111111"/>
<circle cx="433.1" cy="954.0" r="3.2" fill="#111111"/>
<circle cx="421.5" cy="958.3" r="3.2" fill="#111111"/>
<circle cx="429.2" cy="963.8" r="3.2" fill="#111111"/>
<circle cx="436.9" cy="963.8" r="3.2" fill="#111111"/>
<circle cx="445.0" cy="961.3" r="3.2" fill="#111111"/>
<circle cx="437.8" cy="975.8" r="3.2" fill="#111111"/>
<circle cx="428.4" cy="980.5" r="3.2" fill="#111111"/>
<line x1="433.1" y1="894.2" x2="433.1" y2="954.4" stroke="#231f20" stroke-width="1.6"/>
<line x1="417.3" y1="924.5" x2="448.9" y2="924.5" stroke="#231f20" stroke-width="1.6"/>
<line x1="425.4" y1="894.2" x2="441.2" y2="894.2" stroke="#231f20" stroke-width="1.6"/>
<line x1="425.4" y1="954.4" x2="441.2" y2="954.4" stroke="#231f20" stroke-width="1.6"/>
<circle cx="479.1" cy="919.8" r="3.2" fill="#e0312d"/>
<circle cx="479.1" cy="931.8" r="3.2" fill="#e0312d"/>
<circle cx="483.8" cy="933.7" r="3.2" fill="#e0312d"/>
<circle cx="474.8" cy="942.8" r="3.2" fill="#e0312d"/>
<circle cx="488.7" cy="944.1" r="3.2" fill="#e0312d"/>
<circle cx="469.7" cy="950.1" r="3.2" fill="#e0312d"/>
<circle cx="479.1" cy="952.9" r="3.2" fill="#e0312d"/>
<circle cx="483.8" cy="961.4" r="3.2" fill="#e0312d"/>
<circle cx="472.0" cy="966.5" r="3.2" fill="#e0312d"/>
<circle cx="474.8" cy="964.2" r="3.2" fill="#e0312d"/>
<circle cx="479.1" cy="969.3" r="3.2" fill="#e0312d"/>
<circle cx="482.1" cy="969.9" r="3.2" fill="#e0312d"/>
<circle cx="487.2" cy="966.8" r="3.2" fill="#e0312d"/>
<circle cx="468.6" cy="975.0" r="3.2" fill="#e0312d"/>
<circle cx="473.7" cy="978.9" r="3.2" fill="#e0312d"/>
<circle cx="479.1" cy="979.5" r="3.2" fill="#e0312d"/>
<circle cx="484.7" cy="977.8" r="3.2" fill="#e0312d"/>
<circle cx="489.8" cy="973.8" r="3.2" fill="#e0312d"/>
<circle cx="479.1" cy="989.1" r="3.2" fill="#e0312d"/>
<line x1="479.1" y1="941.6" x2="479.1" y2="976.1" stroke="#231f20" stroke-width="1.6"/>
<line x1="463.5" y1="960.5" x2="494.8" y2="960.5" stroke="#231f20" stroke-width="1.6"/>
<line x1="471.4" y1="941.6" x2="487.8" y2="941.6" stroke="#231f20" stroke-width="1.6"/>
<line x1="471.4" y1="976.1" x2="487.8" y2="976.1" stroke="#231f20" stroke-width="1.6"/>
<circle cx="473.7" cy="978.9" r="3.2" fill="#e0312d"/>
<circle cx="479.1" cy="979.5" r="3.2" fill="#e0312d"/>
<circle cx="484.7" cy="977.8" r="3.2" fill="#e0312d"/>
<circle cx="525.1" cy="902.0" r="3.2" fill="#3f56b0"/>
<circle cx="513.6" cy="916.0" r="3.2" fill="#3f56b0"/>
<circle cx="520.4" cy="914.5" r="3.2" fill="#3f56b0"/>
<circle cx="529.6" cy="914.1" r="3.2" fill="#3f56b0"/>
<circle cx="521.7" cy="923.2" r="3.2" fill="#3f56b0"/>
<circle cx="529.1" cy="924.1" r="3.2" fill="#3f56b0"/>
<circle cx="537.0" cy="923.2" r="3.2" fill="#3f56b0"/>
<circle cx="529.6" cy="929.8" r="3.2" fill="#3f56b0"/>
<circle cx="520.4" cy="934.5" r="3.2" fill="#3f56b0"/>
<circle cx="525.1" cy="947.6" r="3.2" fill="#3f56b0"/>
<circle cx="525.1" cy="974.1" r="3.2" fill="#3f56b0"/>
<line x1="525.1" y1="907.7" x2="525.1" y2="947.6" stroke="#231f20" stroke-width="1.6"/>
<line x1="509.3" y1="927.3" x2="540.9" y2="927.3" stroke="#231f20" stroke-width="1.6"/>
<line x1="517.2" y1="907.7" x2="533.2" y2="907.7" stroke="#231f20" stroke-width="1.6"/>
<line x1="517.2" y1="947.6" x2="533.2" y2="947.6" stroke="#231f20" stroke-width="1.6"/>
<text x="586.5" y="755.7" font-size="30" fill="#1a1a1a" text-anchor="start" font-weight="bold">f</text>
<line x1="612.0" y1="795.9" x2="612.0" y2="1077.5" stroke="#000000" stroke-width="2.7"/>
<line x1="602.0" y1="1074.4" x2="612.0" y2="1074.4" stroke="#000000" stroke-width="2.2"/>
<text x="595.5" y="1079.6" font-size="15" fill="#231f20" text-anchor="end" stroke="#231f20" stroke-width="0.25">0</text>
<line x1="602.0" y1="1019.1" x2="612.0" y2="1019.1" stroke="#000000" stroke-width="2.2"/>
<text x="595.5" y="1024.3" font-size="15" fill="#231f20" text-anchor="end" stroke="#231f20" stroke-width="0.25">20</text>
<line x1="602.0" y1="963.9" x2="612.0" y2="963.9" stroke="#000000" stroke-width="2.2"/>
<text x="595.5" y="969.0" font-size="15" fill="#231f20" text-anchor="end" stroke="#231f20" stroke-width="0.25">40</text>
<line x1="602.0" y1="908.6" x2="612.0" y2="908.6" stroke="#000000" stroke-width="2.2"/>
<text x="595.5" y="913.8" font-size="15" fill="#231f20" text-anchor="end" stroke="#231f20" stroke-width="0.25">60</text>
<line x1="602.0" y1="853.4" x2="612.0" y2="853.4" stroke="#000000" stroke-width="2.2"/>
<text x="595.5" y="858.5" font-size="15" fill="#231f20" text-anchor="end" stroke="#231f20" stroke-width="0.25">80</text>
<line x1="602.0" y1="798.1" x2="612.0" y2="798.1" stroke="#000000" stroke-width="2.2"/>
<text x="595.5" y="803.3" font-size="15" fill="#231f20" text-anchor="end" stroke="#231f20" stroke-width="0.25">100</text>
<line x1="601.5" y1="1074.4" x2="751.7" y2="1074.4" stroke="#000000" stroke-width="2.8"/>
<line x1="635.3" y1="1074.4" x2="635.3" y2="1084.8" stroke="#000000" stroke-width="2.4"/>
<line x1="681.3" y1="1074.4" x2="681.3" y2="1084.8" stroke="#000000" stroke-width="2.4"/>
<line x1="727.0" y1="1074.4" x2="727.0" y2="1084.8" stroke="#000000" stroke-width="2.4"/>
<text x="632.5" y="1106.0" font-size="15" fill="#231f20" text-anchor="middle" stroke="#231f20" stroke-width="0.25">DMSO</text>
<text x="682.5" y="1106.0" font-size="15" fill="#231f20" text-anchor="middle" stroke="#231f20" stroke-width="0.25">Noc</text>
<text x="734.0" y="1106.0" font-size="15" fill="#231f20" text-anchor="middle" stroke="#231f20" stroke-width="0.25">Taxol</text>
<circle cx="622.5" cy="861.5" r="3.2" fill="#111111"/>
<circle cx="631.0" cy="861.5" r="3.2" fill="#111111"/>
<circle cx="638.1" cy="861.5" r="3.2" fill="#111111"/>
<circle cx="646.1" cy="861.5" r="3.2" fill="#111111"/>
<circle cx="635.1" cy="914.9" r="3.2" fill="#111111"/>
<circle cx="630.3" cy="937.9" r="3.2" fill="#111111"/>
<circle cx="635.4" cy="936.2" r="3.2" fill="#111111"/>
<circle cx="626.9" cy="946.6" r="3.2" fill="#111111"/>
<circle cx="631.4" cy="946.6" r="3.2" fill="#111111"/>
<circle cx="635.4" cy="946.6" r="3.2" fill="#111111"/>
<circle cx="639.3" cy="946.6" r="3.2" fill="#111111"/>
<circle cx="643.3" cy="946.6" r="3.2" fill="#111111"/>
<circle cx="639.9" cy="955.2" r="3.2" fill="#111111"/>
<circle cx="625.7" cy="961.6" r="3.2" fill="#111111"/>
<circle cx="627.4" cy="967.8" r="3.2" fill="#111111"/>
<circle cx="632.0" cy="967.8" r="3.2" fill="#111111"/>
<circle cx="642.1" cy="967.8" r="3.2" fill="#111111"/>
<circle cx="632.0" cy="973.5" r="3.2" fill="#111111"/>
<circle cx="637.6" cy="973.5" r="3.2" fill="#111111"/>
<circle cx="625.7" cy="978.4" r="3.2" fill="#111111"/>
<circle cx="644.4" cy="978.4" r="3.2" fill="#111111"/>
<circle cx="635.1" cy="983.1" r="3.2" fill="#111111"/>
<circle cx="630.3" cy="991.0" r="3.2" fill="#111111"/>
<circle cx="625.7" cy="997.5" r="3.2" fill="#111111"/>
<circle cx="630.3" cy="997.5" r="3.2" fill="#111111"/>
<circle cx="634.8" cy="997.5" r="3.2" fill="#111111"/>
<circle cx="639.3" cy="997.5" r="3.2" fill="#111111"/>
<circle cx="643.8" cy="997.5" r="3.2" fill="#111111"/>
<circle cx="624.6" cy="1005.7" r="3.2" fill="#111111"/>
<circle cx="629.7" cy="1010.2" r="3.2" fill="#111111"/>
<circle cx="634.8" cy="1010.2" r="3.2" fill="#111111"/>
<circle cx="640.4" cy="1010.2" r="3.2" fill="#111111"/>
<circle cx="645.5" cy="1010.2" r="3.2" fill="#111111"/>
<circle cx="635.1" cy="1026.1" r="3.2" fill="#111111"/>
<circle cx="635.1" cy="1035.7" r="3.2" fill="#111111"/>
<line x1="635.3" y1="921.1" x2="635.3" y2="1012.4" stroke="#231f20" stroke-width="1.6"/>
<line x1="619.3" y1="966.7" x2="651.0" y2="966.7" stroke="#231f20" stroke-width="1.6"/>
<line x1="626.9" y1="921.1" x2="643.3" y2="921.1" stroke="#231f20" stroke-width="1.6"/>
<line x1="626.9" y1="1012.4" x2="643.3" y2="1012.4" stroke="#231f20" stroke-width="1.6"/>
<circle cx="681.1" cy="936.2" r="3.2" fill="#e0312d"/>
<circle cx="671.3" cy="976.0" r="3.2" fill="#e0312d"/>
<circle cx="681.1" cy="979.2" r="3.2" fill="#e0312d"/>
<circle cx="690.2" cy="978.6" r="3.2" fill="#e0312d"/>
<circle cx="676.1" cy="991.6" r="3.2" fill="#e0312d"/>
<circle cx="685.7" cy="991.6" r="3.2" fill="#e0312d"/>
<circle cx="672.7" cy="997.5" r="3.2" fill="#e0312d"/>
<circle cx="677.8" cy="997.5" r="3.2" fill="#e0312d"/>
<circle cx="682.8" cy="997.5" r="3.2" fill="#e0312d"/>
<circle cx="688.5" cy="997.5" r="3.2" fill="#e0312d"/>
<circle cx="670.4" cy="1005.7" r="3.2" fill="#e0312d"/>
<circle cx="676.1" cy="1010.2" r="3.2" fill="#e0312d"/>
<circle cx="681.1" cy="1014.8" r="3.2" fill="#e0312d"/>
<circle cx="686.2" cy="1010.2" r="3.2" fill="#e0312d"/>
<circle cx="691.3" cy="1010.2" r="3.2" fill="#e0312d"/>
<circle cx="676.1" cy="1019.3" r="3.2" fill="#e0312d"/>
<circle cx="685.7" cy="1026.6" r="3.2" fill="#e0312d"/>
<circle cx="681.1" cy="1037.9" r="3.2" fill="#e0312d"/>
<line x1="681.1" y1="976.3" x2="681.1" y2="1021.9" stroke="#231f20" stroke-width="1.6"/>
<line x1="665.3" y1="999.2" x2="696.6" y2="999.2" stroke="#231f20" stroke-width="1.6"/>
<line x1="673.2" y1="976.3" x2="689.1" y2="976.3" stroke="#231f20" stroke-width="1.6"/>
<line x1="673.2" y1="1021.9" x2="689.1" y2="1021.9" stroke="#231f20" stroke-width="1.6"/>
<circle cx="726.8" cy="978.7" r="3.0" fill="#3f56b0"/>
<circle cx="721.9" cy="991.0" r="3.0" fill="#3f56b0"/>
<circle cx="731.7" cy="991.0" r="3.0" fill="#3f56b0"/>
<circle cx="712.8" cy="1003.6" r="3.0" fill="#3f56b0"/>
<circle cx="726.8" cy="1006.1" r="3.0" fill="#3f56b0"/>
<circle cx="740.7" cy="1004.8" r="3.0" fill="#3f56b0"/>
<circle cx="717.3" cy="1010.6" r="3.0" fill="#3f56b0"/>
<circle cx="736.0" cy="1010.6" r="3.0" fill="#3f56b0"/>
<circle cx="726.8" cy="1016.1" r="3.0" fill="#3f56b0"/>
<circle cx="731.7" cy="1019.5" r="3.0" fill="#3f56b0"/>
<circle cx="722.2" cy="1026.3" r="3.0" fill="#3f56b0"/>
<line x1="726.8" y1="991.0" x2="726.8" y2="1019.5" stroke="#231f20" stroke-width="1.6"/>
<line x1="712.8" y1="1005.2" x2="740.7" y2="1005.2" stroke="#231f20" stroke-width="1.6"/>
<line x1="718.8" y1="991.0" x2="734.8" y2="991.0" stroke="#231f20" stroke-width="1.6"/>
<line x1="718.8" y1="1019.5" x2="734.8" y2="1019.5" stroke="#231f20" stroke-width="1.6"/>
<text x="565.1" y="946.0" font-size="15" fill="#231f20" text-anchor="middle" stroke="#231f20" stroke-width="0.25" transform="rotate(-90 565.1 946)">T-half (s)</text>
<text x="1.5" y="1145.3" font-size="30" fill="#1a1a1a" text-anchor="start" font-weight="bold">g</text>
<text x="12.4" y="1315.0" font-size="15" fill="#231f20" text-anchor="middle" stroke="#231f20" stroke-width="0.25" transform="rotate(-90 12.4 1315)">Percentage (%) of recovery</text>
<text x="31.0" y="1315.0" font-size="15" fill="#231f20" text-anchor="middle" stroke="#231f20" stroke-width="0.25" transform="rotate(-90 31 1315)">after bleaching</text>
<line x1="77.4" y1="1160.4" x2="77.4" y2="1477.7" stroke="#000000" stroke-width="2.7"/>
<line x1="67.2" y1="1468.2" x2="77.4" y2="1468.2" stroke="#000000" stroke-width="2.4"/>
<text x="63.5" y="1473.4" font-size="15" fill="#231f20" text-anchor="end" stroke="#231f20" stroke-width="0.25">0</text>
<line x1="67.2" y1="1407.0" x2="77.4" y2="1407.0" stroke="#000000" stroke-width="2.4"/>
<text x="63.5" y="1412.2" font-size="15" fill="#231f20" text-anchor="end" stroke="#231f20" stroke-width="0.25">10</text>
<line x1="67.2" y1="1345.9" x2="77.4" y2="1345.9" stroke="#000000" stroke-width="2.4"/>
<text x="63.5" y="1351.0" font-size="15" fill="#231f20" text-anchor="end" stroke="#231f20" stroke-width="0.25">20</text>
<line x1="67.2" y1="1284.7" x2="77.4" y2="1284.7" stroke="#000000" stroke-width="2.4"/>
<text x="63.5" y="1289.9" font-size="15" fill="#231f20" text-anchor="end" stroke="#231f20" stroke-width="0.25">30</text>
<line x1="67.2" y1="1223.6" x2="77.4" y2="1223.6" stroke="#000000" stroke-width="2.4"/>
<text x="63.5" y="1228.7" font-size="15" fill="#231f20" text-anchor="end" stroke="#231f20" stroke-width="0.25">40</text>
<line x1="67.2" y1="1162.4" x2="77.4" y2="1162.4" stroke="#000000" stroke-width="2.4"/>
<text x="63.5" y="1167.6" font-size="15" fill="#231f20" text-anchor="end" stroke="#231f20" stroke-width="0.25">50</text>
<line x1="70.9" y1="1447.8" x2="77.4" y2="1447.8" stroke="#000000" stroke-width="2.4"/>
<line x1="70.9" y1="1427.4" x2="77.4" y2="1427.4" stroke="#000000" stroke-width="2.4"/>
<line x1="70.9" y1="1386.7" x2="77.4" y2="1386.7" stroke="#000000" stroke-width="2.4"/>
<line x1="70.9" y1="1366.3" x2="77.4" y2="1366.3" stroke="#000000" stroke-width="2.4"/>
<line x1="70.9" y1="1325.5" x2="77.4" y2="1325.5" stroke="#000000" stroke-width="2.4"/>
<line x1="70.9" y1="1305.1" x2="77.4" y2="1305.1" stroke="#000000" stroke-width="2.4"/>
<line x1="70.9" y1="1264.3" x2="77.4" y2="1264.3" stroke="#000000" stroke-width="2.4"/>
<line x1="70.9" y1="1243.9" x2="77.4" y2="1243.9" stroke="#000000" stroke-width="2.4"/>
<line x1="70.9" y1="1203.2" x2="77.4" y2="1203.2" stroke="#000000" stroke-width="2.4"/>
<line x1="70.9" y1="1182.8" x2="77.4" y2="1182.8" stroke="#000000" stroke-width="2.4"/>
<line x1="67.2" y1="1468.2" x2="284.0" y2="1468.2" stroke="#000000" stroke-width="2.7"/>
<line x1="77.4" y1="1468.2" x2="77.4" y2="1477.7" stroke="#000000" stroke-width="2.4"/>
<line x1="145.2" y1="1468.2" x2="145.2" y2="1477.7" stroke="#000000" stroke-width="2.4"/>
<line x1="213.6" y1="1468.2" x2="213.6" y2="1477.7" stroke="#000000" stroke-width="2.4"/>
<line x1="281.1" y1="1468.2" x2="281.1" y2="1477.7" stroke="#000000" stroke-width="2.4"/>
<text x="77.7" y="1493.5" font-size="15" fill="#231f20" text-anchor="middle" stroke="#231f20" stroke-width="0.25">0</text>
<text x="145.2" y="1493.5" font-size="15" fill="#231f20" text-anchor="middle" stroke="#231f20" stroke-width="0.25">50</text>
<text x="212.7" y="1493.5" font-size="15" fill="#231f20" text-anchor="middle" stroke="#231f20" stroke-width="0.25">100</text>
<text x="279.8" y="1493.5" font-size="15" fill="#231f20" text-anchor="middle" stroke="#231f20" stroke-width="0.25">150</text>
<text x="291.8" y="1472.0" font-size="15" fill="#231f20" text-anchor="start" stroke="#231f20" stroke-width="0.25">Time (s)</text>
<path d="M77.6 1468.2 L89.6 1391.0 L101.9 1349.5 L114.0 1326.8 L126.4 1305.6 L138.9 1283.8 L150.7 1277.3 L163.2 1258.9 L175.3 1256.7 L187.5 1251.9 L199.9 1248.2 L212.1 1238.3 L224.2 1242.0 L236.7 1234.9 L248.8 1225.0 L261.0 1229.2 L273.4 1225.6 L282.7 1221.6" stroke="#ee878c" stroke-width="1.9" fill="none" stroke-linejoin="round"/>
<path d="M77.6 1468.2 L89.6 1389.8 L101.9 1348.0 L114.0 1314.9 L126.4 1291.4 L138.9 1273.6 L150.7 1260.9 L163.2 1239.7 L175.3 1238.3 L187.5 1222.2 L199.9 1215.1 L212.1 1210.3 L224.2 1205.8 L236.7 1203.0 L248.8 1199.6 L261.0 1197.6 L273.4 1191.9 L282.7 1184.9" stroke="#d0323c" stroke-width="1.9" fill="none" stroke-linejoin="round"/>
<path d="M77.6 1468.2 L89.6 1393.8 L101.9 1354.1 L114.0 1321.1 L126.4 1307.0 L138.9 1294.8 L150.7 1284.9 L163.2 1276.7 L175.3 1267.4 L187.5 1263.7 L199.9 1261.8 L212.1 1257.8 L224.2 1258.9 L236.7 1258.9 L248.8 1258.9 L261.0 1256.1 L273.4 1259.8 L282.7 1258.9" stroke="#111111" stroke-width="1.9" fill="none" stroke-linejoin="round"/>
<circle cx="89.6" cy="1391.0" r="3.4" fill="#ee878c"/>
<circle cx="101.9" cy="1349.5" r="3.4" fill="#ee878c"/>
<circle cx="114.0" cy="1326.8" r="3.4" fill="#ee878c"/>
<circle cx="126.4" cy="1305.6" r="3.4" fill="#ee878c"/>
<circle cx="138.9" cy="1283.8" r="3.4" fill="#ee878c"/>
<circle cx="150.7" cy="1277.3" r="3.4" fill="#ee878c"/>
<circle cx="163.2" cy="1258.9" r="3.4" fill="#ee878c"/>
<circle cx="175.3" cy="1256.7" r="3.4" fill="#ee878c"/>
<circle cx="187.5" cy="1251.9" r="3.4" fill="#ee878c"/>
<circle cx="199.9" cy="1248.2" r="3.4" fill="#ee878c"/>
<circle cx="212.1" cy="1238.3" r="3.4" fill="#ee878c"/>
<circle cx="224.2" cy="1242.0" r="3.4" fill="#ee878c"/>
<circle cx="236.7" cy="1234.9" r="3.4" fill="#ee878c"/>
<circle cx="248.8" cy="1225.0" r="3.4" fill="#ee878c"/>
<circle cx="261.0" cy="1229.2" r="3.4" fill="#ee878c"/>
<circle cx="273.4" cy="1225.6" r="3.4" fill="#ee878c"/>
<circle cx="89.6" cy="1389.8" r="3.4" fill="#d0323c"/>
<circle cx="101.9" cy="1348.0" r="3.4" fill="#d0323c"/>
<circle cx="114.0" cy="1314.9" r="3.4" fill="#d0323c"/>
<circle cx="126.4" cy="1291.4" r="3.4" fill="#d0323c"/>
<circle cx="138.9" cy="1273.6" r="3.4" fill="#d0323c"/>
<circle cx="150.7" cy="1260.9" r="3.4" fill="#d0323c"/>
<circle cx="163.2" cy="1239.7" r="3.4" fill="#d0323c"/>
<circle cx="175.3" cy="1238.3" r="3.4" fill="#d0323c"/>
<circle cx="187.5" cy="1222.2" r="3.4" fill="#d0323c"/>
<circle cx="199.9" cy="1215.1" r="3.4" fill="#d0323c"/>
<circle cx="212.1" cy="1210.3" r="3.4" fill="#d0323c"/>
<circle cx="224.2" cy="1205.8" r="3.4" fill="#d0323c"/>
<circle cx="236.7" cy="1203.0" r="3.4" fill="#d0323c"/>
<circle cx="248.8" cy="1199.6" r="3.4" fill="#d0323c"/>
<circle cx="261.0" cy="1197.6" r="3.4" fill="#d0323c"/>
<circle cx="273.4" cy="1191.9" r="3.4" fill="#d0323c"/>
<circle cx="89.6" cy="1393.8" r="3.4" fill="#111111"/>
<circle cx="101.9" cy="1354.1" r="3.4" fill="#111111"/>
<circle cx="114.0" cy="1321.1" r="3.4" fill="#111111"/>
<circle cx="126.4" cy="1307.0" r="3.4" fill="#111111"/>
<circle cx="138.9" cy="1294.8" r="3.4" fill="#111111"/>
<circle cx="150.7" cy="1284.9" r="3.4" fill="#111111"/>
<circle cx="163.2" cy="1276.7" r="3.4" fill="#111111"/>
<circle cx="175.3" cy="1267.4" r="3.4" fill="#111111"/>
<circle cx="187.5" cy="1263.7" r="3.4" fill="#111111"/>
<circle cx="199.9" cy="1261.8" r="3.4" fill="#111111"/>
<circle cx="212.1" cy="1257.8" r="3.4" fill="#111111"/>
<circle cx="224.2" cy="1258.9" r="3.4" fill="#111111"/>
<circle cx="236.7" cy="1258.9" r="3.4" fill="#111111"/>
<circle cx="248.8" cy="1258.9" r="3.4" fill="#111111"/>
<circle cx="261.0" cy="1256.1" r="3.4" fill="#111111"/>
<circle cx="273.4" cy="1259.8" r="3.4" fill="#111111"/>
<circle cx="77.6" cy="1468.2" r="3.2" fill="#111111"/>
<text x="291.6" y="1188.8" font-size="15" fill="#c83a45" text-anchor="start" stroke="#c83a45" stroke-width="0.25">siPCM1</text>
<text x="291.6" y="1225.5" font-size="15" fill="#e8848c" text-anchor="start" stroke="#e8848c" stroke-width="0.25">siPCM1</text>
<text x="292.0" y="1243.5" font-size="15" fill="#e8848c" text-anchor="start" stroke="#e8848c" stroke-width="0.25">+ nocodazole</text>
<text x="291.6" y="1266.1" font-size="15" fill="#231f20" text-anchor="start" stroke="#231f20" stroke-width="0.25">siControl</text>
<text x="347.0" y="1145.6" font-size="30" fill="#1a1a1a" text-anchor="start" font-weight="bold">h</text>
<text x="160.5" y="0.0" font-size="1" fill="#231f20" text-anchor="start"></text>
<text x="397.0" y="1295.4" font-size="15" fill="#231f20" text-anchor="middle" stroke="#231f20" stroke-width="0.25" transform="rotate(-90 397 1295.4)">Percentage (%) of mobile pool</text>
<line x1="447.1" y1="1160.6" x2="447.1" y2="1440.5" stroke="#000000" stroke-width="2.7"/>
<line x1="437.1" y1="1437.3" x2="447.1" y2="1437.3" stroke="#000000" stroke-width="2.2"/>
<text x="433.0" y="1442.5" font-size="15" fill="#231f20" text-anchor="end" stroke="#231f20" stroke-width="0.25">0</text>
<line x1="437.1" y1="1382.2" x2="447.1" y2="1382.2" stroke="#000000" stroke-width="2.2"/>
<text x="433.0" y="1387.3" font-size="15" fill="#231f20" text-anchor="end" stroke="#231f20" stroke-width="0.25">20</text>
<line x1="437.1" y1="1327.0" x2="447.1" y2="1327.0" stroke="#000000" stroke-width="2.2"/>
<text x="433.0" y="1332.2" font-size="15" fill="#231f20" text-anchor="end" stroke="#231f20" stroke-width="0.25">40</text>
<line x1="437.1" y1="1271.9" x2="447.1" y2="1271.9" stroke="#000000" stroke-width="2.2"/>
<text x="433.0" y="1277.0" font-size="15" fill="#231f20" text-anchor="end" stroke="#231f20" stroke-width="0.25">60</text>
<line x1="437.1" y1="1216.7" x2="447.1" y2="1216.7" stroke="#000000" stroke-width="2.2"/>
<text x="433.0" y="1221.9" font-size="15" fill="#231f20" text-anchor="end" stroke="#231f20" stroke-width="0.25">80</text>
<line x1="437.1" y1="1161.6" x2="447.1" y2="1161.6" stroke="#000000" stroke-width="2.2"/>
<text x="433.0" y="1166.8" font-size="15" fill="#231f20" text-anchor="end" stroke="#231f20" stroke-width="0.25">100</text>
<line x1="437.0" y1="1437.3" x2="585.0" y2="1437.3" stroke="#000000" stroke-width="2.8"/>
<line x1="470.0" y1="1437.3" x2="470.0" y2="1447.8" stroke="#000000" stroke-width="2.4"/>
<line x1="516.4" y1="1437.3" x2="516.4" y2="1447.8" stroke="#000000" stroke-width="2.4"/>
<line x1="563.1" y1="1437.3" x2="563.1" y2="1447.8" stroke="#000000" stroke-width="2.4"/>
<circle cx="475.1" cy="1241.6" r="3.2" fill="#111111"/>
<circle cx="465.8" cy="1247.4" r="3.2" fill="#111111"/>
<circle cx="458.8" cy="1262.3" r="3.2" fill="#111111"/>
<circle cx="466.7" cy="1263.5" r="3.2" fill="#111111"/>
<circle cx="474.6" cy="1267.1" r="3.2" fill="#111111"/>
<circle cx="482.2" cy="1262.3" r="3.2" fill="#111111"/>
<circle cx="465.8" cy="1270.6" r="3.2" fill="#111111"/>
<circle cx="478.1" cy="1271.5" r="3.2" fill="#111111"/>
<circle cx="462.3" cy="1276.4" r="3.2" fill="#111111"/>
<circle cx="468.5" cy="1278.5" r="3.2" fill="#111111"/>
<circle cx="472.9" cy="1278.5" r="3.2" fill="#111111"/>
<circle cx="460.9" cy="1291.2" r="3.2" fill="#111111"/>
<circle cx="479.9" cy="1290.8" r="3.2" fill="#111111"/>
<circle cx="470.2" cy="1297.0" r="3.2" fill="#111111"/>
<circle cx="475.1" cy="1308.0" r="3.2" fill="#111111"/>
<circle cx="465.8" cy="1312.8" r="3.2" fill="#111111"/>
<circle cx="460.9" cy="1324.6" r="3.2" fill="#111111"/>
<circle cx="479.9" cy="1321.6" r="3.2" fill="#111111"/>
<circle cx="470.2" cy="1327.4" r="3.2" fill="#111111"/>
<circle cx="470.2" cy="1339.5" r="3.2" fill="#111111"/>
<line x1="470.2" y1="1258.6" x2="470.2" y2="1313.3" stroke="#231f20" stroke-width="1.6"/>
<line x1="454.4" y1="1285.9" x2="486.1" y2="1285.9" stroke="#231f20" stroke-width="1.6"/>
<line x1="462.3" y1="1258.6" x2="478.1" y2="1258.6" stroke="#231f20" stroke-width="1.6"/>
<line x1="462.3" y1="1313.3" x2="478.1" y2="1313.3" stroke="#231f20" stroke-width="1.6"/>
<circle cx="511.9" cy="1190.9" r="3.2" fill="#e0312d"/>
<circle cx="521.2" cy="1199.0" r="3.2" fill="#e0312d"/>
<circle cx="504.9" cy="1207.3" r="3.2" fill="#e0312d"/>
<circle cx="513.0" cy="1208.7" r="3.2" fill="#e0312d"/>
<circle cx="520.3" cy="1208.7" r="3.2" fill="#e0312d"/>
<circle cx="528.3" cy="1204.6" r="3.2" fill="#e0312d"/>
<circle cx="504.9" cy="1217.5" r="3.2" fill="#e0312d"/>
<circle cx="513.0" cy="1221.9" r="3.2" fill="#e0312d"/>
<circle cx="528.3" cy="1221.9" r="3.2" fill="#e0312d"/>
<circle cx="520.3" cy="1226.6" r="3.2" fill="#e0312d"/>
<circle cx="521.2" cy="1231.9" r="3.2" fill="#e0312d"/>
<circle cx="507.2" cy="1239.8" r="3.2" fill="#e0312d"/>
<circle cx="511.9" cy="1241.6" r="3.2" fill="#e0312d"/>
<circle cx="521.2" cy="1249.5" r="3.2" fill="#e0312d"/>
<circle cx="516.5" cy="1260.5" r="3.2" fill="#e0312d"/>
<circle cx="516.5" cy="1291.7" r="3.2" fill="#e0312d"/>
<circle cx="511.9" cy="1311.6" r="3.2" fill="#e0312d"/>
<circle cx="521.2" cy="1308.4" r="3.2" fill="#e0312d"/>
<line x1="516.5" y1="1199.0" x2="516.5" y2="1271.8" stroke="#231f20" stroke-width="1.6"/>
<line x1="501.0" y1="1235.4" x2="532.7" y2="1235.4" stroke="#231f20" stroke-width="1.6"/>
<line x1="508.9" y1="1199.0" x2="524.7" y2="1199.0" stroke="#231f20" stroke-width="1.6"/>
<line x1="508.9" y1="1271.8" x2="524.7" y2="1271.8" stroke="#231f20" stroke-width="1.6"/>
<circle cx="562.9" cy="1217.8" r="3.2" fill="#ee878c"/>
<circle cx="551.1" cy="1238.9" r="3.2" fill="#ee878c"/>
<circle cx="558.7" cy="1241.2" r="3.2" fill="#ee878c"/>
<circle cx="567.0" cy="1239.4" r="3.2" fill="#ee878c"/>
<circle cx="574.5" cy="1237.2" r="3.2" fill="#ee878c"/>
<circle cx="553.4" cy="1250.3" r="3.2" fill="#ee878c"/>
<circle cx="572.2" cy="1250.0" r="3.2" fill="#ee878c"/>
<circle cx="562.9" cy="1256.0" r="3.2" fill="#ee878c"/>
<circle cx="567.5" cy="1261.3" r="3.2" fill="#ee878c"/>
<circle cx="558.2" cy="1267.1" r="3.2" fill="#ee878c"/>
<line x1="562.9" y1="1231.9" x2="562.9" y2="1260.0" stroke="#231f20" stroke-width="1.6"/>
<line x1="547.1" y1="1246.0" x2="578.7" y2="1246.0" stroke="#231f20" stroke-width="1.6"/>
<line x1="555.2" y1="1231.9" x2="571.0" y2="1231.9" stroke="#231f20" stroke-width="1.6"/>
<line x1="555.2" y1="1260.0" x2="571.0" y2="1260.0" stroke="#231f20" stroke-width="1.6"/>
<text x="467.3" y="1462.2" font-size="15" fill="#231f20" text-anchor="end" stroke="#231f20" stroke-width="0.25" transform="rotate(-45 467.3 1462.2)">siControl</text>
<text x="515.2" y="1465.2" font-size="15" fill="#231f20" text-anchor="end" stroke="#231f20" stroke-width="0.25" transform="rotate(-45 515.2 1465.2)">siPCM1</text>
<text x="551.0" y="1471.2" font-size="15" fill="#231f20" text-anchor="end" stroke="#231f20" stroke-width="0.25" transform="rotate(-45 551 1471.2)">siPCM1</text>
<text x="590.2" y="1459.4" font-size="15" fill="#231f20" text-anchor="end" stroke="#231f20" stroke-width="0.25" transform="rotate(-45 590.2 1459.4)">+ nocodazole</text>
<text x="594.5" y="1145.1" font-size="30" fill="#1a1a1a" text-anchor="start" font-weight="bold">i</text>
<text x="599.4" y="1312.0" font-size="15" fill="#231f20" text-anchor="middle" stroke="#231f20" stroke-width="0.25" transform="rotate(-90 599.4 1312)">T-half (s)</text>
<line x1="646.2" y1="1161.4" x2="646.2" y2="1443.5" stroke="#000000" stroke-width="2.7"/>
<line x1="636.2" y1="1440.4" x2="646.2" y2="1440.4" stroke="#000000" stroke-width="2.2"/>
<text x="632.0" y="1445.6" font-size="15" fill="#231f20" text-anchor="end" stroke="#231f20" stroke-width="0.25">0</text>
<line x1="636.2" y1="1385.1" x2="646.2" y2="1385.1" stroke="#000000" stroke-width="2.2"/>
<text x="632.0" y="1390.3" font-size="15" fill="#231f20" text-anchor="end" stroke="#231f20" stroke-width="0.25">20</text>
<line x1="636.2" y1="1329.9" x2="646.2" y2="1329.9" stroke="#000000" stroke-width="2.2"/>
<text x="632.0" y="1335.0" font-size="15" fill="#231f20" text-anchor="end" stroke="#231f20" stroke-width="0.25">40</text>
<line x1="636.2" y1="1274.6" x2="646.2" y2="1274.6" stroke="#000000" stroke-width="2.2"/>
<text x="632.0" y="1279.8" font-size="15" fill="#231f20" text-anchor="end" stroke="#231f20" stroke-width="0.25">60</text>
<line x1="636.2" y1="1219.4" x2="646.2" y2="1219.4" stroke="#000000" stroke-width="2.2"/>
<text x="632.0" y="1224.5" font-size="15" fill="#231f20" text-anchor="end" stroke="#231f20" stroke-width="0.25">80</text>
<line x1="636.2" y1="1164.1" x2="646.2" y2="1164.1" stroke="#000000" stroke-width="2.2"/>
<text x="632.0" y="1169.3" font-size="15" fill="#231f20" text-anchor="end" stroke="#231f20" stroke-width="0.25">100</text>
<line x1="636.0" y1="1440.4" x2="788.2" y2="1440.4" stroke="#000000" stroke-width="2.8"/>
<line x1="669.2" y1="1440.4" x2="669.2" y2="1450.4" stroke="#000000" stroke-width="2.4"/>
<line x1="715.2" y1="1440.4" x2="715.2" y2="1450.4" stroke="#000000" stroke-width="2.4"/>
<line x1="761.7" y1="1440.4" x2="761.7" y2="1450.4" stroke="#000000" stroke-width="2.4"/>
<circle cx="669.4" cy="1302.3" r="3.2" fill="#111111"/>
<circle cx="681.3" cy="1303.5" r="3.2" fill="#111111"/>
<circle cx="657.6" cy="1312.9" r="3.2" fill="#111111"/>
<circle cx="665.5" cy="1312.9" r="3.2" fill="#111111"/>
<circle cx="673.4" cy="1312.9" r="3.2" fill="#111111"/>
<circle cx="665.1" cy="1320.8" r="3.2" fill="#111111"/>
<circle cx="674.2" cy="1327.9" r="3.2" fill="#111111"/>
<circle cx="657.6" cy="1334.2" r="3.2" fill="#111111"/>
<circle cx="673.4" cy="1334.2" r="3.2" fill="#111111"/>
<circle cx="681.3" cy="1334.2" r="3.2" fill="#111111"/>
<circle cx="665.5" cy="1339.7" r="3.2" fill="#111111"/>
<circle cx="669.4" cy="1349.6" r="3.2" fill="#111111"/>
<circle cx="659.2" cy="1357.1" r="3.2" fill="#111111"/>
<circle cx="665.1" cy="1363.0" r="3.2" fill="#111111"/>
<circle cx="673.0" cy="1363.0" r="3.2" fill="#111111"/>
<circle cx="679.9" cy="1363.0" r="3.2" fill="#111111"/>
<circle cx="678.9" cy="1371.9" r="3.2" fill="#111111"/>
<circle cx="660.2" cy="1376.8" r="3.2" fill="#111111"/>
<circle cx="669.4" cy="1376.8" r="3.2" fill="#111111"/>
<circle cx="669.4" cy="1402.5" r="3.2" fill="#111111"/>
<line x1="669.8" y1="1316.8" x2="669.8" y2="1371.7" stroke="#231f20" stroke-width="1.6"/>
<line x1="653.5" y1="1344.7" x2="686.0" y2="1344.7" stroke="#231f20" stroke-width="1.6"/>
<line x1="661.6" y1="1316.8" x2="677.9" y2="1316.8" stroke="#231f20" stroke-width="1.6"/>
<line x1="661.6" y1="1371.7" x2="677.9" y2="1371.7" stroke="#231f20" stroke-width="1.6"/>
<circle cx="716.0" cy="1249.4" r="3.2" fill="#e0312d"/>
<circle cx="716.0" cy="1281.0" r="3.2" fill="#e0312d"/>
<circle cx="716.0" cy="1292.8" r="3.2" fill="#e0312d"/>
<circle cx="711.3" cy="1303.8" r="3.2" fill="#e0312d"/>
<circle cx="720.8" cy="1303.8" r="3.2" fill="#e0312d"/>
<circle cx="705.0" cy="1312.5" r="3.2" fill="#e0312d"/>
<circle cx="709.7" cy="1312.5" r="3.2" fill="#e0312d"/>
<circle cx="721.5" cy="1312.5" r="3.2" fill="#e0312d"/>
<circle cx="727.1" cy="1312.5" r="3.2" fill="#e0312d"/>
<circle cx="712.9" cy="1320.9" r="3.2" fill="#e0312d"/>
<circle cx="719.2" cy="1320.9" r="3.2" fill="#e0312d"/>
<circle cx="711.3" cy="1334.3" r="3.2" fill="#e0312d"/>
<circle cx="720.8" cy="1334.3" r="3.2" fill="#e0312d"/>
<circle cx="716.0" cy="1363.8" r="3.2" fill="#e0312d"/>
<circle cx="716.0" cy="1376.8" r="3.2" fill="#e0312d"/>
<line x1="716.0" y1="1287.3" x2="716.0" y2="1343.2" stroke="#231f20" stroke-width="1.6"/>
<line x1="700.3" y1="1316.4" x2="731.8" y2="1316.4" stroke="#231f20" stroke-width="1.6"/>
<line x1="708.2" y1="1287.3" x2="724.0" y2="1287.3" stroke="#231f20" stroke-width="1.6"/>
<line x1="708.2" y1="1343.2" x2="724.0" y2="1343.2" stroke="#231f20" stroke-width="1.6"/>
<circle cx="761.7" cy="1201.1" r="3.2" fill="#ee878c"/>
<circle cx="761.7" cy="1228.1" r="3.2" fill="#ee878c"/>
<circle cx="761.7" cy="1266.8" r="3.2" fill="#ee878c"/>
<circle cx="761.7" cy="1281.1" r="3.2" fill="#ee878c"/>
<circle cx="761.7" cy="1298.4" r="3.2" fill="#ee878c"/>
<circle cx="757.6" cy="1344.7" r="3.2" fill="#ee878c"/>
<circle cx="767.1" cy="1344.7" r="3.2" fill="#ee878c"/>
<circle cx="752.7" cy="1357.4" r="3.2" fill="#ee878c"/>
<circle cx="761.7" cy="1364.1" r="3.2" fill="#ee878c"/>
<circle cx="771.7" cy="1364.1" r="3.2" fill="#ee878c"/>
<line x1="761.7" y1="1245.7" x2="761.7" y2="1364.1" stroke="#231f20" stroke-width="1.6"/>
<line x1="746.3" y1="1304.6" x2="777.9" y2="1304.6" stroke="#231f20" stroke-width="1.6"/>
<line x1="753.6" y1="1245.7" x2="769.8" y2="1245.7" stroke="#231f20" stroke-width="1.6"/>
<line x1="753.6" y1="1364.1" x2="769.8" y2="1364.1" stroke="#231f20" stroke-width="1.6"/>
<text x="673.0" y="1465.5" font-size="15" fill="#231f20" text-anchor="end" stroke="#231f20" stroke-width="0.25" transform="rotate(-45 673 1465.5)">siControl</text>
<text x="718.8" y="1467.3" font-size="15" fill="#231f20" text-anchor="end" stroke="#231f20" stroke-width="0.25" transform="rotate(-45 718.8 1467.3)">siPCM1</text>
<text x="756.6" y="1474.2" font-size="15" fill="#231f20" text-anchor="end" stroke="#231f20" stroke-width="0.25" transform="rotate(-45 756.6 1474.2)">siPCM1</text>
<text x="797.0" y="1461.0" font-size="15" fill="#231f20" text-anchor="end" stroke="#231f20" stroke-width="0.25" transform="rotate(-45 797 1461)">+ nocodazole</text>
<path d="M610.9 64.9 V56.3 H705.5 V64.9" stroke="#2a2a2a" stroke-width="1.3" fill="none"/>
<path d="M610.9 78.9 V70.9 H659.1 V78.9" stroke="#2a2a2a" stroke-width="1.3" fill="none"/>
<path d="M434.7 810.6 V802.3 H529.3 V810.6" stroke="#2a2a2a" stroke-width="1.3" fill="none"/>
<path d="M434.7 832.7 V824.4 H482.4 V832.7" stroke="#2a2a2a" stroke-width="1.3" fill="none"/>
<path d="M482.4 820.2 V812.6 H528.6 V820.2" stroke="#2a2a2a" stroke-width="1.3" fill="none"/>
<path d="M635.4 808.2 V799.8 H729.6 V808.2" stroke="#2a2a2a" stroke-width="1.3" fill="none"/>
<path d="M683.0 820.7 V812.6 H729.3 V820.7" stroke="#2a2a2a" stroke-width="1.3" fill="none"/>
<path d="M635.4 832.3 V824.4 H683.0 V832.3" stroke="#2a2a2a" stroke-width="1.3" fill="none"/>
<path d="M468.6 1162.6 V1154.6 H563.4 V1162.6" stroke="#2a2a2a" stroke-width="1.3" fill="none"/>
<path d="M468.6 1187.5 V1179.5 H516.4 V1187.5" stroke="#2a2a2a" stroke-width="1.3" fill="none"/>
<path d="M516.4 1177.6 V1169.5 H563.0 V1177.6" stroke="#2a2a2a" stroke-width="1.3" fill="none"/>
<path d="M667.6 1166.3 V1158.0 H762.3 V1166.3" stroke="#2a2a2a" stroke-width="1.3" fill="none"/>
<path d="M715.6 1179.4 V1171.8 H762.3 V1179.4" stroke="#2a2a2a" stroke-width="1.3" fill="none"/>
<path d="M667.6 1190.4 V1182.6 H715.6 V1190.4" stroke="#2a2a2a" stroke-width="1.3" fill="none"/>
<text x="656.5" y="58.7" font-size="13" fill="#2a2a2a" text-anchor="middle" stroke="#2a2a2a" stroke-width="0.25">****</text>
<text x="636.7" y="73.3" font-size="13" fill="#2a2a2a" text-anchor="middle" stroke="#2a2a2a" stroke-width="0.25">****</text>
<text x="459.5" y="827.1" font-size="13" fill="#2a2a2a" text-anchor="middle" stroke="#2a2a2a" stroke-width="0.25">****</text>
<text x="507.0" y="815.7" font-size="13" fill="#2a2a2a" text-anchor="middle" stroke="#2a2a2a" stroke-width="0.25">**</text>
<text x="682.7" y="803.3" font-size="13" fill="#2a2a2a" text-anchor="middle" stroke="#2a2a2a" stroke-width="0.25">**</text>
<text x="659.2" y="827.1" font-size="13" fill="#2a2a2a" text-anchor="middle" stroke="#2a2a2a" stroke-width="0.25">**</text>
<text x="492.3" y="1183.3" font-size="13" fill="#2a2a2a" text-anchor="middle" stroke="#2a2a2a" stroke-width="0.25">*</text>
<text x="539.0" y="1172.9" font-size="13" fill="#2a2a2a" text-anchor="middle" stroke="#2a2a2a" stroke-width="0.25">***</text>
<text x="713.2" y="1160.2" font-size="13" fill="#2a2a2a" text-anchor="middle" stroke="#2a2a2a" stroke-width="0.25">***</text>
<text x="692.5" y="1184.6" font-size="13" fill="#2a2a2a" text-anchor="middle" stroke="#2a2a2a" stroke-width="0.25">****</text>
<text x="481.0" y="798.1" font-size="13" fill="#2a2a2a" text-anchor="middle" stroke="#2a2a2a" stroke-width="0.25">ns</text>
<text x="706.8" y="809.9" font-size="13" fill="#2a2a2a" text-anchor="middle" stroke="#2a2a2a" stroke-width="0.25">ns</text>
<text x="519.8" y="1150.5" font-size="13" fill="#2a2a2a" text-anchor="middle" stroke="#2a2a2a" stroke-width="0.25">ns</text>
<text x="740.6" y="1168.7" font-size="13" fill="#2a2a2a" text-anchor="middle" stroke="#2a2a2a" stroke-width="0.25">ns</text>
<text x="508.2" y="818.6" font-size="6" fill="#2a2a2a" text-anchor="middle">p=0.0038</text>
<text x="540.1" y="1175.8" font-size="6" fill="#2a2a2a" text-anchor="middle">p=0.0004</text>
</svg>
</body></html>
